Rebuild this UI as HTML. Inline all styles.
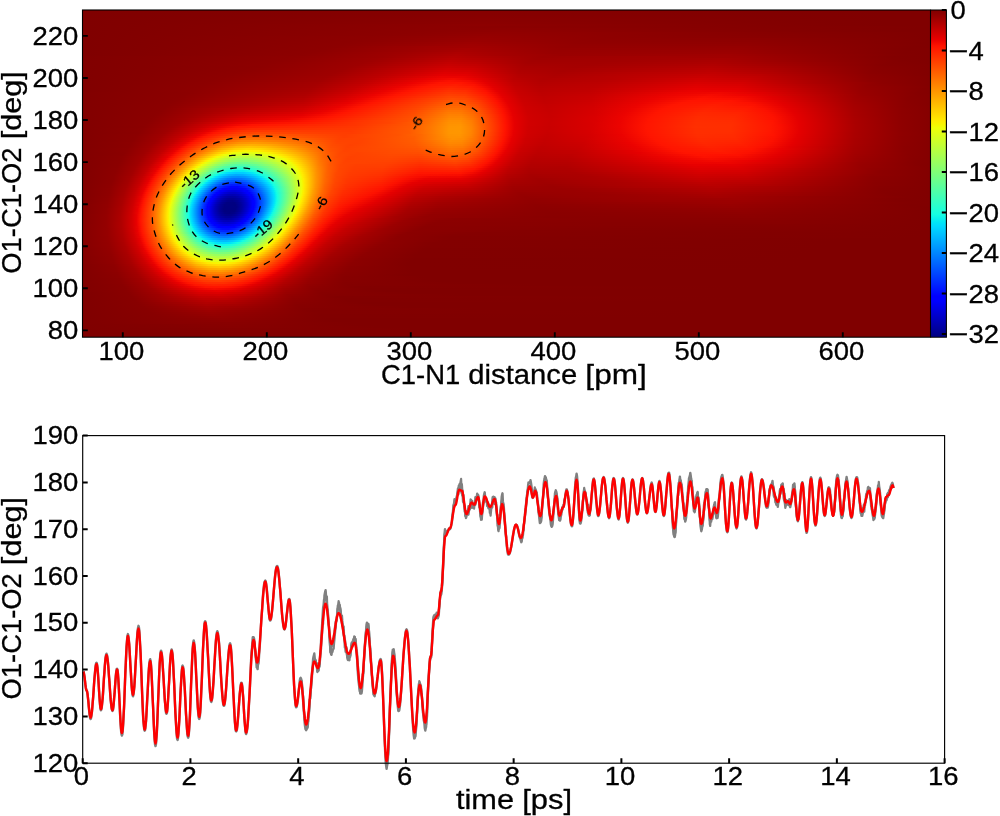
<!DOCTYPE html>
<html><head><meta charset="utf-8"><title>FES and angle time series</title>
<style>html,body{margin:0;padding:0;background:#fff}svg{display:block}text{font-family:"Liberation Sans",sans-serif}</style></head>
<body>
<svg width="1000" height="816" viewBox="0 0 1000 816">
<rect width="1000" height="816" fill="#fff"/>
<defs><linearGradient id="r0" gradientUnits="userSpaceOnUse" x1="83" x2="930" y1="0" y2="0"><stop offset="0.0005903" stop-color="#800000"/><stop offset="0.4728" stop-color="#860000"/><stop offset="0.9451" stop-color="#800000"/><stop offset="0.9994" stop-color="#800000"/></linearGradient><linearGradient id="r1" gradientUnits="userSpaceOnUse" x1="83" x2="930" y1="0" y2="0"><stop offset="0.0005903" stop-color="#800000"/><stop offset="0.4728" stop-color="#870000"/><stop offset="0.9451" stop-color="#800000"/><stop offset="0.9994" stop-color="#800000"/></linearGradient><linearGradient id="r2" gradientUnits="userSpaceOnUse" x1="83" x2="930" y1="0" y2="0"><stop offset="0.0005903" stop-color="#800000"/><stop offset="0.4728" stop-color="#870000"/><stop offset="0.9451" stop-color="#800000"/><stop offset="0.9994" stop-color="#800000"/></linearGradient><linearGradient id="r3" gradientUnits="userSpaceOnUse" x1="83" x2="930" y1="0" y2="0"><stop offset="0.0005903" stop-color="#800000"/><stop offset="0.4728" stop-color="#880000"/><stop offset="0.9451" stop-color="#800000"/><stop offset="0.9994" stop-color="#800000"/></linearGradient><linearGradient id="r4" gradientUnits="userSpaceOnUse" x1="83" x2="930" y1="0" y2="0"><stop offset="0.0005903" stop-color="#800000"/><stop offset="0.4728" stop-color="#890000"/><stop offset="0.9451" stop-color="#800000"/><stop offset="0.9994" stop-color="#800000"/></linearGradient><linearGradient id="r5" gradientUnits="userSpaceOnUse" x1="83" x2="930" y1="0" y2="0"><stop offset="0.0005903" stop-color="#800000"/><stop offset="0.4728" stop-color="#8a0000"/><stop offset="0.9451" stop-color="#800000"/><stop offset="0.9994" stop-color="#800000"/></linearGradient><linearGradient id="r6" gradientUnits="userSpaceOnUse" x1="83" x2="930" y1="0" y2="0"><stop offset="0.0005903" stop-color="#800000"/><stop offset="0.4728" stop-color="#8b0000"/><stop offset="0.9451" stop-color="#800000"/><stop offset="0.9994" stop-color="#800000"/></linearGradient><linearGradient id="r7" gradientUnits="userSpaceOnUse" x1="83" x2="930" y1="0" y2="0"><stop offset="0.0005903" stop-color="#800000"/><stop offset="0.4728" stop-color="#8d0000"/><stop offset="0.9451" stop-color="#800000"/><stop offset="0.9994" stop-color="#800000"/></linearGradient><linearGradient id="r8" gradientUnits="userSpaceOnUse" x1="83" x2="930" y1="0" y2="0"><stop offset="0.0005903" stop-color="#800000"/><stop offset="0.4162" stop-color="#8c0000"/><stop offset="0.5579" stop-color="#8a0000"/><stop offset="0.9994" stop-color="#800000"/></linearGradient><linearGradient id="r9" gradientUnits="userSpaceOnUse" x1="83" x2="930" y1="0" y2="0"><stop offset="0.0005903" stop-color="#800000"/><stop offset="0.4008" stop-color="#8c0000"/><stop offset="0.5118" stop-color="#8d0000"/><stop offset="0.9841" stop-color="#800000"/><stop offset="0.9994" stop-color="#800000"/></linearGradient><linearGradient id="r10" gradientUnits="userSpaceOnUse" x1="83" x2="930" y1="0" y2="0"><stop offset="0.0005903" stop-color="#800000"/><stop offset="0.3867" stop-color="#8c0000"/><stop offset="0.4953" stop-color="#900000"/><stop offset="0.9675" stop-color="#800000"/><stop offset="0.9994" stop-color="#800000"/></linearGradient><linearGradient id="r11" gradientUnits="userSpaceOnUse" x1="83" x2="930" y1="0" y2="0"><stop offset="0.0005903" stop-color="#800000"/><stop offset="0.3749" stop-color="#8c0000"/><stop offset="0.4847" stop-color="#920000"/><stop offset="0.6747" stop-color="#8c0000"/><stop offset="0.9994" stop-color="#800000"/></linearGradient><linearGradient id="r12" gradientUnits="userSpaceOnUse" x1="83" x2="930" y1="0" y2="0"><stop offset="0.0005903" stop-color="#800000"/><stop offset="0.363" stop-color="#8c0000"/><stop offset="0.4776" stop-color="#940000"/><stop offset="0.6464" stop-color="#8d0000"/><stop offset="0.8447" stop-color="#870000"/><stop offset="0.9994" stop-color="#800000"/></linearGradient><linearGradient id="r13" gradientUnits="userSpaceOnUse" x1="83" x2="930" y1="0" y2="0"><stop offset="0.0005903" stop-color="#800000"/><stop offset="0.3512" stop-color="#8d0000"/><stop offset="0.4717" stop-color="#960000"/><stop offset="0.6275" stop-color="#8e0000"/><stop offset="0.82" stop-color="#890000"/><stop offset="0.9994" stop-color="#800000"/></linearGradient><linearGradient id="r14" gradientUnits="userSpaceOnUse" x1="83" x2="930" y1="0" y2="0"><stop offset="0.0005903" stop-color="#800000"/><stop offset="0.3394" stop-color="#8d0000"/><stop offset="0.4669" stop-color="#980000"/><stop offset="0.6122" stop-color="#8f0000"/><stop offset="0.8058" stop-color="#8c0000"/><stop offset="0.9994" stop-color="#800000"/></linearGradient><linearGradient id="r15" gradientUnits="userSpaceOnUse" x1="83" x2="930" y1="0" y2="0"><stop offset="0.0005903" stop-color="#800000"/><stop offset="0.3288" stop-color="#8d0000"/><stop offset="0.4634" stop-color="#9a0000"/><stop offset="0.5992" stop-color="#900000"/><stop offset="0.7952" stop-color="#8e0000"/><stop offset="0.9994" stop-color="#800000"/></linearGradient><linearGradient id="r16" gradientUnits="userSpaceOnUse" x1="83" x2="930" y1="0" y2="0"><stop offset="0.0005903" stop-color="#800000"/><stop offset="0.317" stop-color="#8d0000"/><stop offset="0.4599" stop-color="#9d0000"/><stop offset="0.5885" stop-color="#910000"/><stop offset="0.7881" stop-color="#900000"/><stop offset="0.9935" stop-color="#800000"/><stop offset="0.9994" stop-color="#800000"/></linearGradient><linearGradient id="r17" gradientUnits="userSpaceOnUse" x1="83" x2="930" y1="0" y2="0"><stop offset="0.0005903" stop-color="#800000"/><stop offset="0.3064" stop-color="#8d0000"/><stop offset="0.4575" stop-color="#a00000"/><stop offset="0.5791" stop-color="#930000"/><stop offset="0.7822" stop-color="#920000"/><stop offset="0.9864" stop-color="#810000"/><stop offset="0.9994" stop-color="#800000"/></linearGradient><linearGradient id="r18" gradientUnits="userSpaceOnUse" x1="83" x2="930" y1="0" y2="0"><stop offset="0.0005903" stop-color="#800000"/><stop offset="0.2969" stop-color="#8d0000"/><stop offset="0.4126" stop-color="#9f0000"/><stop offset="0.4669" stop-color="#a20000"/><stop offset="0.5685" stop-color="#940000"/><stop offset="0.7774" stop-color="#950000"/><stop offset="0.9793" stop-color="#810000"/><stop offset="0.9994" stop-color="#800000"/></linearGradient><linearGradient id="r19" gradientUnits="userSpaceOnUse" x1="83" x2="930" y1="0" y2="0"><stop offset="0.0005903" stop-color="#800000"/><stop offset="0.2863" stop-color="#8d0000"/><stop offset="0.3949" stop-color="#9e0000"/><stop offset="0.454" stop-color="#a60000"/><stop offset="0.5626" stop-color="#960000"/><stop offset="0.7739" stop-color="#970000"/><stop offset="0.9746" stop-color="#810000"/><stop offset="0.9994" stop-color="#810000"/></linearGradient><linearGradient id="r20" gradientUnits="userSpaceOnUse" x1="83" x2="930" y1="0" y2="0"><stop offset="0.0005903" stop-color="#800000"/><stop offset="0.2769" stop-color="#8d0000"/><stop offset="0.3831" stop-color="#9d0000"/><stop offset="0.4481" stop-color="#a90000"/><stop offset="0.5579" stop-color="#980000"/><stop offset="0.7704" stop-color="#9a0000"/><stop offset="0.9711" stop-color="#820000"/><stop offset="0.9994" stop-color="#810000"/></linearGradient><linearGradient id="r21" gradientUnits="userSpaceOnUse" x1="83" x2="930" y1="0" y2="0"><stop offset="0.0005903" stop-color="#800000"/><stop offset="0.2686" stop-color="#8d0000"/><stop offset="0.3737" stop-color="#9e0000"/><stop offset="0.4433" stop-color="#ad0000"/><stop offset="0.5543" stop-color="#990000"/><stop offset="0.7668" stop-color="#9c0000"/><stop offset="0.9675" stop-color="#820000"/><stop offset="0.9994" stop-color="#810000"/></linearGradient><linearGradient id="r22" gradientUnits="userSpaceOnUse" x1="83" x2="930" y1="0" y2="0"><stop offset="0.0005903" stop-color="#800000"/><stop offset="0.2591" stop-color="#8d0000"/><stop offset="0.3642" stop-color="#9e0000"/><stop offset="0.441" stop-color="#b10000"/><stop offset="0.4976" stop-color="#a40000"/><stop offset="0.5661" stop-color="#9a0000"/><stop offset="0.7609" stop-color="#a00000"/><stop offset="0.9652" stop-color="#830000"/><stop offset="0.9994" stop-color="#810000"/></linearGradient><linearGradient id="r23" gradientUnits="userSpaceOnUse" x1="83" x2="930" y1="0" y2="0"><stop offset="0.0005903" stop-color="#810000"/><stop offset="0.2509" stop-color="#8e0000"/><stop offset="0.3548" stop-color="#9d0000"/><stop offset="0.4374" stop-color="#b50000"/><stop offset="0.4823" stop-color="#ac0000"/><stop offset="0.5425" stop-color="#9d0000"/><stop offset="0.6771" stop-color="#a20000"/><stop offset="0.7751" stop-color="#a10000"/><stop offset="0.9569" stop-color="#830000"/><stop offset="0.9994" stop-color="#810000"/></linearGradient><linearGradient id="r24" gradientUnits="userSpaceOnUse" x1="83" x2="930" y1="0" y2="0"><stop offset="0.0005903" stop-color="#810000"/><stop offset="0.2426" stop-color="#8e0000"/><stop offset="0.3477" stop-color="#9e0000"/><stop offset="0.4362" stop-color="#b90000"/><stop offset="0.4776" stop-color="#b10000"/><stop offset="0.5354" stop-color="#9f0000"/><stop offset="0.6452" stop-color="#a20000"/><stop offset="0.7562" stop-color="#a60000"/><stop offset="0.9604" stop-color="#830000"/><stop offset="0.9994" stop-color="#810000"/></linearGradient><linearGradient id="r25" gradientUnits="userSpaceOnUse" x1="83" x2="930" y1="0" y2="0"><stop offset="0.0005903" stop-color="#810000"/><stop offset="0.2344" stop-color="#8e0000"/><stop offset="0.3394" stop-color="#9e0000"/><stop offset="0.4339" stop-color="#be0000"/><stop offset="0.4705" stop-color="#b70000"/><stop offset="0.5295" stop-color="#a20000"/><stop offset="0.624" stop-color="#a20000"/><stop offset="0.7491" stop-color="#aa0000"/><stop offset="0.8518" stop-color="#970000"/><stop offset="0.9652" stop-color="#830000"/><stop offset="0.9994" stop-color="#810000"/></linearGradient><linearGradient id="r26" gradientUnits="userSpaceOnUse" x1="83" x2="930" y1="0" y2="0"><stop offset="0.0005903" stop-color="#810000"/><stop offset="0.2249" stop-color="#8e0000"/><stop offset="0.3312" stop-color="#9e0000"/><stop offset="0.4327" stop-color="#c30000"/><stop offset="0.4669" stop-color="#bc0000"/><stop offset="0.5248" stop-color="#a40000"/><stop offset="0.6063" stop-color="#a30000"/><stop offset="0.7456" stop-color="#ad0000"/><stop offset="0.8365" stop-color="#9d0000"/><stop offset="0.9522" stop-color="#850000"/><stop offset="0.9994" stop-color="#810000"/></linearGradient><linearGradient id="r27" gradientUnits="userSpaceOnUse" x1="83" x2="930" y1="0" y2="0"><stop offset="0.0005903" stop-color="#810000"/><stop offset="0.2166" stop-color="#8e0000"/><stop offset="0.3241" stop-color="#9e0000"/><stop offset="0.4315" stop-color="#c80000"/><stop offset="0.4646" stop-color="#c20000"/><stop offset="0.5224" stop-color="#a70000"/><stop offset="0.5956" stop-color="#a40000"/><stop offset="0.7432" stop-color="#b10000"/><stop offset="0.8259" stop-color="#a20000"/><stop offset="0.9439" stop-color="#860000"/><stop offset="0.9994" stop-color="#820000"/></linearGradient><linearGradient id="r28" gradientUnits="userSpaceOnUse" x1="83" x2="930" y1="0" y2="0"><stop offset="0.0005903" stop-color="#810000"/><stop offset="0.2072" stop-color="#8d0000"/><stop offset="0.317" stop-color="#9e0000"/><stop offset="0.4303" stop-color="#cd0000"/><stop offset="0.461" stop-color="#c80000"/><stop offset="0.5189" stop-color="#aa0000"/><stop offset="0.5826" stop-color="#a50000"/><stop offset="0.742" stop-color="#b50000"/><stop offset="0.82" stop-color="#a70000"/><stop offset="0.9392" stop-color="#880000"/><stop offset="0.9994" stop-color="#820000"/></linearGradient><linearGradient id="r29" gradientUnits="userSpaceOnUse" x1="83" x2="930" y1="0" y2="0"><stop offset="0.0005903" stop-color="#810000"/><stop offset="0.1989" stop-color="#8d0000"/><stop offset="0.3099" stop-color="#9e0000"/><stop offset="0.4303" stop-color="#d30000"/><stop offset="0.4599" stop-color="#ce0000"/><stop offset="0.5177" stop-color="#ac0000"/><stop offset="0.5756" stop-color="#a70000"/><stop offset="0.7409" stop-color="#b90000"/><stop offset="0.814" stop-color="#ac0000"/><stop offset="0.9357" stop-color="#890000"/><stop offset="0.9994" stop-color="#820000"/></linearGradient><linearGradient id="r30" gradientUnits="userSpaceOnUse" x1="83" x2="930" y1="0" y2="0"><stop offset="0.0005903" stop-color="#810000"/><stop offset="0.1907" stop-color="#8d0000"/><stop offset="0.304" stop-color="#9f0000"/><stop offset="0.3737" stop-color="#bf0000"/><stop offset="0.428" stop-color="#d90000"/><stop offset="0.4563" stop-color="#d50000"/><stop offset="0.5153" stop-color="#af0000"/><stop offset="0.5661" stop-color="#a80000"/><stop offset="0.7397" stop-color="#bd0000"/><stop offset="0.8093" stop-color="#b00000"/><stop offset="0.9333" stop-color="#8a0000"/><stop offset="0.9994" stop-color="#820000"/></linearGradient><linearGradient id="r31" gradientUnits="userSpaceOnUse" x1="83" x2="930" y1="0" y2="0"><stop offset="0.0005903" stop-color="#810000"/><stop offset="0.1824" stop-color="#8d0000"/><stop offset="0.2981" stop-color="#9f0000"/><stop offset="0.3642" stop-color="#be0000"/><stop offset="0.4268" stop-color="#df0000"/><stop offset="0.454" stop-color="#dc0000"/><stop offset="0.5142" stop-color="#b10000"/><stop offset="0.5614" stop-color="#aa0000"/><stop offset="0.6688" stop-color="#b90000"/><stop offset="0.7456" stop-color="#c10000"/><stop offset="0.814" stop-color="#b20000"/><stop offset="0.9309" stop-color="#8b0000"/><stop offset="0.9994" stop-color="#820000"/></linearGradient><linearGradient id="r32" gradientUnits="userSpaceOnUse" x1="83" x2="930" y1="0" y2="0"><stop offset="0.0005903" stop-color="#810000"/><stop offset="0.1741" stop-color="#8d0000"/><stop offset="0.2922" stop-color="#9f0000"/><stop offset="0.3548" stop-color="#bd0000"/><stop offset="0.4256" stop-color="#e50000"/><stop offset="0.4516" stop-color="#e30000"/><stop offset="0.5142" stop-color="#b40000"/><stop offset="0.5579" stop-color="#ac0000"/><stop offset="0.6547" stop-color="#ba0000"/><stop offset="0.7373" stop-color="#c60000"/><stop offset="0.7999" stop-color="#bb0000"/><stop offset="0.9286" stop-color="#8d0000"/><stop offset="0.9994" stop-color="#820000"/></linearGradient><linearGradient id="r33" gradientUnits="userSpaceOnUse" x1="83" x2="930" y1="0" y2="0"><stop offset="0.0005903" stop-color="#810000"/><stop offset="0.1671" stop-color="#8d0000"/><stop offset="0.2875" stop-color="#a00000"/><stop offset="0.3477" stop-color="#bd0000"/><stop offset="0.4233" stop-color="#eb0300"/><stop offset="0.4481" stop-color="#eb0300"/><stop offset="0.4799" stop-color="#d10000"/><stop offset="0.5142" stop-color="#b60000"/><stop offset="0.5555" stop-color="#ae0000"/><stop offset="0.6464" stop-color="#bb0000"/><stop offset="0.7338" stop-color="#ca0000"/><stop offset="0.794" stop-color="#c10000"/><stop offset="0.9286" stop-color="#8e0000"/><stop offset="0.9994" stop-color="#830000"/></linearGradient><linearGradient id="r34" gradientUnits="userSpaceOnUse" x1="83" x2="930" y1="0" y2="0"><stop offset="0.0005903" stop-color="#810000"/><stop offset="0.16" stop-color="#8d0000"/><stop offset="0.2839" stop-color="#a10000"/><stop offset="0.3418" stop-color="#be0000"/><stop offset="0.4079" stop-color="#eb0200"/><stop offset="0.4374" stop-color="#f50b00"/><stop offset="0.461" stop-color="#e90100"/><stop offset="0.5083" stop-color="#bb0000"/><stop offset="0.5437" stop-color="#b00000"/><stop offset="0.6216" stop-color="#b80000"/><stop offset="0.7279" stop-color="#cf0000"/><stop offset="0.7857" stop-color="#c70000"/><stop offset="0.9286" stop-color="#8f0000"/><stop offset="0.9994" stop-color="#830000"/></linearGradient><linearGradient id="r35" gradientUnits="userSpaceOnUse" x1="83" x2="930" y1="0" y2="0"><stop offset="0.0005903" stop-color="#810000"/><stop offset="0.1541" stop-color="#8d0000"/><stop offset="0.2804" stop-color="#a20000"/><stop offset="0.3371" stop-color="#c00000"/><stop offset="0.3985" stop-color="#eb0300"/><stop offset="0.4327" stop-color="#fc1100"/><stop offset="0.4551" stop-color="#f50b00"/><stop offset="0.4728" stop-color="#e30000"/><stop offset="0.5083" stop-color="#be0000"/><stop offset="0.5413" stop-color="#b20000"/><stop offset="0.6133" stop-color="#b90000"/><stop offset="0.7267" stop-color="#d30000"/><stop offset="0.7822" stop-color="#cd0000"/><stop offset="0.9286" stop-color="#8f0000"/><stop offset="0.9994" stop-color="#830000"/></linearGradient><linearGradient id="r36" gradientUnits="userSpaceOnUse" x1="83" x2="930" y1="0" y2="0"><stop offset="0.0005903" stop-color="#810000"/><stop offset="0.1482" stop-color="#8d0000"/><stop offset="0.2769" stop-color="#a40000"/><stop offset="0.3312" stop-color="#c00000"/><stop offset="0.389" stop-color="#eb0200"/><stop offset="0.4221" stop-color="#ff1400"/><stop offset="0.4469" stop-color="#ff1500"/><stop offset="0.461" stop-color="#f70c00"/><stop offset="0.4764" stop-color="#e40000"/><stop offset="0.5083" stop-color="#c10000"/><stop offset="0.5401" stop-color="#b40000"/><stop offset="0.6086" stop-color="#bb0000"/><stop offset="0.7255" stop-color="#d80000"/><stop offset="0.7786" stop-color="#d30000"/><stop offset="0.8648" stop-color="#ab0000"/><stop offset="0.9416" stop-color="#8d0000"/><stop offset="0.9994" stop-color="#830000"/></linearGradient><linearGradient id="r37" gradientUnits="userSpaceOnUse" x1="83" x2="930" y1="0" y2="0"><stop offset="0.0005903" stop-color="#810000"/><stop offset="0.1423" stop-color="#8d0000"/><stop offset="0.2733" stop-color="#a50000"/><stop offset="0.3264" stop-color="#c20000"/><stop offset="0.3808" stop-color="#eb0300"/><stop offset="0.4115" stop-color="#ff1500"/><stop offset="0.4398" stop-color="#ff1d00"/><stop offset="0.4622" stop-color="#fc1100"/><stop offset="0.4799" stop-color="#e40000"/><stop offset="0.5094" stop-color="#c20000"/><stop offset="0.5401" stop-color="#b60000"/><stop offset="0.6063" stop-color="#bd0000"/><stop offset="0.7243" stop-color="#dd0000"/><stop offset="0.7763" stop-color="#d80000"/><stop offset="0.8495" stop-color="#b60000"/><stop offset="0.9298" stop-color="#910000"/><stop offset="0.9994" stop-color="#830000"/></linearGradient><linearGradient id="r38" gradientUnits="userSpaceOnUse" x1="83" x2="930" y1="0" y2="0"><stop offset="0.0005903" stop-color="#810000"/><stop offset="0.1375" stop-color="#8d0000"/><stop offset="0.271" stop-color="#a60000"/><stop offset="0.3229" stop-color="#c40000"/><stop offset="0.3725" stop-color="#eb0300"/><stop offset="0.402" stop-color="#ff1500"/><stop offset="0.4351" stop-color="#ff2400"/><stop offset="0.4575" stop-color="#ff1b00"/><stop offset="0.4681" stop-color="#fb1000"/><stop offset="0.4835" stop-color="#e40000"/><stop offset="0.5106" stop-color="#c40000"/><stop offset="0.5401" stop-color="#b80000"/><stop offset="0.6039" stop-color="#be0000"/><stop offset="0.7231" stop-color="#e10000"/><stop offset="0.7739" stop-color="#dd0000"/><stop offset="0.84" stop-color="#be0000"/><stop offset="0.9238" stop-color="#940000"/><stop offset="0.9994" stop-color="#840000"/></linearGradient><linearGradient id="r39" gradientUnits="userSpaceOnUse" x1="83" x2="930" y1="0" y2="0"><stop offset="0.0005903" stop-color="#810000"/><stop offset="0.1328" stop-color="#8d0000"/><stop offset="0.2686" stop-color="#a80000"/><stop offset="0.3194" stop-color="#c60000"/><stop offset="0.3642" stop-color="#eb0200"/><stop offset="0.3937" stop-color="#ff1500"/><stop offset="0.4327" stop-color="#ff2b00"/><stop offset="0.454" stop-color="#ff2400"/><stop offset="0.4717" stop-color="#fd1100"/><stop offset="0.4858" stop-color="#e50000"/><stop offset="0.5106" stop-color="#c60000"/><stop offset="0.539" stop-color="#ba0000"/><stop offset="0.598" stop-color="#bf0000"/><stop offset="0.7231" stop-color="#e60000"/><stop offset="0.7727" stop-color="#e20000"/><stop offset="0.8341" stop-color="#c50000"/><stop offset="0.9203" stop-color="#960000"/><stop offset="0.9947" stop-color="#840000"/><stop offset="0.9994" stop-color="#840000"/></linearGradient><linearGradient id="r40" gradientUnits="userSpaceOnUse" x1="83" x2="930" y1="0" y2="0"><stop offset="0.0005903" stop-color="#810000"/><stop offset="0.1281" stop-color="#8d0000"/><stop offset="0.2662" stop-color="#aa0000"/><stop offset="0.3158" stop-color="#c90000"/><stop offset="0.3571" stop-color="#eb0300"/><stop offset="0.3855" stop-color="#ff1500"/><stop offset="0.4315" stop-color="#ff3100"/><stop offset="0.4516" stop-color="#ff2d00"/><stop offset="0.4752" stop-color="#fd1100"/><stop offset="0.4882" stop-color="#e60000"/><stop offset="0.5118" stop-color="#c80000"/><stop offset="0.539" stop-color="#bb0000"/><stop offset="0.5968" stop-color="#c10000"/><stop offset="0.722" stop-color="#eb0200"/><stop offset="0.7704" stop-color="#e80000"/><stop offset="0.8282" stop-color="#cc0000"/><stop offset="0.9168" stop-color="#990000"/><stop offset="0.9876" stop-color="#860000"/><stop offset="0.9994" stop-color="#840000"/></linearGradient><linearGradient id="r41" gradientUnits="userSpaceOnUse" x1="83" x2="930" y1="0" y2="0"><stop offset="0.0005903" stop-color="#820000"/><stop offset="0.1234" stop-color="#8c0000"/><stop offset="0.2651" stop-color="#ad0000"/><stop offset="0.3146" stop-color="#cd0000"/><stop offset="0.3501" stop-color="#eb0300"/><stop offset="0.3772" stop-color="#ff1500"/><stop offset="0.4315" stop-color="#ff3800"/><stop offset="0.4516" stop-color="#ff3300"/><stop offset="0.4764" stop-color="#ff1400"/><stop offset="0.4917" stop-color="#e40000"/><stop offset="0.5142" stop-color="#c80000"/><stop offset="0.5413" stop-color="#bd0000"/><stop offset="0.5992" stop-color="#c40000"/><stop offset="0.7031" stop-color="#eb0300"/><stop offset="0.7527" stop-color="#f00700"/><stop offset="0.8011" stop-color="#e00000"/><stop offset="0.9168" stop-color="#9a0000"/><stop offset="0.9852" stop-color="#860000"/><stop offset="0.9994" stop-color="#840000"/></linearGradient><linearGradient id="r42" gradientUnits="userSpaceOnUse" x1="83" x2="930" y1="0" y2="0"><stop offset="0.0005903" stop-color="#820000"/><stop offset="0.1187" stop-color="#8c0000"/><stop offset="0.2627" stop-color="#af0000"/><stop offset="0.3111" stop-color="#d00000"/><stop offset="0.343" stop-color="#ec0300"/><stop offset="0.3701" stop-color="#ff1500"/><stop offset="0.4327" stop-color="#ff3f00"/><stop offset="0.4516" stop-color="#ff3a00"/><stop offset="0.4752" stop-color="#ff1b00"/><stop offset="0.4811" stop-color="#fd1100"/><stop offset="0.4941" stop-color="#e40000"/><stop offset="0.5153" stop-color="#c90000"/><stop offset="0.5425" stop-color="#be0000"/><stop offset="0.6004" stop-color="#c70000"/><stop offset="0.6901" stop-color="#eb0300"/><stop offset="0.742" stop-color="#f60b00"/><stop offset="0.7881" stop-color="#eb0200"/><stop offset="0.9191" stop-color="#9a0000"/><stop offset="0.9864" stop-color="#860000"/><stop offset="0.9994" stop-color="#850000"/></linearGradient><linearGradient id="r43" gradientUnits="userSpaceOnUse" x1="83" x2="930" y1="0" y2="0"><stop offset="0.0005903" stop-color="#820000"/><stop offset="0.1151" stop-color="#8c0000"/><stop offset="0.2615" stop-color="#b20000"/><stop offset="0.3099" stop-color="#d40000"/><stop offset="0.3359" stop-color="#eb0300"/><stop offset="0.3619" stop-color="#ff1500"/><stop offset="0.4327" stop-color="#ff4600"/><stop offset="0.4504" stop-color="#ff4200"/><stop offset="0.4717" stop-color="#ff2600"/><stop offset="0.4835" stop-color="#fd1200"/><stop offset="0.4953" stop-color="#e60000"/><stop offset="0.5165" stop-color="#ca0000"/><stop offset="0.5437" stop-color="#c00000"/><stop offset="0.6004" stop-color="#c90000"/><stop offset="0.6806" stop-color="#eb0300"/><stop offset="0.7338" stop-color="#fa0f00"/><stop offset="0.7786" stop-color="#f30900"/><stop offset="0.8105" stop-color="#e30000"/><stop offset="0.9132" stop-color="#9e0000"/><stop offset="0.9782" stop-color="#880000"/><stop offset="0.9994" stop-color="#850000"/></linearGradient><linearGradient id="r44" gradientUnits="userSpaceOnUse" x1="83" x2="930" y1="0" y2="0"><stop offset="0.0005903" stop-color="#820000"/><stop offset="0.1116" stop-color="#8c0000"/><stop offset="0.2603" stop-color="#b60000"/><stop offset="0.3099" stop-color="#da0000"/><stop offset="0.3288" stop-color="#eb0300"/><stop offset="0.3548" stop-color="#ff1500"/><stop offset="0.4115" stop-color="#ff3f00"/><stop offset="0.4362" stop-color="#ff4e00"/><stop offset="0.454" stop-color="#ff4600"/><stop offset="0.4776" stop-color="#ff2100"/><stop offset="0.4858" stop-color="#fd1200"/><stop offset="0.4976" stop-color="#e50000"/><stop offset="0.5177" stop-color="#cb0000"/><stop offset="0.5437" stop-color="#c10000"/><stop offset="0.5992" stop-color="#ca0000"/><stop offset="0.6724" stop-color="#eb0300"/><stop offset="0.729" stop-color="#fe1200"/><stop offset="0.7727" stop-color="#fa0e00"/><stop offset="0.8152" stop-color="#e30000"/><stop offset="0.912" stop-color="#a00000"/><stop offset="0.9746" stop-color="#890000"/><stop offset="0.9994" stop-color="#850000"/></linearGradient><linearGradient id="r45" gradientUnits="userSpaceOnUse" x1="83" x2="930" y1="0" y2="0"><stop offset="0.0005903" stop-color="#820000"/><stop offset="0.108" stop-color="#8c0000"/><stop offset="0.2603" stop-color="#ba0000"/><stop offset="0.3111" stop-color="#e10000"/><stop offset="0.3253" stop-color="#ee0500"/><stop offset="0.3477" stop-color="#ff1500"/><stop offset="0.4044" stop-color="#ff3e00"/><stop offset="0.4339" stop-color="#ff5500"/><stop offset="0.4504" stop-color="#ff5000"/><stop offset="0.4693" stop-color="#ff3600"/><stop offset="0.4882" stop-color="#fd1100"/><stop offset="0.4988" stop-color="#e70000"/><stop offset="0.5189" stop-color="#cc0000"/><stop offset="0.5449" stop-color="#c20000"/><stop offset="0.6004" stop-color="#cd0000"/><stop offset="0.6665" stop-color="#eb0300"/><stop offset="0.7172" stop-color="#ff1400"/><stop offset="0.7656" stop-color="#ff1400"/><stop offset="0.807" stop-color="#ec0400"/><stop offset="0.8306" stop-color="#db0000"/><stop offset="0.912" stop-color="#a10000"/><stop offset="0.9734" stop-color="#8a0000"/><stop offset="0.9994" stop-color="#850000"/></linearGradient><linearGradient id="r46" gradientUnits="userSpaceOnUse" x1="83" x2="930" y1="0" y2="0"><stop offset="0.0005903" stop-color="#820000"/><stop offset="0.1045" stop-color="#8c0000"/><stop offset="0.2603" stop-color="#bf0000"/><stop offset="0.3135" stop-color="#e90100"/><stop offset="0.3406" stop-color="#ff1500"/><stop offset="0.4008" stop-color="#ff4000"/><stop offset="0.4327" stop-color="#ff5c00"/><stop offset="0.4492" stop-color="#ff5800"/><stop offset="0.4669" stop-color="#ff4000"/><stop offset="0.4894" stop-color="#fe1200"/><stop offset="0.5012" stop-color="#e50000"/><stop offset="0.5201" stop-color="#cd0000"/><stop offset="0.546" stop-color="#c30000"/><stop offset="0.6004" stop-color="#cf0000"/><stop offset="0.6606" stop-color="#eb0300"/><stop offset="0.7066" stop-color="#ff1500"/><stop offset="0.755" stop-color="#ff1900"/><stop offset="0.7869" stop-color="#fc1000"/><stop offset="0.8247" stop-color="#e30000"/><stop offset="0.9109" stop-color="#a30000"/><stop offset="0.9711" stop-color="#8b0000"/><stop offset="0.9994" stop-color="#850000"/></linearGradient><linearGradient id="r47" gradientUnits="userSpaceOnUse" x1="83" x2="930" y1="0" y2="0"><stop offset="0.0005903" stop-color="#820000"/><stop offset="0.1009" stop-color="#8c0000"/><stop offset="0.2166" stop-color="#b40000"/><stop offset="0.2639" stop-color="#c60000"/><stop offset="0.3087" stop-color="#eb0300"/><stop offset="0.3335" stop-color="#ff1500"/><stop offset="0.3985" stop-color="#ff4300"/><stop offset="0.4327" stop-color="#ff6200"/><stop offset="0.4492" stop-color="#ff5f00"/><stop offset="0.4658" stop-color="#ff4800"/><stop offset="0.4917" stop-color="#fc1100"/><stop offset="0.5024" stop-color="#e60000"/><stop offset="0.5213" stop-color="#cd0000"/><stop offset="0.5472" stop-color="#c50000"/><stop offset="0.6015" stop-color="#d10000"/><stop offset="0.6547" stop-color="#eb0300"/><stop offset="0.6972" stop-color="#ff1500"/><stop offset="0.7468" stop-color="#ff1d00"/><stop offset="0.7928" stop-color="#fc1100"/><stop offset="0.827" stop-color="#e40000"/><stop offset="0.9097" stop-color="#a50000"/><stop offset="0.9687" stop-color="#8c0000"/><stop offset="0.9994" stop-color="#850000"/></linearGradient><linearGradient id="r48" gradientUnits="userSpaceOnUse" x1="83" x2="930" y1="0" y2="0"><stop offset="0.0005903" stop-color="#820000"/><stop offset="0.0974" stop-color="#8c0000"/><stop offset="0.2119" stop-color="#b80000"/><stop offset="0.2603" stop-color="#ca0000"/><stop offset="0.3017" stop-color="#eb0200"/><stop offset="0.3264" stop-color="#ff1500"/><stop offset="0.3961" stop-color="#ff4500"/><stop offset="0.4315" stop-color="#ff6800"/><stop offset="0.4469" stop-color="#ff6800"/><stop offset="0.4622" stop-color="#ff5400"/><stop offset="0.4929" stop-color="#fd1100"/><stop offset="0.5035" stop-color="#e60000"/><stop offset="0.5224" stop-color="#ce0000"/><stop offset="0.5484" stop-color="#c60000"/><stop offset="0.6027" stop-color="#d30000"/><stop offset="0.6511" stop-color="#eb0300"/><stop offset="0.6913" stop-color="#ff1500"/><stop offset="0.742" stop-color="#ff2000"/><stop offset="0.7881" stop-color="#ff1600"/><stop offset="0.8058" stop-color="#f70d00"/><stop offset="0.8306" stop-color="#e40000"/><stop offset="0.9097" stop-color="#a60000"/><stop offset="0.9687" stop-color="#8c0000"/><stop offset="0.9994" stop-color="#860000"/></linearGradient><linearGradient id="r49" gradientUnits="userSpaceOnUse" x1="83" x2="930" y1="0" y2="0"><stop offset="0.0005903" stop-color="#820000"/><stop offset="0.09504" stop-color="#8c0000"/><stop offset="0.1623" stop-color="#aa0000"/><stop offset="0.2591" stop-color="#cf0000"/><stop offset="0.2946" stop-color="#eb0200"/><stop offset="0.3205" stop-color="#ff1500"/><stop offset="0.3949" stop-color="#ff4800"/><stop offset="0.4315" stop-color="#ff6f00"/><stop offset="0.4469" stop-color="#ff6e00"/><stop offset="0.4622" stop-color="#ff5a00"/><stop offset="0.4941" stop-color="#fd1200"/><stop offset="0.5047" stop-color="#e60000"/><stop offset="0.5224" stop-color="#cf0000"/><stop offset="0.5484" stop-color="#c70000"/><stop offset="0.6015" stop-color="#d40000"/><stop offset="0.6464" stop-color="#eb0300"/><stop offset="0.6854" stop-color="#ff1500"/><stop offset="0.7373" stop-color="#ff2300"/><stop offset="0.7822" stop-color="#ff1b00"/><stop offset="0.8034" stop-color="#fc1100"/><stop offset="0.8341" stop-color="#e40000"/><stop offset="0.9097" stop-color="#a70000"/><stop offset="0.9675" stop-color="#8d0000"/><stop offset="0.9994" stop-color="#860000"/></linearGradient><linearGradient id="r50" gradientUnits="userSpaceOnUse" x1="83" x2="930" y1="0" y2="0"><stop offset="0.0005903" stop-color="#820000"/><stop offset="0.0915" stop-color="#8c0000"/><stop offset="0.1482" stop-color="#a60000"/><stop offset="0.2037" stop-color="#c10000"/><stop offset="0.2568" stop-color="#d40000"/><stop offset="0.2875" stop-color="#eb0300"/><stop offset="0.3135" stop-color="#ff1500"/><stop offset="0.3926" stop-color="#ff4a00"/><stop offset="0.4315" stop-color="#ff7500"/><stop offset="0.4469" stop-color="#ff7500"/><stop offset="0.4622" stop-color="#ff6000"/><stop offset="0.4953" stop-color="#fd1200"/><stop offset="0.5059" stop-color="#e60000"/><stop offset="0.5236" stop-color="#cf0000"/><stop offset="0.5496" stop-color="#c70000"/><stop offset="0.6027" stop-color="#d60000"/><stop offset="0.644" stop-color="#eb0300"/><stop offset="0.6806" stop-color="#ff1500"/><stop offset="0.7338" stop-color="#ff2500"/><stop offset="0.7774" stop-color="#ff1f00"/><stop offset="0.807" stop-color="#fc1100"/><stop offset="0.8365" stop-color="#e40000"/><stop offset="0.9109" stop-color="#a70000"/><stop offset="0.9675" stop-color="#8d0000"/><stop offset="0.9994" stop-color="#860000"/></linearGradient><linearGradient id="r51" gradientUnits="userSpaceOnUse" x1="83" x2="930" y1="0" y2="0"><stop offset="0.0005903" stop-color="#820000"/><stop offset="0.08914" stop-color="#8c0000"/><stop offset="0.1399" stop-color="#a40000"/><stop offset="0.1966" stop-color="#c50000"/><stop offset="0.2568" stop-color="#dc0000"/><stop offset="0.2792" stop-color="#eb0300"/><stop offset="0.3064" stop-color="#ff1500"/><stop offset="0.3914" stop-color="#ff4c00"/><stop offset="0.4315" stop-color="#ff7b00"/><stop offset="0.4457" stop-color="#ff7b00"/><stop offset="0.4599" stop-color="#ff6900"/><stop offset="0.4965" stop-color="#fd1100"/><stop offset="0.5071" stop-color="#e50000"/><stop offset="0.5248" stop-color="#cf0000"/><stop offset="0.5508" stop-color="#c80000"/><stop offset="0.6039" stop-color="#d70000"/><stop offset="0.6405" stop-color="#eb0300"/><stop offset="0.6771" stop-color="#ff1500"/><stop offset="0.7314" stop-color="#ff2800"/><stop offset="0.7751" stop-color="#ff2300"/><stop offset="0.8105" stop-color="#fc1100"/><stop offset="0.8388" stop-color="#e40000"/><stop offset="0.9109" stop-color="#a80000"/><stop offset="0.9675" stop-color="#8d0000"/><stop offset="0.9994" stop-color="#860000"/></linearGradient><linearGradient id="r52" gradientUnits="userSpaceOnUse" x1="83" x2="930" y1="0" y2="0"><stop offset="0.0005903" stop-color="#820000"/><stop offset="0.08678" stop-color="#8c0000"/><stop offset="0.134" stop-color="#a40000"/><stop offset="0.193" stop-color="#cb0000"/><stop offset="0.258" stop-color="#e40000"/><stop offset="0.2816" stop-color="#f40a00"/><stop offset="0.2993" stop-color="#ff1500"/><stop offset="0.3902" stop-color="#ff4e00"/><stop offset="0.4327" stop-color="#ff8100"/><stop offset="0.4469" stop-color="#ff8000"/><stop offset="0.461" stop-color="#ff6c00"/><stop offset="0.4965" stop-color="#ff1300"/><stop offset="0.5071" stop-color="#e70000"/><stop offset="0.5248" stop-color="#d00000"/><stop offset="0.5508" stop-color="#c90000"/><stop offset="0.6039" stop-color="#d80000"/><stop offset="0.6393" stop-color="#ec0300"/><stop offset="0.6736" stop-color="#ff1500"/><stop offset="0.729" stop-color="#ff2900"/><stop offset="0.7715" stop-color="#ff2600"/><stop offset="0.8129" stop-color="#fd1100"/><stop offset="0.84" stop-color="#e50000"/><stop offset="0.9109" stop-color="#a80000"/><stop offset="0.9664" stop-color="#8e0000"/><stop offset="0.9994" stop-color="#860000"/></linearGradient><linearGradient id="r53" gradientUnits="userSpaceOnUse" x1="83" x2="930" y1="0" y2="0"><stop offset="0.0005903" stop-color="#820000"/><stop offset="0.08323" stop-color="#8c0000"/><stop offset="0.1269" stop-color="#a20000"/><stop offset="0.1895" stop-color="#d10000"/><stop offset="0.2568" stop-color="#eb0300"/><stop offset="0.291" stop-color="#ff1500"/><stop offset="0.3878" stop-color="#ff4f00"/><stop offset="0.4327" stop-color="#ff8500"/><stop offset="0.4469" stop-color="#ff8500"/><stop offset="0.461" stop-color="#ff7000"/><stop offset="0.4976" stop-color="#fe1200"/><stop offset="0.5083" stop-color="#e60000"/><stop offset="0.526" stop-color="#d00000"/><stop offset="0.5519" stop-color="#c90000"/><stop offset="0.6051" stop-color="#da0000"/><stop offset="0.637" stop-color="#ec0300"/><stop offset="0.6712" stop-color="#ff1500"/><stop offset="0.7267" stop-color="#ff2b00"/><stop offset="0.7692" stop-color="#ff2800"/><stop offset="0.8152" stop-color="#fd1100"/><stop offset="0.8424" stop-color="#e40000"/><stop offset="0.9109" stop-color="#a90000"/><stop offset="0.9664" stop-color="#8e0000"/><stop offset="0.9994" stop-color="#860000"/></linearGradient><linearGradient id="r54" gradientUnits="userSpaceOnUse" x1="83" x2="930" y1="0" y2="0"><stop offset="0.0005903" stop-color="#820000"/><stop offset="0.08087" stop-color="#8c0000"/><stop offset="0.1222" stop-color="#a20000"/><stop offset="0.1871" stop-color="#d80000"/><stop offset="0.2403" stop-color="#ec0300"/><stop offset="0.2804" stop-color="#ff1500"/><stop offset="0.3867" stop-color="#ff5100"/><stop offset="0.4327" stop-color="#ff8a00"/><stop offset="0.4469" stop-color="#ff8a00"/><stop offset="0.461" stop-color="#ff7400"/><stop offset="0.4976" stop-color="#ff1300"/><stop offset="0.5083" stop-color="#e70000"/><stop offset="0.526" stop-color="#d00000"/><stop offset="0.5519" stop-color="#ca0000"/><stop offset="0.6039" stop-color="#da0000"/><stop offset="0.6358" stop-color="#ec0300"/><stop offset="0.6688" stop-color="#ff1500"/><stop offset="0.7255" stop-color="#ff2c00"/><stop offset="0.768" stop-color="#ff2a00"/><stop offset="0.8164" stop-color="#fd1100"/><stop offset="0.8436" stop-color="#e40000"/><stop offset="0.9109" stop-color="#aa0000"/><stop offset="0.9664" stop-color="#8e0000"/><stop offset="0.9994" stop-color="#860000"/></linearGradient><linearGradient id="r55" gradientUnits="userSpaceOnUse" x1="83" x2="930" y1="0" y2="0"><stop offset="0.0005903" stop-color="#820000"/><stop offset="0.07851" stop-color="#8c0000"/><stop offset="0.1175" stop-color="#a10000"/><stop offset="0.186" stop-color="#e10000"/><stop offset="0.245" stop-color="#f70c00"/><stop offset="0.2686" stop-color="#ff1600"/><stop offset="0.3831" stop-color="#ff5000"/><stop offset="0.4091" stop-color="#ff6f00"/><stop offset="0.4327" stop-color="#ff8e00"/><stop offset="0.4457" stop-color="#ff8e00"/><stop offset="0.4587" stop-color="#ff7d00"/><stop offset="0.4799" stop-color="#ff4400"/><stop offset="0.4988" stop-color="#fd1200"/><stop offset="0.5094" stop-color="#e50000"/><stop offset="0.5272" stop-color="#d00000"/><stop offset="0.5531" stop-color="#ca0000"/><stop offset="0.6063" stop-color="#db0000"/><stop offset="0.6346" stop-color="#ec0300"/><stop offset="0.6677" stop-color="#ff1500"/><stop offset="0.7243" stop-color="#ff2d00"/><stop offset="0.7668" stop-color="#ff2c00"/><stop offset="0.814" stop-color="#ff1400"/><stop offset="0.8447" stop-color="#e40000"/><stop offset="0.9109" stop-color="#aa0000"/><stop offset="0.9652" stop-color="#8f0000"/><stop offset="0.9994" stop-color="#860000"/></linearGradient><linearGradient id="r56" gradientUnits="userSpaceOnUse" x1="83" x2="930" y1="0" y2="0"><stop offset="0.0005903" stop-color="#820000"/><stop offset="0.07615" stop-color="#8c0000"/><stop offset="0.1139" stop-color="#a10000"/><stop offset="0.1836" stop-color="#ea0200"/><stop offset="0.2214" stop-color="#fa0f00"/><stop offset="0.2591" stop-color="#ff1900"/><stop offset="0.3619" stop-color="#ff4500"/><stop offset="0.3926" stop-color="#ff5b00"/><stop offset="0.4315" stop-color="#ff9000"/><stop offset="0.4457" stop-color="#ff9100"/><stop offset="0.4587" stop-color="#ff7f00"/><stop offset="0.4787" stop-color="#ff4900"/><stop offset="0.4988" stop-color="#fe1200"/><stop offset="0.5094" stop-color="#e60000"/><stop offset="0.526" stop-color="#d10000"/><stop offset="0.5508" stop-color="#ca0000"/><stop offset="0.6015" stop-color="#d90000"/><stop offset="0.6334" stop-color="#eb0300"/><stop offset="0.6665" stop-color="#ff1500"/><stop offset="0.7243" stop-color="#ff2e00"/><stop offset="0.7668" stop-color="#ff2d00"/><stop offset="0.814" stop-color="#ff1500"/><stop offset="0.8447" stop-color="#e50000"/><stop offset="0.9109" stop-color="#aa0000"/><stop offset="0.9652" stop-color="#8f0000"/><stop offset="0.9994" stop-color="#860000"/></linearGradient><linearGradient id="r57" gradientUnits="userSpaceOnUse" x1="83" x2="930" y1="0" y2="0"><stop offset="0.0005903" stop-color="#820000"/><stop offset="0.07379" stop-color="#8c0000"/><stop offset="0.1104" stop-color="#a10000"/><stop offset="0.1541" stop-color="#d50000"/><stop offset="0.173" stop-color="#ec0300"/><stop offset="0.2001" stop-color="#ff1300"/><stop offset="0.3229" stop-color="#ff3500"/><stop offset="0.3855" stop-color="#ff5600"/><stop offset="0.4115" stop-color="#ff7700"/><stop offset="0.4327" stop-color="#ff9300"/><stop offset="0.4457" stop-color="#ff9400"/><stop offset="0.4587" stop-color="#ff8100"/><stop offset="0.4787" stop-color="#ff4a00"/><stop offset="0.4988" stop-color="#ff1300"/><stop offset="0.5094" stop-color="#e60000"/><stop offset="0.526" stop-color="#d10000"/><stop offset="0.5508" stop-color="#ca0000"/><stop offset="0.6015" stop-color="#d90000"/><stop offset="0.6334" stop-color="#ec0300"/><stop offset="0.6653" stop-color="#ff1500"/><stop offset="0.7231" stop-color="#ff2e00"/><stop offset="0.7656" stop-color="#ff2e00"/><stop offset="0.8117" stop-color="#ff1700"/><stop offset="0.8223" stop-color="#fb0f00"/><stop offset="0.8459" stop-color="#e40000"/><stop offset="0.912" stop-color="#aa0000"/><stop offset="0.9664" stop-color="#8f0000"/><stop offset="0.9994" stop-color="#860000"/></linearGradient><linearGradient id="r58" gradientUnits="userSpaceOnUse" x1="83" x2="930" y1="0" y2="0"><stop offset="0.0005903" stop-color="#820000"/><stop offset="0.07143" stop-color="#8b0000"/><stop offset="0.1057" stop-color="#a00000"/><stop offset="0.1399" stop-color="#c90000"/><stop offset="0.1623" stop-color="#ea0200"/><stop offset="0.1824" stop-color="#ff1500"/><stop offset="0.2155" stop-color="#ff2200"/><stop offset="0.3229" stop-color="#ff3800"/><stop offset="0.3855" stop-color="#ff5800"/><stop offset="0.4115" stop-color="#ff7900"/><stop offset="0.4327" stop-color="#ff9500"/><stop offset="0.4457" stop-color="#ff9600"/><stop offset="0.4587" stop-color="#ff8300"/><stop offset="0.4787" stop-color="#ff4b00"/><stop offset="0.4988" stop-color="#ff1300"/><stop offset="0.5094" stop-color="#e60000"/><stop offset="0.526" stop-color="#d00000"/><stop offset="0.5508" stop-color="#c90000"/><stop offset="0.6015" stop-color="#d90000"/><stop offset="0.6334" stop-color="#ec0300"/><stop offset="0.6653" stop-color="#ff1500"/><stop offset="0.7231" stop-color="#ff2f00"/><stop offset="0.7645" stop-color="#ff2e00"/><stop offset="0.8105" stop-color="#ff1800"/><stop offset="0.8223" stop-color="#fb1000"/><stop offset="0.8459" stop-color="#e40000"/><stop offset="0.912" stop-color="#aa0000"/><stop offset="0.9664" stop-color="#8f0000"/><stop offset="0.9994" stop-color="#860000"/></linearGradient><linearGradient id="r59" gradientUnits="userSpaceOnUse" x1="83" x2="930" y1="0" y2="0"><stop offset="0.0005903" stop-color="#820000"/><stop offset="0.07025" stop-color="#8c0000"/><stop offset="0.1033" stop-color="#a10000"/><stop offset="0.1352" stop-color="#ca0000"/><stop offset="0.1553" stop-color="#eb0200"/><stop offset="0.1706" stop-color="#ff1500"/><stop offset="0.1989" stop-color="#ff2a00"/><stop offset="0.3217" stop-color="#ff3a00"/><stop offset="0.3855" stop-color="#ff5900"/><stop offset="0.4103" stop-color="#ff7800"/><stop offset="0.4327" stop-color="#ff9600"/><stop offset="0.4457" stop-color="#ff9600"/><stop offset="0.4587" stop-color="#ff8400"/><stop offset="0.4787" stop-color="#ff4b00"/><stop offset="0.4988" stop-color="#ff1300"/><stop offset="0.5094" stop-color="#e60000"/><stop offset="0.526" stop-color="#d00000"/><stop offset="0.5508" stop-color="#c90000"/><stop offset="0.6015" stop-color="#d90000"/><stop offset="0.6334" stop-color="#eb0300"/><stop offset="0.6653" stop-color="#ff1500"/><stop offset="0.7231" stop-color="#ff2e00"/><stop offset="0.7645" stop-color="#ff2e00"/><stop offset="0.8105" stop-color="#ff1800"/><stop offset="0.8223" stop-color="#fb1000"/><stop offset="0.8459" stop-color="#e40000"/><stop offset="0.912" stop-color="#aa0000"/><stop offset="0.9664" stop-color="#8f0000"/><stop offset="0.9994" stop-color="#860000"/></linearGradient><linearGradient id="r60" gradientUnits="userSpaceOnUse" x1="83" x2="930" y1="0" y2="0"><stop offset="0.0005903" stop-color="#820000"/><stop offset="0.06789" stop-color="#8c0000"/><stop offset="0.09976" stop-color="#a00000"/><stop offset="0.1281" stop-color="#c60000"/><stop offset="0.1482" stop-color="#e90100"/><stop offset="0.1612" stop-color="#ff1400"/><stop offset="0.1883" stop-color="#ff3100"/><stop offset="0.219" stop-color="#ff3a00"/><stop offset="0.3158" stop-color="#ff3a00"/><stop offset="0.3843" stop-color="#ff5900"/><stop offset="0.4091" stop-color="#ff7600"/><stop offset="0.4315" stop-color="#ff9500"/><stop offset="0.4445" stop-color="#ff9700"/><stop offset="0.4575" stop-color="#ff8600"/><stop offset="0.4752" stop-color="#ff5600"/><stop offset="0.4976" stop-color="#ff1500"/><stop offset="0.5083" stop-color="#e70000"/><stop offset="0.5248" stop-color="#d00000"/><stop offset="0.5484" stop-color="#c90000"/><stop offset="0.5968" stop-color="#d60000"/><stop offset="0.6334" stop-color="#eb0300"/><stop offset="0.6665" stop-color="#ff1500"/><stop offset="0.7243" stop-color="#ff2e00"/><stop offset="0.7656" stop-color="#ff2e00"/><stop offset="0.8117" stop-color="#ff1700"/><stop offset="0.8235" stop-color="#f90e00"/><stop offset="0.8459" stop-color="#e40000"/><stop offset="0.912" stop-color="#aa0000"/><stop offset="0.9664" stop-color="#8e0000"/><stop offset="0.9994" stop-color="#860000"/></linearGradient><linearGradient id="r61" gradientUnits="userSpaceOnUse" x1="83" x2="930" y1="0" y2="0"><stop offset="0.0005903" stop-color="#820000"/><stop offset="0.06553" stop-color="#8b0000"/><stop offset="0.09622" stop-color="#9f0000"/><stop offset="0.1234" stop-color="#c50000"/><stop offset="0.1434" stop-color="#eb0300"/><stop offset="0.1541" stop-color="#ff1400"/><stop offset="0.1824" stop-color="#ff3a00"/><stop offset="0.2072" stop-color="#ff4700"/><stop offset="0.2816" stop-color="#ff3e00"/><stop offset="0.3182" stop-color="#ff3c00"/><stop offset="0.3855" stop-color="#ff5a00"/><stop offset="0.4103" stop-color="#ff7800"/><stop offset="0.4327" stop-color="#ff9600"/><stop offset="0.4457" stop-color="#ff9600"/><stop offset="0.4587" stop-color="#ff8300"/><stop offset="0.4787" stop-color="#ff4a00"/><stop offset="0.4988" stop-color="#fd1100"/><stop offset="0.5083" stop-color="#e60000"/><stop offset="0.5248" stop-color="#d00000"/><stop offset="0.5484" stop-color="#c80000"/><stop offset="0.598" stop-color="#d60000"/><stop offset="0.6346" stop-color="#eb0300"/><stop offset="0.6677" stop-color="#ff1500"/><stop offset="0.7243" stop-color="#ff2e00"/><stop offset="0.7656" stop-color="#ff2d00"/><stop offset="0.8117" stop-color="#ff1600"/><stop offset="0.8235" stop-color="#f90e00"/><stop offset="0.8447" stop-color="#e50000"/><stop offset="0.9109" stop-color="#aa0000"/><stop offset="0.9652" stop-color="#8f0000"/><stop offset="0.9994" stop-color="#860000"/></linearGradient><linearGradient id="r62" gradientUnits="userSpaceOnUse" x1="83" x2="930" y1="0" y2="0"><stop offset="0.0005903" stop-color="#820000"/><stop offset="0.06434" stop-color="#8c0000"/><stop offset="0.09386" stop-color="#a00000"/><stop offset="0.1187" stop-color="#c30000"/><stop offset="0.1375" stop-color="#ea0100"/><stop offset="0.1482" stop-color="#ff1500"/><stop offset="0.1777" stop-color="#ff4400"/><stop offset="0.2001" stop-color="#ff5400"/><stop offset="0.2379" stop-color="#ff5200"/><stop offset="0.3087" stop-color="#ff3d00"/><stop offset="0.3725" stop-color="#ff5300"/><stop offset="0.3973" stop-color="#ff6500"/><stop offset="0.4315" stop-color="#ff9300"/><stop offset="0.4445" stop-color="#ff9500"/><stop offset="0.4575" stop-color="#ff8400"/><stop offset="0.4764" stop-color="#ff5000"/><stop offset="0.4976" stop-color="#ff1300"/><stop offset="0.5083" stop-color="#e50000"/><stop offset="0.5248" stop-color="#cf0000"/><stop offset="0.5484" stop-color="#c70000"/><stop offset="0.598" stop-color="#d50000"/><stop offset="0.6358" stop-color="#eb0200"/><stop offset="0.6688" stop-color="#ff1500"/><stop offset="0.7255" stop-color="#ff2d00"/><stop offset="0.768" stop-color="#ff2b00"/><stop offset="0.8152" stop-color="#ff1300"/><stop offset="0.8436" stop-color="#e50000"/><stop offset="0.9109" stop-color="#aa0000"/><stop offset="0.9652" stop-color="#8f0000"/><stop offset="0.9994" stop-color="#860000"/></linearGradient><linearGradient id="r63" gradientUnits="userSpaceOnUse" x1="83" x2="930" y1="0" y2="0"><stop offset="0.0005903" stop-color="#820000"/><stop offset="0.06198" stop-color="#8c0000"/><stop offset="0.0915" stop-color="#a00000"/><stop offset="0.1151" stop-color="#c30000"/><stop offset="0.1328" stop-color="#e90100"/><stop offset="0.1423" stop-color="#ff1400"/><stop offset="0.173" stop-color="#ff4d00"/><stop offset="0.1942" stop-color="#ff6200"/><stop offset="0.2202" stop-color="#ff6400"/><stop offset="0.2769" stop-color="#ff4b00"/><stop offset="0.3087" stop-color="#ff3e00"/><stop offset="0.3583" stop-color="#ff4e00"/><stop offset="0.3914" stop-color="#ff5e00"/><stop offset="0.4327" stop-color="#ff9200"/><stop offset="0.4457" stop-color="#ff9200"/><stop offset="0.4587" stop-color="#ff7f00"/><stop offset="0.4799" stop-color="#ff4300"/><stop offset="0.4976" stop-color="#fd1200"/><stop offset="0.5071" stop-color="#e60000"/><stop offset="0.5236" stop-color="#cf0000"/><stop offset="0.5472" stop-color="#c60000"/><stop offset="0.5956" stop-color="#d30000"/><stop offset="0.6381" stop-color="#eb0300"/><stop offset="0.6712" stop-color="#ff1500"/><stop offset="0.7267" stop-color="#ff2c00"/><stop offset="0.7692" stop-color="#ff2a00"/><stop offset="0.8164" stop-color="#fd1100"/><stop offset="0.8436" stop-color="#e40000"/><stop offset="0.9109" stop-color="#aa0000"/><stop offset="0.9664" stop-color="#8e0000"/><stop offset="0.9994" stop-color="#860000"/></linearGradient><linearGradient id="r64" gradientUnits="userSpaceOnUse" x1="83" x2="930" y1="0" y2="0"><stop offset="0.0005903" stop-color="#820000"/><stop offset="0.0608" stop-color="#8c0000"/><stop offset="0.08914" stop-color="#a00000"/><stop offset="0.1116" stop-color="#c30000"/><stop offset="0.1293" stop-color="#eb0300"/><stop offset="0.1375" stop-color="#ff1500"/><stop offset="0.1706" stop-color="#ff5a00"/><stop offset="0.1907" stop-color="#ff7200"/><stop offset="0.2131" stop-color="#ff7500"/><stop offset="0.2639" stop-color="#ff5b00"/><stop offset="0.3028" stop-color="#ff4100"/><stop offset="0.3312" stop-color="#ff4400"/><stop offset="0.3902" stop-color="#ff5c00"/><stop offset="0.4185" stop-color="#ff8000"/><stop offset="0.4362" stop-color="#ff9100"/><stop offset="0.4492" stop-color="#ff8c00"/><stop offset="0.4634" stop-color="#ff7100"/><stop offset="0.4965" stop-color="#ff1300"/><stop offset="0.5059" stop-color="#e70000"/><stop offset="0.5224" stop-color="#ce0000"/><stop offset="0.5449" stop-color="#c50000"/><stop offset="0.5921" stop-color="#d10000"/><stop offset="0.6405" stop-color="#eb0300"/><stop offset="0.6736" stop-color="#ff1500"/><stop offset="0.7279" stop-color="#ff2a00"/><stop offset="0.7704" stop-color="#ff2800"/><stop offset="0.8152" stop-color="#fc1100"/><stop offset="0.8412" stop-color="#e50000"/><stop offset="0.9109" stop-color="#a90000"/><stop offset="0.9664" stop-color="#8e0000"/><stop offset="0.9994" stop-color="#860000"/></linearGradient><linearGradient id="r65" gradientUnits="userSpaceOnUse" x1="83" x2="930" y1="0" y2="0"><stop offset="0.0005903" stop-color="#820000"/><stop offset="0.05844" stop-color="#8b0000"/><stop offset="0.0856" stop-color="#9f0000"/><stop offset="0.108" stop-color="#c20000"/><stop offset="0.1246" stop-color="#e90100"/><stop offset="0.1328" stop-color="#ff1400"/><stop offset="0.1682" stop-color="#ff6700"/><stop offset="0.1871" stop-color="#ff8200"/><stop offset="0.206" stop-color="#ff8800"/><stop offset="0.2414" stop-color="#ff7600"/><stop offset="0.3005" stop-color="#ff4300"/><stop offset="0.3264" stop-color="#ff4300"/><stop offset="0.3914" stop-color="#ff5c00"/><stop offset="0.4339" stop-color="#ff8c00"/><stop offset="0.4469" stop-color="#ff8a00"/><stop offset="0.4599" stop-color="#ff7600"/><stop offset="0.4965" stop-color="#fc1100"/><stop offset="0.5059" stop-color="#e50000"/><stop offset="0.5224" stop-color="#cd0000"/><stop offset="0.546" stop-color="#c40000"/><stop offset="0.5945" stop-color="#d00000"/><stop offset="0.6429" stop-color="#eb0300"/><stop offset="0.6771" stop-color="#ff1500"/><stop offset="0.7302" stop-color="#ff2900"/><stop offset="0.7727" stop-color="#ff2500"/><stop offset="0.8129" stop-color="#fc1100"/><stop offset="0.84" stop-color="#e40000"/><stop offset="0.9109" stop-color="#a80000"/><stop offset="0.9664" stop-color="#8e0000"/><stop offset="0.9994" stop-color="#860000"/></linearGradient><linearGradient id="r66" gradientUnits="userSpaceOnUse" x1="83" x2="930" y1="0" y2="0"><stop offset="0.0005903" stop-color="#820000"/><stop offset="0.05726" stop-color="#8c0000"/><stop offset="0.08442" stop-color="#a00000"/><stop offset="0.1057" stop-color="#c30000"/><stop offset="0.121" stop-color="#ea0100"/><stop offset="0.1281" stop-color="#ff1300"/><stop offset="0.1671" stop-color="#ff7700"/><stop offset="0.1848" stop-color="#ff9300"/><stop offset="0.2025" stop-color="#ff9c00"/><stop offset="0.2285" stop-color="#ff8e00"/><stop offset="0.271" stop-color="#ff6200"/><stop offset="0.2993" stop-color="#ff4500"/><stop offset="0.3229" stop-color="#ff4200"/><stop offset="0.3926" stop-color="#ff5b00"/><stop offset="0.4339" stop-color="#ff8800"/><stop offset="0.4469" stop-color="#ff8600"/><stop offset="0.461" stop-color="#ff6f00"/><stop offset="0.4953" stop-color="#fd1100"/><stop offset="0.5047" stop-color="#e50000"/><stop offset="0.5213" stop-color="#cd0000"/><stop offset="0.5437" stop-color="#c30000"/><stop offset="0.5909" stop-color="#cd0000"/><stop offset="0.6452" stop-color="#eb0200"/><stop offset="0.6806" stop-color="#ff1500"/><stop offset="0.7326" stop-color="#ff2700"/><stop offset="0.7751" stop-color="#ff2200"/><stop offset="0.8093" stop-color="#fd1100"/><stop offset="0.8377" stop-color="#e50000"/><stop offset="0.9109" stop-color="#a80000"/><stop offset="0.9675" stop-color="#8d0000"/><stop offset="0.9994" stop-color="#860000"/></linearGradient><linearGradient id="r67" gradientUnits="userSpaceOnUse" x1="83" x2="930" y1="0" y2="0"><stop offset="0.0005903" stop-color="#820000"/><stop offset="0.0549" stop-color="#8b0000"/><stop offset="0.08087" stop-color="#9f0000"/><stop offset="0.1009" stop-color="#bf0000"/><stop offset="0.1175" stop-color="#e90100"/><stop offset="0.1246" stop-color="#ff1300"/><stop offset="0.1659" stop-color="#ff8800"/><stop offset="0.1824" stop-color="#ffa600"/><stop offset="0.1989" stop-color="#ffb000"/><stop offset="0.2202" stop-color="#ffa600"/><stop offset="0.2615" stop-color="#ff7600"/><stop offset="0.2946" stop-color="#ff4a00"/><stop offset="0.3158" stop-color="#ff4100"/><stop offset="0.3926" stop-color="#ff5900"/><stop offset="0.4339" stop-color="#ff8300"/><stop offset="0.4481" stop-color="#ff8000"/><stop offset="0.4622" stop-color="#ff6800"/><stop offset="0.4941" stop-color="#fd1200"/><stop offset="0.5035" stop-color="#e50000"/><stop offset="0.5201" stop-color="#cc0000"/><stop offset="0.5425" stop-color="#c20000"/><stop offset="0.5897" stop-color="#cb0000"/><stop offset="0.6488" stop-color="#eb0200"/><stop offset="0.6842" stop-color="#ff1500"/><stop offset="0.7361" stop-color="#ff2500"/><stop offset="0.7798" stop-color="#ff1e00"/><stop offset="0.807" stop-color="#fc1100"/><stop offset="0.8365" stop-color="#e40000"/><stop offset="0.9109" stop-color="#a70000"/><stop offset="0.9675" stop-color="#8d0000"/><stop offset="0.9994" stop-color="#860000"/></linearGradient><linearGradient id="r68" gradientUnits="userSpaceOnUse" x1="83" x2="930" y1="0" y2="0"><stop offset="0.0005903" stop-color="#820000"/><stop offset="0.05372" stop-color="#8b0000"/><stop offset="0.07969" stop-color="#a00000"/><stop offset="0.09976" stop-color="#c30000"/><stop offset="0.1139" stop-color="#e80100"/><stop offset="0.121" stop-color="#ff1300"/><stop offset="0.1647" stop-color="#ff9900"/><stop offset="0.1812" stop-color="#ffba00"/><stop offset="0.1966" stop-color="#ffc600"/><stop offset="0.2155" stop-color="#ffbd00"/><stop offset="0.2532" stop-color="#ff8c00"/><stop offset="0.2922" stop-color="#ff4e00"/><stop offset="0.3123" stop-color="#ff4200"/><stop offset="0.3937" stop-color="#ff5700"/><stop offset="0.4339" stop-color="#ff7d00"/><stop offset="0.4481" stop-color="#ff7a00"/><stop offset="0.4622" stop-color="#ff6200"/><stop offset="0.4929" stop-color="#fd1100"/><stop offset="0.5024" stop-color="#e50000"/><stop offset="0.5189" stop-color="#cb0000"/><stop offset="0.5413" stop-color="#c00000"/><stop offset="0.5874" stop-color="#c90000"/><stop offset="0.6523" stop-color="#eb0200"/><stop offset="0.6901" stop-color="#ff1500"/><stop offset="0.7397" stop-color="#ff2200"/><stop offset="0.7834" stop-color="#ff1a00"/><stop offset="0.8034" stop-color="#fc1000"/><stop offset="0.8341" stop-color="#e30000"/><stop offset="0.9109" stop-color="#a60000"/><stop offset="0.9687" stop-color="#8c0000"/><stop offset="0.9994" stop-color="#860000"/></linearGradient><linearGradient id="r69" gradientUnits="userSpaceOnUse" x1="83" x2="930" y1="0" y2="0"><stop offset="0.0005903" stop-color="#820000"/><stop offset="0.05254" stop-color="#8c0000"/><stop offset="0.07733" stop-color="#a00000"/><stop offset="0.09622" stop-color="#c00000"/><stop offset="0.1116" stop-color="#eb0200"/><stop offset="0.1175" stop-color="#ff1300"/><stop offset="0.1635" stop-color="#ffac00"/><stop offset="0.1789" stop-color="#ffce00"/><stop offset="0.193" stop-color="#ffdc00"/><stop offset="0.2096" stop-color="#ffd600"/><stop offset="0.2391" stop-color="#ffaf00"/><stop offset="0.291" stop-color="#ff5200"/><stop offset="0.3099" stop-color="#ff4300"/><stop offset="0.3949" stop-color="#ff5400"/><stop offset="0.4351" stop-color="#ff7800"/><stop offset="0.4492" stop-color="#ff7200"/><stop offset="0.4646" stop-color="#ff5700"/><stop offset="0.4917" stop-color="#fd1100"/><stop offset="0.5012" stop-color="#e50000"/><stop offset="0.5177" stop-color="#ca0000"/><stop offset="0.5401" stop-color="#bf0000"/><stop offset="0.5862" stop-color="#c70000"/><stop offset="0.657" stop-color="#eb0300"/><stop offset="0.696" stop-color="#ff1500"/><stop offset="0.7444" stop-color="#ff1f00"/><stop offset="0.7893" stop-color="#ff1500"/><stop offset="0.8223" stop-color="#eb0200"/><stop offset="0.9097" stop-color="#a60000"/><stop offset="0.9687" stop-color="#8c0000"/><stop offset="0.9994" stop-color="#860000"/></linearGradient><linearGradient id="r70" gradientUnits="userSpaceOnUse" x1="83" x2="930" y1="0" y2="0"><stop offset="0.0005903" stop-color="#820000"/><stop offset="0.05136" stop-color="#8c0000"/><stop offset="0.07615" stop-color="#a10000"/><stop offset="0.09504" stop-color="#c40000"/><stop offset="0.108" stop-color="#e90100"/><stop offset="0.1151" stop-color="#ff1500"/><stop offset="0.1399" stop-color="#ff6e00"/><stop offset="0.1635" stop-color="#ffc300"/><stop offset="0.1777" stop-color="#ffe500"/><stop offset="0.1919" stop-color="#f8f400"/><stop offset="0.2072" stop-color="#fdee00"/><stop offset="0.232" stop-color="#ffca00"/><stop offset="0.2674" stop-color="#ff8200"/><stop offset="0.291" stop-color="#ff5300"/><stop offset="0.3087" stop-color="#ff4300"/><stop offset="0.3359" stop-color="#ff4700"/><stop offset="0.3961" stop-color="#ff5100"/><stop offset="0.4351" stop-color="#ff7100"/><stop offset="0.4492" stop-color="#ff6b00"/><stop offset="0.4646" stop-color="#ff5100"/><stop offset="0.4894" stop-color="#ff1300"/><stop offset="0.4988" stop-color="#e70000"/><stop offset="0.5153" stop-color="#cb0000"/><stop offset="0.5366" stop-color="#be0000"/><stop offset="0.5791" stop-color="#c20000"/><stop offset="0.6476" stop-color="#e20000"/><stop offset="0.67" stop-color="#f00600"/><stop offset="0.7043" stop-color="#ff1500"/><stop offset="0.7515" stop-color="#ff1c00"/><stop offset="0.7916" stop-color="#fc1100"/><stop offset="0.827" stop-color="#e40000"/><stop offset="0.9109" stop-color="#a40000"/><stop offset="0.9699" stop-color="#8b0000"/><stop offset="0.9994" stop-color="#850000"/></linearGradient><linearGradient id="r71" gradientUnits="userSpaceOnUse" x1="83" x2="930" y1="0" y2="0"><stop offset="0.0005903" stop-color="#820000"/><stop offset="0.049" stop-color="#8b0000"/><stop offset="0.07261" stop-color="#9f0000"/><stop offset="0.09032" stop-color="#be0000"/><stop offset="0.1057" stop-color="#ea0200"/><stop offset="0.1116" stop-color="#ff1300"/><stop offset="0.1328" stop-color="#ff6200"/><stop offset="0.16" stop-color="#ffcf00"/><stop offset="0.1706" stop-color="#fcef00"/><stop offset="0.1765" stop-color="#f1fd06"/><stop offset="0.1907" stop-color="#e3ff14"/><stop offset="0.206" stop-color="#e8ff0e"/><stop offset="0.2143" stop-color="#f2fb05"/><stop offset="0.2214" stop-color="#fcef00"/><stop offset="0.2556" stop-color="#ffa600"/><stop offset="0.2875" stop-color="#ff5b00"/><stop offset="0.304" stop-color="#ff4600"/><stop offset="0.3241" stop-color="#ff4300"/><stop offset="0.3642" stop-color="#ff4b00"/><stop offset="0.3961" stop-color="#ff4d00"/><stop offset="0.4351" stop-color="#ff6a00"/><stop offset="0.4492" stop-color="#ff6400"/><stop offset="0.4658" stop-color="#ff4800"/><stop offset="0.4882" stop-color="#fd1200"/><stop offset="0.4976" stop-color="#e60000"/><stop offset="0.5153" stop-color="#c80000"/><stop offset="0.5378" stop-color="#bc0000"/><stop offset="0.5838" stop-color="#c20000"/><stop offset="0.657" stop-color="#e50000"/><stop offset="0.7113" stop-color="#ff1400"/><stop offset="0.7586" stop-color="#ff1800"/><stop offset="0.7869" stop-color="#fb1000"/><stop offset="0.8235" stop-color="#e40000"/><stop offset="0.9109" stop-color="#a30000"/><stop offset="0.9711" stop-color="#8b0000"/><stop offset="0.9994" stop-color="#850000"/></linearGradient><linearGradient id="r72" gradientUnits="userSpaceOnUse" x1="83" x2="930" y1="0" y2="0"><stop offset="0.0005903" stop-color="#820000"/><stop offset="0.04782" stop-color="#8b0000"/><stop offset="0.07143" stop-color="#a00000"/><stop offset="0.08914" stop-color="#c10000"/><stop offset="0.1033" stop-color="#eb0300"/><stop offset="0.1092" stop-color="#ff1500"/><stop offset="0.1281" stop-color="#ff5e00"/><stop offset="0.1588" stop-color="#ffe300"/><stop offset="0.1623" stop-color="#fbf000"/><stop offset="0.1671" stop-color="#eeff09"/><stop offset="0.1812" stop-color="#d2ff24"/><stop offset="0.1942" stop-color="#ccff2b"/><stop offset="0.2107" stop-color="#daff1d"/><stop offset="0.2237" stop-color="#f0fe07"/><stop offset="0.2296" stop-color="#fbf100"/><stop offset="0.2355" stop-color="#ffe300"/><stop offset="0.2863" stop-color="#ff5f00"/><stop offset="0.3017" stop-color="#ff4800"/><stop offset="0.3205" stop-color="#ff4200"/><stop offset="0.363" stop-color="#ff4900"/><stop offset="0.3961" stop-color="#ff4800"/><stop offset="0.4362" stop-color="#ff6200"/><stop offset="0.4516" stop-color="#ff5a00"/><stop offset="0.4693" stop-color="#ff3a00"/><stop offset="0.4858" stop-color="#ff1300"/><stop offset="0.4953" stop-color="#e70000"/><stop offset="0.513" stop-color="#c80000"/><stop offset="0.5342" stop-color="#bb0000"/><stop offset="0.5767" stop-color="#be0000"/><stop offset="0.6464" stop-color="#dc0000"/><stop offset="0.6759" stop-color="#ec0400"/><stop offset="0.7255" stop-color="#ff1300"/><stop offset="0.7727" stop-color="#fd1100"/><stop offset="0.82" stop-color="#e30000"/><stop offset="0.912" stop-color="#a10000"/><stop offset="0.9734" stop-color="#8a0000"/><stop offset="0.9994" stop-color="#850000"/></linearGradient><linearGradient id="r73" gradientUnits="userSpaceOnUse" x1="83" x2="930" y1="0" y2="0"><stop offset="0.0005903" stop-color="#820000"/><stop offset="0.04664" stop-color="#8c0000"/><stop offset="0.07025" stop-color="#a10000"/><stop offset="0.08678" stop-color="#c00000"/><stop offset="0.09976" stop-color="#e70000"/><stop offset="0.1057" stop-color="#fe1200"/><stop offset="0.1234" stop-color="#ff5800"/><stop offset="0.1553" stop-color="#fdee00"/><stop offset="0.1588" stop-color="#f1fd06"/><stop offset="0.173" stop-color="#c8ff2f"/><stop offset="0.186" stop-color="#b6ff41"/><stop offset="0.1989" stop-color="#b7ff3f"/><stop offset="0.2166" stop-color="#d1ff26"/><stop offset="0.2308" stop-color="#eeff08"/><stop offset="0.2355" stop-color="#f9f300"/><stop offset="0.2403" stop-color="#ffe600"/><stop offset="0.2839" stop-color="#ff6600"/><stop offset="0.2993" stop-color="#ff4a00"/><stop offset="0.3158" stop-color="#ff4100"/><stop offset="0.3619" stop-color="#ff4700"/><stop offset="0.3961" stop-color="#ff4300"/><stop offset="0.4374" stop-color="#ff5a00"/><stop offset="0.4528" stop-color="#ff5100"/><stop offset="0.4717" stop-color="#ff2e00"/><stop offset="0.4847" stop-color="#fc1100"/><stop offset="0.4941" stop-color="#e50000"/><stop offset="0.5118" stop-color="#c70000"/><stop offset="0.5331" stop-color="#b90000"/><stop offset="0.5756" stop-color="#bc0000"/><stop offset="0.6464" stop-color="#d90000"/><stop offset="0.6818" stop-color="#eb0300"/><stop offset="0.7338" stop-color="#fd1100"/><stop offset="0.7763" stop-color="#f70d00"/><stop offset="0.8152" stop-color="#e30000"/><stop offset="0.9132" stop-color="#9f0000"/><stop offset="0.977" stop-color="#890000"/><stop offset="0.9994" stop-color="#850000"/></linearGradient><linearGradient id="r74" gradientUnits="userSpaceOnUse" x1="83" x2="930" y1="0" y2="0"><stop offset="0.0005903" stop-color="#820000"/><stop offset="0.04545" stop-color="#8c0000"/><stop offset="0.06789" stop-color="#a00000"/><stop offset="0.08442" stop-color="#bf0000"/><stop offset="0.0974" stop-color="#e70000"/><stop offset="0.1033" stop-color="#ff1300"/><stop offset="0.1198" stop-color="#ff5600"/><stop offset="0.1494" stop-color="#ffec00"/><stop offset="0.1517" stop-color="#f5f701"/><stop offset="0.1541" stop-color="#ecff0b"/><stop offset="0.1682" stop-color="#bbff3c"/><stop offset="0.18" stop-color="#a3ff54"/><stop offset="0.1919" stop-color="#9dff5a"/><stop offset="0.206" stop-color="#aaff4d"/><stop offset="0.2296" stop-color="#dcff1a"/><stop offset="0.2367" stop-color="#eeff08"/><stop offset="0.2414" stop-color="#fbf100"/><stop offset="0.2473" stop-color="#ffde00"/><stop offset="0.2816" stop-color="#ff6e00"/><stop offset="0.2969" stop-color="#ff4e00"/><stop offset="0.3123" stop-color="#ff4100"/><stop offset="0.3607" stop-color="#ff4500"/><stop offset="0.3961" stop-color="#ff3e00"/><stop offset="0.4374" stop-color="#ff5200"/><stop offset="0.4528" stop-color="#ff4900"/><stop offset="0.4728" stop-color="#ff2500"/><stop offset="0.4823" stop-color="#fd1100"/><stop offset="0.4917" stop-color="#e60000"/><stop offset="0.5106" stop-color="#c60000"/><stop offset="0.5331" stop-color="#b70000"/><stop offset="0.5779" stop-color="#ba0000"/><stop offset="0.6523" stop-color="#d90000"/><stop offset="0.6913" stop-color="#ec0300"/><stop offset="0.7409" stop-color="#f80d00"/><stop offset="0.7845" stop-color="#f00600"/><stop offset="0.8117" stop-color="#e10000"/><stop offset="0.9144" stop-color="#9d0000"/><stop offset="0.9793" stop-color="#880000"/><stop offset="0.9994" stop-color="#850000"/></linearGradient><linearGradient id="r75" gradientUnits="userSpaceOnUse" x1="83" x2="930" y1="0" y2="0"><stop offset="0.0005903" stop-color="#820000"/><stop offset="0.04427" stop-color="#8c0000"/><stop offset="0.06671" stop-color="#a10000"/><stop offset="0.08323" stop-color="#c20000"/><stop offset="0.09504" stop-color="#e70000"/><stop offset="0.1009" stop-color="#ff1300"/><stop offset="0.1163" stop-color="#ff5300"/><stop offset="0.1387" stop-color="#ffca00"/><stop offset="0.1446" stop-color="#ffeb00"/><stop offset="0.147" stop-color="#f5f802"/><stop offset="0.1482" stop-color="#effe08"/><stop offset="0.1635" stop-color="#b0ff46"/><stop offset="0.1753" stop-color="#91ff66"/><stop offset="0.1871" stop-color="#84ff73"/><stop offset="0.2001" stop-color="#8bff6c"/><stop offset="0.2178" stop-color="#aeff49"/><stop offset="0.2414" stop-color="#efff08"/><stop offset="0.245" stop-color="#f9f300"/><stop offset="0.2485" stop-color="#ffe600"/><stop offset="0.2804" stop-color="#ff7400"/><stop offset="0.2946" stop-color="#ff5200"/><stop offset="0.3099" stop-color="#ff4200"/><stop offset="0.3607" stop-color="#ff4300"/><stop offset="0.3973" stop-color="#ff3900"/><stop offset="0.4386" stop-color="#ff4900"/><stop offset="0.4551" stop-color="#ff3e00"/><stop offset="0.4787" stop-color="#ff1300"/><stop offset="0.4894" stop-color="#e60000"/><stop offset="0.5083" stop-color="#c50000"/><stop offset="0.5295" stop-color="#b60000"/><stop offset="0.5708" stop-color="#b70000"/><stop offset="0.6429" stop-color="#d10000"/><stop offset="0.7019" stop-color="#ec0300"/><stop offset="0.7491" stop-color="#f30900"/><stop offset="0.7952" stop-color="#e60000"/><stop offset="0.9179" stop-color="#9b0000"/><stop offset="0.9852" stop-color="#860000"/><stop offset="0.9994" stop-color="#840000"/></linearGradient><linearGradient id="r76" gradientUnits="userSpaceOnUse" x1="83" x2="930" y1="0" y2="0"><stop offset="0.0005903" stop-color="#820000"/><stop offset="0.04309" stop-color="#8c0000"/><stop offset="0.06434" stop-color="#a00000"/><stop offset="0.08087" stop-color="#c00000"/><stop offset="0.09386" stop-color="#eb0200"/><stop offset="0.09858" stop-color="#fe1200"/><stop offset="0.1139" stop-color="#ff5400"/><stop offset="0.1328" stop-color="#ffbd00"/><stop offset="0.1411" stop-color="#fdef00"/><stop offset="0.1423" stop-color="#f7f600"/><stop offset="0.1446" stop-color="#ebff0c"/><stop offset="0.16" stop-color="#a4ff53"/><stop offset="0.1718" stop-color="#7eff78"/><stop offset="0.1824" stop-color="#6dff8a"/><stop offset="0.1942" stop-color="#6dff89"/><stop offset="0.2084" stop-color="#84ff73"/><stop offset="0.2332" stop-color="#c9ff2e"/><stop offset="0.245" stop-color="#eeff08"/><stop offset="0.2485" stop-color="#faf100"/><stop offset="0.2521" stop-color="#ffe300"/><stop offset="0.2792" stop-color="#ff7a00"/><stop offset="0.2934" stop-color="#ff5400"/><stop offset="0.3076" stop-color="#ff4300"/><stop offset="0.3323" stop-color="#ff4200"/><stop offset="0.3619" stop-color="#ff4000"/><stop offset="0.3973" stop-color="#ff3300"/><stop offset="0.4398" stop-color="#ff4100"/><stop offset="0.4575" stop-color="#ff3300"/><stop offset="0.4764" stop-color="#fe1200"/><stop offset="0.487" stop-color="#e60000"/><stop offset="0.5071" stop-color="#c30000"/><stop offset="0.5295" stop-color="#b40000"/><stop offset="0.5732" stop-color="#b50000"/><stop offset="0.6488" stop-color="#d00000"/><stop offset="0.7184" stop-color="#ec0300"/><stop offset="0.7645" stop-color="#ed0400"/><stop offset="0.8164" stop-color="#d70000"/><stop offset="0.9156" stop-color="#9a0000"/><stop offset="0.9841" stop-color="#860000"/><stop offset="0.9994" stop-color="#840000"/></linearGradient><linearGradient id="r77" gradientUnits="userSpaceOnUse" x1="83" x2="930" y1="0" y2="0"><stop offset="0.0005903" stop-color="#820000"/><stop offset="0.04191" stop-color="#8c0000"/><stop offset="0.06316" stop-color="#a00000"/><stop offset="0.07851" stop-color="#bf0000"/><stop offset="0.0915" stop-color="#ea0200"/><stop offset="0.09622" stop-color="#fe1200"/><stop offset="0.1104" stop-color="#ff4f00"/><stop offset="0.1269" stop-color="#ffad00"/><stop offset="0.1364" stop-color="#ffe800"/><stop offset="0.1387" stop-color="#f5f702"/><stop offset="0.1399" stop-color="#efff08"/><stop offset="0.1576" stop-color="#95ff62"/><stop offset="0.1694" stop-color="#6aff8d"/><stop offset="0.18" stop-color="#55ffa2"/><stop offset="0.1907" stop-color="#52ffa5"/><stop offset="0.2037" stop-color="#64ff93"/><stop offset="0.2226" stop-color="#98ff5f"/><stop offset="0.2485" stop-color="#f1fc06"/><stop offset="0.2521" stop-color="#feed00"/><stop offset="0.278" stop-color="#ff8000"/><stop offset="0.291" stop-color="#ff5900"/><stop offset="0.304" stop-color="#ff4500"/><stop offset="0.3229" stop-color="#ff3f00"/><stop offset="0.356" stop-color="#ff3f00"/><stop offset="0.3973" stop-color="#ff2d00"/><stop offset="0.4398" stop-color="#ff3800"/><stop offset="0.4575" stop-color="#ff2b00"/><stop offset="0.4728" stop-color="#fe1200"/><stop offset="0.4847" stop-color="#e50000"/><stop offset="0.5059" stop-color="#c20000"/><stop offset="0.5283" stop-color="#b20000"/><stop offset="0.572" stop-color="#b30000"/><stop offset="0.6499" stop-color="#cd0000"/><stop offset="0.7231" stop-color="#e80000"/><stop offset="0.7704" stop-color="#e60000"/><stop offset="0.827" stop-color="#cc0000"/><stop offset="0.9179" stop-color="#980000"/><stop offset="0.9888" stop-color="#850000"/><stop offset="0.9994" stop-color="#840000"/></linearGradient><linearGradient id="r78" gradientUnits="userSpaceOnUse" x1="83" x2="930" y1="0" y2="0"><stop offset="0.0005903" stop-color="#820000"/><stop offset="0.04073" stop-color="#8c0000"/><stop offset="0.06198" stop-color="#a10000"/><stop offset="0.07733" stop-color="#c10000"/><stop offset="0.08914" stop-color="#e80000"/><stop offset="0.09504" stop-color="#ff1500"/><stop offset="0.1092" stop-color="#ff5600"/><stop offset="0.1246" stop-color="#ffb100"/><stop offset="0.134" stop-color="#fcef00"/><stop offset="0.1352" stop-color="#f5f701"/><stop offset="0.1364" stop-color="#eeff08"/><stop offset="0.1553" stop-color="#86ff70"/><stop offset="0.1671" stop-color="#56ffa0"/><stop offset="0.1777" stop-color="#3dffb9"/><stop offset="0.1883" stop-color="#38ffbf"/><stop offset="0.2001" stop-color="#46ffb0"/><stop offset="0.2166" stop-color="#73ff83"/><stop offset="0.2473" stop-color="#e3ff14"/><stop offset="0.2509" stop-color="#f1fc06"/><stop offset="0.2532" stop-color="#fbf100"/><stop offset="0.2556" stop-color="#ffe600"/><stop offset="0.2769" stop-color="#ff8700"/><stop offset="0.2898" stop-color="#ff5d00"/><stop offset="0.3028" stop-color="#ff4600"/><stop offset="0.3205" stop-color="#ff3e00"/><stop offset="0.3548" stop-color="#ff3d00"/><stop offset="0.3973" stop-color="#ff2800"/><stop offset="0.441" stop-color="#ff2f00"/><stop offset="0.4599" stop-color="#ff2000"/><stop offset="0.4693" stop-color="#fe1200"/><stop offset="0.4811" stop-color="#e60000"/><stop offset="0.5035" stop-color="#c10000"/><stop offset="0.526" stop-color="#b10000"/><stop offset="0.5685" stop-color="#b00000"/><stop offset="0.6464" stop-color="#c80000"/><stop offset="0.7231" stop-color="#e30000"/><stop offset="0.7715" stop-color="#e10000"/><stop offset="0.8306" stop-color="#c70000"/><stop offset="0.9191" stop-color="#970000"/><stop offset="0.9923" stop-color="#850000"/><stop offset="0.9994" stop-color="#840000"/></linearGradient><linearGradient id="r79" gradientUnits="userSpaceOnUse" x1="83" x2="930" y1="0" y2="0"><stop offset="0.0005903" stop-color="#820000"/><stop offset="0.04073" stop-color="#8d0000"/><stop offset="0.0608" stop-color="#a10000"/><stop offset="0.07615" stop-color="#c20000"/><stop offset="0.08796" stop-color="#eb0300"/><stop offset="0.09268" stop-color="#ff1400"/><stop offset="0.1057" stop-color="#ff4f00"/><stop offset="0.1198" stop-color="#ffa300"/><stop offset="0.1305" stop-color="#ffec00"/><stop offset="0.1316" stop-color="#f7f500"/><stop offset="0.1328" stop-color="#f0fd07"/><stop offset="0.1529" stop-color="#79ff7e"/><stop offset="0.1647" stop-color="#44ffb3"/><stop offset="0.1753" stop-color="#26ffd1"/><stop offset="0.186" stop-color="#1dffd9"/><stop offset="0.1966" stop-color="#28ffcf"/><stop offset="0.2107" stop-color="#4dffaa"/><stop offset="0.2379" stop-color="#b2ff45"/><stop offset="0.2521" stop-color="#eeff09"/><stop offset="0.2544" stop-color="#f8f400"/><stop offset="0.2568" stop-color="#ffe800"/><stop offset="0.2769" stop-color="#ff8900"/><stop offset="0.2898" stop-color="#ff5d00"/><stop offset="0.3028" stop-color="#ff4500"/><stop offset="0.3205" stop-color="#ff3d00"/><stop offset="0.3536" stop-color="#ff3a00"/><stop offset="0.3973" stop-color="#ff2200"/><stop offset="0.4421" stop-color="#ff2700"/><stop offset="0.4622" stop-color="#ff1500"/><stop offset="0.4717" stop-color="#f10800"/><stop offset="0.4787" stop-color="#e40000"/><stop offset="0.5035" stop-color="#bd0000"/><stop offset="0.5272" stop-color="#ae0000"/><stop offset="0.5744" stop-color="#af0000"/><stop offset="0.6606" stop-color="#ca0000"/><stop offset="0.729" stop-color="#df0000"/><stop offset="0.7786" stop-color="#db0000"/><stop offset="0.8483" stop-color="#b90000"/><stop offset="0.9274" stop-color="#930000"/><stop offset="0.9994" stop-color="#840000"/></linearGradient><linearGradient id="r80" gradientUnits="userSpaceOnUse" x1="83" x2="930" y1="0" y2="0"><stop offset="0.0005903" stop-color="#820000"/><stop offset="0.03955" stop-color="#8d0000"/><stop offset="0.05962" stop-color="#a20000"/><stop offset="0.07497" stop-color="#c40000"/><stop offset="0.0856" stop-color="#e90100"/><stop offset="0.09032" stop-color="#fe1200"/><stop offset="0.1033" stop-color="#ff4e00"/><stop offset="0.1175" stop-color="#ffa400"/><stop offset="0.1269" stop-color="#ffe800"/><stop offset="0.1293" stop-color="#f4f903"/><stop offset="0.1305" stop-color="#ecff0b"/><stop offset="0.1517" stop-color="#66ff91"/><stop offset="0.1635" stop-color="#2dffca"/><stop offset="0.1718" stop-color="#13fde4"/><stop offset="0.18" stop-color="#05ecf2"/><stop offset="0.1895" stop-color="#06edf1"/><stop offset="0.2001" stop-color="#19ffde"/><stop offset="0.2155" stop-color="#4bffac"/><stop offset="0.2438" stop-color="#c1ff36"/><stop offset="0.2532" stop-color="#ecff0b"/><stop offset="0.2556" stop-color="#f7f500"/><stop offset="0.258" stop-color="#ffe800"/><stop offset="0.2757" stop-color="#ff8f00"/><stop offset="0.2887" stop-color="#ff6000"/><stop offset="0.3017" stop-color="#ff4600"/><stop offset="0.3182" stop-color="#ff3c00"/><stop offset="0.3536" stop-color="#ff3700"/><stop offset="0.3973" stop-color="#ff1c00"/><stop offset="0.4433" stop-color="#ff1e00"/><stop offset="0.4599" stop-color="#fd1100"/><stop offset="0.474" stop-color="#e60000"/><stop offset="0.5012" stop-color="#bc0000"/><stop offset="0.526" stop-color="#ac0000"/><stop offset="0.5744" stop-color="#ad0000"/><stop offset="0.6641" stop-color="#c80000"/><stop offset="0.7314" stop-color="#da0000"/><stop offset="0.7822" stop-color="#d50000"/><stop offset="0.8672" stop-color="#ac0000"/><stop offset="0.9416" stop-color="#8d0000"/><stop offset="0.9994" stop-color="#830000"/></linearGradient><linearGradient id="r81" gradientUnits="userSpaceOnUse" x1="83" x2="930" y1="0" y2="0"><stop offset="0.0005903" stop-color="#820000"/><stop offset="0.03837" stop-color="#8d0000"/><stop offset="0.05844" stop-color="#a20000"/><stop offset="0.07261" stop-color="#c10000"/><stop offset="0.08442" stop-color="#eb0300"/><stop offset="0.08914" stop-color="#ff1400"/><stop offset="0.1021" stop-color="#ff5200"/><stop offset="0.1151" stop-color="#ffa400"/><stop offset="0.1246" stop-color="#ffea00"/><stop offset="0.1257" stop-color="#f9f300"/><stop offset="0.1269" stop-color="#f1fc06"/><stop offset="0.134" stop-color="#c1ff36"/><stop offset="0.1517" stop-color="#4dffaa"/><stop offset="0.1623" stop-color="#17ffe0"/><stop offset="0.1694" stop-color="#00e3f9"/><stop offset="0.173" stop-color="#00d8ff"/><stop offset="0.1812" stop-color="#00cbff"/><stop offset="0.1895" stop-color="#00ceff"/><stop offset="0.1966" stop-color="#00defd"/><stop offset="0.2001" stop-color="#03e9f4"/><stop offset="0.206" stop-color="#15ffe2"/><stop offset="0.2273" stop-color="#6bff8c"/><stop offset="0.2544" stop-color="#ebff0b"/><stop offset="0.2568" stop-color="#f7f500"/><stop offset="0.2591" stop-color="#ffe800"/><stop offset="0.2757" stop-color="#ff9100"/><stop offset="0.2875" stop-color="#ff6300"/><stop offset="0.2993" stop-color="#ff4800"/><stop offset="0.3146" stop-color="#ff3c00"/><stop offset="0.3524" stop-color="#ff3400"/><stop offset="0.3973" stop-color="#ff1600"/><stop offset="0.4457" stop-color="#ff1500"/><stop offset="0.4587" stop-color="#f50b00"/><stop offset="0.4705" stop-color="#e40000"/><stop offset="0.5012" stop-color="#b90000"/><stop offset="0.5272" stop-color="#aa0000"/><stop offset="0.5815" stop-color="#ac0000"/><stop offset="0.7279" stop-color="#d50000"/><stop offset="0.7798" stop-color="#d10000"/><stop offset="0.8625" stop-color="#ac0000"/><stop offset="0.9404" stop-color="#8d0000"/><stop offset="0.9994" stop-color="#830000"/></linearGradient><linearGradient id="r82" gradientUnits="userSpaceOnUse" x1="83" x2="930" y1="0" y2="0"><stop offset="0.0005903" stop-color="#820000"/><stop offset="0.03719" stop-color="#8d0000"/><stop offset="0.05726" stop-color="#a20000"/><stop offset="0.07143" stop-color="#c20000"/><stop offset="0.08205" stop-color="#e80000"/><stop offset="0.08678" stop-color="#fe1200"/><stop offset="0.09858" stop-color="#ff4a00"/><stop offset="0.1116" stop-color="#ff9b00"/><stop offset="0.1222" stop-color="#ffea00"/><stop offset="0.1234" stop-color="#f8f400"/><stop offset="0.1246" stop-color="#f0fd07"/><stop offset="0.1482" stop-color="#4affad"/><stop offset="0.1576" stop-color="#13fde4"/><stop offset="0.1612" stop-color="#02e8f5"/><stop offset="0.1635" stop-color="#00dbff"/><stop offset="0.1718" stop-color="#00baff"/><stop offset="0.18" stop-color="#00abff"/><stop offset="0.1883" stop-color="#00aeff"/><stop offset="0.1978" stop-color="#00c6ff"/><stop offset="0.2037" stop-color="#00dcfe"/><stop offset="0.2072" stop-color="#06ecf1"/><stop offset="0.2107" stop-color="#13fee3"/><stop offset="0.2355" stop-color="#85ff72"/><stop offset="0.2556" stop-color="#ecff0b"/><stop offset="0.258" stop-color="#f8f400"/><stop offset="0.2591" stop-color="#ffed00"/><stop offset="0.2745" stop-color="#ff9700"/><stop offset="0.2863" stop-color="#ff6700"/><stop offset="0.2981" stop-color="#ff4900"/><stop offset="0.3135" stop-color="#ff3b00"/><stop offset="0.3524" stop-color="#ff3100"/><stop offset="0.3949" stop-color="#fc1100"/><stop offset="0.4209" stop-color="#fa0f00"/><stop offset="0.4457" stop-color="#f80d00"/><stop offset="0.4669" stop-color="#e20000"/><stop offset="0.5012" stop-color="#b50000"/><stop offset="0.5283" stop-color="#a70000"/><stop offset="0.5885" stop-color="#ab0000"/><stop offset="0.7279" stop-color="#d00000"/><stop offset="0.7822" stop-color="#cc0000"/><stop offset="0.9309" stop-color="#8f0000"/><stop offset="0.9994" stop-color="#830000"/></linearGradient><linearGradient id="r83" gradientUnits="userSpaceOnUse" x1="83" x2="930" y1="0" y2="0"><stop offset="0.0005903" stop-color="#820000"/><stop offset="0.03601" stop-color="#8d0000"/><stop offset="0.05608" stop-color="#a30000"/><stop offset="0.07025" stop-color="#c30000"/><stop offset="0.08087" stop-color="#ea0200"/><stop offset="0.0856" stop-color="#ff1400"/><stop offset="0.0974" stop-color="#ff4d00"/><stop offset="0.1092" stop-color="#ff9800"/><stop offset="0.1198" stop-color="#ffea00"/><stop offset="0.121" stop-color="#f9f400"/><stop offset="0.1222" stop-color="#f0fd07"/><stop offset="0.1482" stop-color="#32ffc5"/><stop offset="0.1529" stop-color="#14fee3"/><stop offset="0.1564" stop-color="#00e5f7"/><stop offset="0.1588" stop-color="#00d6ff"/><stop offset="0.1671" stop-color="#00aaff"/><stop offset="0.1753" stop-color="#0091ff"/><stop offset="0.1836" stop-color="#008cff"/><stop offset="0.1919" stop-color="#0098ff"/><stop offset="0.2025" stop-color="#00beff"/><stop offset="0.2084" stop-color="#00dbff"/><stop offset="0.2107" stop-color="#01e7f5"/><stop offset="0.2155" stop-color="#17ffe0"/><stop offset="0.2426" stop-color="#a0ff57"/><stop offset="0.2568" stop-color="#eeff09"/><stop offset="0.2591" stop-color="#fbf100"/><stop offset="0.2615" stop-color="#ffe200"/><stop offset="0.2757" stop-color="#ff9200"/><stop offset="0.2875" stop-color="#ff6200"/><stop offset="0.2993" stop-color="#ff4600"/><stop offset="0.3146" stop-color="#ff3900"/><stop offset="0.3524" stop-color="#ff2d00"/><stop offset="0.3855" stop-color="#fc1100"/><stop offset="0.4091" stop-color="#f10700"/><stop offset="0.4445" stop-color="#ef0600"/><stop offset="0.4622" stop-color="#e00000"/><stop offset="0.5012" stop-color="#b20000"/><stop offset="0.5307" stop-color="#a50000"/><stop offset="0.5992" stop-color="#ab0000"/><stop offset="0.7279" stop-color="#cc0000"/><stop offset="0.7834" stop-color="#c70000"/><stop offset="0.9321" stop-color="#8d0000"/><stop offset="0.9994" stop-color="#830000"/></linearGradient><linearGradient id="r84" gradientUnits="userSpaceOnUse" x1="83" x2="930" y1="0" y2="0"><stop offset="0.0005903" stop-color="#820000"/><stop offset="0.03601" stop-color="#8d0000"/><stop offset="0.0549" stop-color="#a30000"/><stop offset="0.06907" stop-color="#c40000"/><stop offset="0.07851" stop-color="#e60000"/><stop offset="0.08442" stop-color="#ff1500"/><stop offset="0.09622" stop-color="#ff5000"/><stop offset="0.108" stop-color="#ff9e00"/><stop offset="0.1175" stop-color="#ffe800"/><stop offset="0.1187" stop-color="#faf200"/><stop offset="0.1198" stop-color="#f1fc06"/><stop offset="0.1269" stop-color="#bbff3c"/><stop offset="0.147" stop-color="#22ffd5"/><stop offset="0.1494" stop-color="#12fce5"/><stop offset="0.1517" stop-color="#02e8f4"/><stop offset="0.1541" stop-color="#00d6ff"/><stop offset="0.1623" stop-color="#00a1ff"/><stop offset="0.1706" stop-color="#007dff"/><stop offset="0.1789" stop-color="#006eff"/><stop offset="0.1871" stop-color="#0072ff"/><stop offset="0.1966" stop-color="#008cff"/><stop offset="0.2084" stop-color="#00c5ff"/><stop offset="0.2119" stop-color="#00d9ff"/><stop offset="0.2143" stop-color="#01e7f6"/><stop offset="0.2178" stop-color="#12fce4"/><stop offset="0.245" stop-color="#a6ff51"/><stop offset="0.2568" stop-color="#eaff0c"/><stop offset="0.2591" stop-color="#f8f400"/><stop offset="0.2603" stop-color="#ffed00"/><stop offset="0.2745" stop-color="#ff9800"/><stop offset="0.2851" stop-color="#ff6a00"/><stop offset="0.2969" stop-color="#ff4900"/><stop offset="0.3111" stop-color="#ff3900"/><stop offset="0.3524" stop-color="#ff2900"/><stop offset="0.3784" stop-color="#fd1100"/><stop offset="0.4032" stop-color="#ea0200"/><stop offset="0.4469" stop-color="#e50000"/><stop offset="0.474" stop-color="#cb0000"/><stop offset="0.5047" stop-color="#ac0000"/><stop offset="0.5378" stop-color="#a20000"/><stop offset="0.6192" stop-color="#ad0000"/><stop offset="0.7279" stop-color="#c70000"/><stop offset="0.7857" stop-color="#c20000"/><stop offset="0.9333" stop-color="#8c0000"/><stop offset="0.9994" stop-color="#830000"/></linearGradient><linearGradient id="r85" gradientUnits="userSpaceOnUse" x1="83" x2="930" y1="0" y2="0"><stop offset="0.0005903" stop-color="#820000"/><stop offset="0.03483" stop-color="#8d0000"/><stop offset="0.05372" stop-color="#a30000"/><stop offset="0.06789" stop-color="#c50000"/><stop offset="0.07733" stop-color="#e70000"/><stop offset="0.08205" stop-color="#fe1200"/><stop offset="0.09386" stop-color="#ff4c00"/><stop offset="0.1057" stop-color="#ff9900"/><stop offset="0.1163" stop-color="#fdef00"/><stop offset="0.1175" stop-color="#f4f903"/><stop offset="0.1187" stop-color="#ebff0c"/><stop offset="0.1458" stop-color="#13fde4"/><stop offset="0.1482" stop-color="#02e8f5"/><stop offset="0.1494" stop-color="#00defd"/><stop offset="0.1588" stop-color="#0097ff"/><stop offset="0.1671" stop-color="#006bff"/><stop offset="0.1753" stop-color="#0054ff"/><stop offset="0.1836" stop-color="#0051ff"/><stop offset="0.1919" stop-color="#0062ff"/><stop offset="0.2013" stop-color="#0089ff"/><stop offset="0.2155" stop-color="#00dbff"/><stop offset="0.2178" stop-color="#04ebf3"/><stop offset="0.2214" stop-color="#17ffe0"/><stop offset="0.2497" stop-color="#bcff3a"/><stop offset="0.258" stop-color="#efff08"/><stop offset="0.2591" stop-color="#f6f701"/><stop offset="0.2615" stop-color="#ffe700"/><stop offset="0.2745" stop-color="#ff9800"/><stop offset="0.2851" stop-color="#ff6900"/><stop offset="0.2969" stop-color="#ff4800"/><stop offset="0.3111" stop-color="#ff3700"/><stop offset="0.3524" stop-color="#ff2500"/><stop offset="0.3737" stop-color="#fc1100"/><stop offset="0.3973" stop-color="#e60000"/><stop offset="0.4292" stop-color="#e10000"/><stop offset="0.454" stop-color="#d90000"/><stop offset="0.5047" stop-color="#a90000"/><stop offset="0.5401" stop-color="#a00000"/><stop offset="0.6275" stop-color="#ac0000"/><stop offset="0.7302" stop-color="#c30000"/><stop offset="0.7904" stop-color="#bc0000"/><stop offset="0.9333" stop-color="#8b0000"/><stop offset="0.9994" stop-color="#820000"/></linearGradient><linearGradient id="r86" gradientUnits="userSpaceOnUse" x1="83" x2="930" y1="0" y2="0"><stop offset="0.0005903" stop-color="#820000"/><stop offset="0.03365" stop-color="#8d0000"/><stop offset="0.05254" stop-color="#a30000"/><stop offset="0.06671" stop-color="#c50000"/><stop offset="0.07615" stop-color="#e80000"/><stop offset="0.08087" stop-color="#ff1300"/><stop offset="0.09268" stop-color="#ff4e00"/><stop offset="0.1045" stop-color="#ff9d00"/><stop offset="0.1139" stop-color="#ffea00"/><stop offset="0.1151" stop-color="#f8f500"/><stop offset="0.1163" stop-color="#eeff08"/><stop offset="0.1423" stop-color="#18ffdf"/><stop offset="0.1458" stop-color="#00e1fa"/><stop offset="0.1482" stop-color="#00ccff"/><stop offset="0.1576" stop-color="#0081ff"/><stop offset="0.1659" stop-color="#0052ff"/><stop offset="0.173" stop-color="#003bff"/><stop offset="0.18" stop-color="#0034ff"/><stop offset="0.1883" stop-color="#003fff"/><stop offset="0.1978" stop-color="#0061ff"/><stop offset="0.2096" stop-color="#00a3ff"/><stop offset="0.2178" stop-color="#00daff"/><stop offset="0.2202" stop-color="#04ebf3"/><stop offset="0.2226" stop-color="#12fbe5"/><stop offset="0.2261" stop-color="#26ffd1"/><stop offset="0.258" stop-color="#edff0a"/><stop offset="0.2603" stop-color="#fbf000"/><stop offset="0.2639" stop-color="#ffd800"/><stop offset="0.2757" stop-color="#ff9100"/><stop offset="0.2863" stop-color="#ff6300"/><stop offset="0.2981" stop-color="#ff4400"/><stop offset="0.3135" stop-color="#ff3400"/><stop offset="0.3524" stop-color="#ff2000"/><stop offset="0.3689" stop-color="#fc1100"/><stop offset="0.389" stop-color="#e50000"/><stop offset="0.4138" stop-color="#da0000"/><stop offset="0.4504" stop-color="#d30000"/><stop offset="0.5059" stop-color="#a60000"/><stop offset="0.5449" stop-color="#9f0000"/><stop offset="0.6393" stop-color="#ac0000"/><stop offset="0.7338" stop-color="#be0000"/><stop offset="0.7963" stop-color="#b70000"/><stop offset="0.9345" stop-color="#8a0000"/><stop offset="0.9994" stop-color="#820000"/></linearGradient><linearGradient id="r87" gradientUnits="userSpaceOnUse" x1="83" x2="930" y1="0" y2="0"><stop offset="0.0005903" stop-color="#820000"/><stop offset="0.03365" stop-color="#8e0000"/><stop offset="0.05254" stop-color="#a50000"/><stop offset="0.06671" stop-color="#c90000"/><stop offset="0.07497" stop-color="#e90100"/><stop offset="0.07969" stop-color="#ff1300"/><stop offset="0.0915" stop-color="#ff4f00"/><stop offset="0.1021" stop-color="#ff9700"/><stop offset="0.1128" stop-color="#fcef00"/><stop offset="0.1139" stop-color="#f3fa04"/><stop offset="0.1151" stop-color="#eaff0d"/><stop offset="0.1399" stop-color="#16ffe1"/><stop offset="0.1423" stop-color="#03e9f4"/><stop offset="0.1434" stop-color="#00ddfd"/><stop offset="0.1529" stop-color="#0088ff"/><stop offset="0.1612" stop-color="#004eff"/><stop offset="0.1682" stop-color="#002cff"/><stop offset="0.1753" stop-color="#001bff"/><stop offset="0.1824" stop-color="#001aff"/><stop offset="0.1907" stop-color="#002dff"/><stop offset="0.2001" stop-color="#0057ff"/><stop offset="0.2131" stop-color="#00a9ff"/><stop offset="0.2202" stop-color="#00dcfe"/><stop offset="0.2214" stop-color="#00e5f7"/><stop offset="0.2249" stop-color="#15ffe2"/><stop offset="0.258" stop-color="#ecff0b"/><stop offset="0.2603" stop-color="#fbf100"/><stop offset="0.2627" stop-color="#ffe100"/><stop offset="0.2745" stop-color="#ff9600"/><stop offset="0.2851" stop-color="#ff6500"/><stop offset="0.2957" stop-color="#ff4700"/><stop offset="0.3099" stop-color="#ff3400"/><stop offset="0.3524" stop-color="#ff1c00"/><stop offset="0.3642" stop-color="#fc1100"/><stop offset="0.3831" stop-color="#e50000"/><stop offset="0.4079" stop-color="#d40000"/><stop offset="0.4516" stop-color="#cb0000"/><stop offset="0.5071" stop-color="#a30000"/><stop offset="0.5519" stop-color="#9d0000"/><stop offset="0.657" stop-color="#ae0000"/><stop offset="0.7409" stop-color="#ba0000"/><stop offset="0.8081" stop-color="#b00000"/><stop offset="0.9345" stop-color="#8a0000"/><stop offset="0.9994" stop-color="#820000"/></linearGradient><linearGradient id="r88" gradientUnits="userSpaceOnUse" x1="83" x2="930" y1="0" y2="0"><stop offset="0.0005903" stop-color="#820000"/><stop offset="0.03247" stop-color="#8e0000"/><stop offset="0.05136" stop-color="#a50000"/><stop offset="0.06434" stop-color="#c50000"/><stop offset="0.07379" stop-color="#e90100"/><stop offset="0.07851" stop-color="#ff1400"/><stop offset="0.09032" stop-color="#ff5000"/><stop offset="0.1009" stop-color="#ff9900"/><stop offset="0.1104" stop-color="#ffe800"/><stop offset="0.1116" stop-color="#f9f300"/><stop offset="0.1128" stop-color="#f0fe07"/><stop offset="0.1375" stop-color="#17ffe0"/><stop offset="0.1399" stop-color="#02e8f4"/><stop offset="0.1411" stop-color="#00dcfe"/><stop offset="0.1517" stop-color="#0077ff"/><stop offset="0.16" stop-color="#003aff"/><stop offset="0.1671" stop-color="#0016ff"/><stop offset="0.1741" stop-color="#0003ff"/><stop offset="0.1824" stop-color="#0002ff"/><stop offset="0.1907" stop-color="#0017ff"/><stop offset="0.2001" stop-color="#0044ff"/><stop offset="0.2131" stop-color="#009aff"/><stop offset="0.2214" stop-color="#00d8ff"/><stop offset="0.2237" stop-color="#04ebf2"/><stop offset="0.2261" stop-color="#14fee3"/><stop offset="0.258" stop-color="#ebff0b"/><stop offset="0.2603" stop-color="#fbf100"/><stop offset="0.2627" stop-color="#ffe000"/><stop offset="0.2745" stop-color="#ff9500"/><stop offset="0.2851" stop-color="#ff6300"/><stop offset="0.2957" stop-color="#ff4500"/><stop offset="0.3099" stop-color="#ff3200"/><stop offset="0.3536" stop-color="#ff1600"/><stop offset="0.3619" stop-color="#f90e00"/><stop offset="0.3784" stop-color="#e40000"/><stop offset="0.4032" stop-color="#cf0000"/><stop offset="0.4551" stop-color="#c30000"/><stop offset="0.5071" stop-color="#a00000"/><stop offset="0.5555" stop-color="#9b0000"/><stop offset="0.6724" stop-color="#ae0000"/><stop offset="0.7503" stop-color="#b60000"/><stop offset="0.8247" stop-color="#a70000"/><stop offset="0.9392" stop-color="#880000"/><stop offset="0.9994" stop-color="#820000"/></linearGradient><linearGradient id="r89" gradientUnits="userSpaceOnUse" x1="83" x2="930" y1="0" y2="0"><stop offset="0.0005903" stop-color="#820000"/><stop offset="0.03247" stop-color="#8f0000"/><stop offset="0.05018" stop-color="#a50000"/><stop offset="0.06316" stop-color="#c50000"/><stop offset="0.07261" stop-color="#e90100"/><stop offset="0.07733" stop-color="#ff1400"/><stop offset="0.08796" stop-color="#ff4a00"/><stop offset="0.09858" stop-color="#ff9100"/><stop offset="0.1092" stop-color="#ffeb00"/><stop offset="0.1104" stop-color="#f7f600"/><stop offset="0.1116" stop-color="#edff0a"/><stop offset="0.1316" stop-color="#3affbd"/><stop offset="0.1352" stop-color="#19ffde"/><stop offset="0.1364" stop-color="#0ff8e8"/><stop offset="0.1375" stop-color="#04ebf3"/><stop offset="0.1387" stop-color="#00defd"/><stop offset="0.1494" stop-color="#0072ff"/><stop offset="0.1576" stop-color="#0030ff"/><stop offset="0.1647" stop-color="#0006ff"/><stop offset="0.1671" stop-color="#0000ff"/><stop offset="0.1718" stop-color="#0000fc"/><stop offset="0.1789" stop-color="#0000f5"/><stop offset="0.1883" stop-color="#0000ff"/><stop offset="0.1919" stop-color="#0007ff"/><stop offset="0.2013" stop-color="#0039ff"/><stop offset="0.2143" stop-color="#0095ff"/><stop offset="0.2226" stop-color="#00d7ff"/><stop offset="0.2249" stop-color="#04ebf2"/><stop offset="0.2273" stop-color="#14ffe3"/><stop offset="0.258" stop-color="#ecff0b"/><stop offset="0.2603" stop-color="#fbf000"/><stop offset="0.2639" stop-color="#ffd600"/><stop offset="0.2745" stop-color="#ff9200"/><stop offset="0.2851" stop-color="#ff6100"/><stop offset="0.2969" stop-color="#ff4000"/><stop offset="0.3123" stop-color="#ff2d00"/><stop offset="0.3536" stop-color="#fe1200"/><stop offset="0.3737" stop-color="#e40000"/><stop offset="0.4008" stop-color="#ca0000"/><stop offset="0.4587" stop-color="#bb0000"/><stop offset="0.5083" stop-color="#9e0000"/><stop offset="0.5649" stop-color="#9a0000"/><stop offset="0.742" stop-color="#b20000"/><stop offset="0.8164" stop-color="#a70000"/><stop offset="0.9404" stop-color="#870000"/><stop offset="0.9994" stop-color="#820000"/></linearGradient><linearGradient id="r90" gradientUnits="userSpaceOnUse" x1="83" x2="930" y1="0" y2="0"><stop offset="0.0005903" stop-color="#830000"/><stop offset="0.03129" stop-color="#8f0000"/><stop offset="0.049" stop-color="#a50000"/><stop offset="0.06198" stop-color="#c50000"/><stop offset="0.07143" stop-color="#e90100"/><stop offset="0.07615" stop-color="#ff1300"/><stop offset="0.08678" stop-color="#ff4a00"/><stop offset="0.0974" stop-color="#ff9200"/><stop offset="0.108" stop-color="#ffec00"/><stop offset="0.1092" stop-color="#f5f702"/><stop offset="0.1104" stop-color="#ebff0b"/><stop offset="0.1281" stop-color="#4bffac"/><stop offset="0.134" stop-color="#13fde4"/><stop offset="0.1364" stop-color="#00e2f9"/><stop offset="0.1375" stop-color="#00d5ff"/><stop offset="0.1482" stop-color="#0066ff"/><stop offset="0.1564" stop-color="#0020ff"/><stop offset="0.1612" stop-color="#0001ff"/><stop offset="0.1647" stop-color="#0000fd"/><stop offset="0.1718" stop-color="#0000e2"/><stop offset="0.1789" stop-color="#0000dc"/><stop offset="0.186" stop-color="#0000ea"/><stop offset="0.1907" stop-color="#0000fe"/><stop offset="0.1942" stop-color="#0000ff"/><stop offset="0.2048" stop-color="#0042ff"/><stop offset="0.2202" stop-color="#00baff"/><stop offset="0.2237" stop-color="#00d9ff"/><stop offset="0.2249" stop-color="#00e3f9"/><stop offset="0.2285" stop-color="#17ffe0"/><stop offset="0.258" stop-color="#edff0a"/><stop offset="0.2591" stop-color="#f5f702"/><stop offset="0.2603" stop-color="#fdee00"/><stop offset="0.2721" stop-color="#ff9d00"/><stop offset="0.2828" stop-color="#ff6800"/><stop offset="0.2934" stop-color="#ff4500"/><stop offset="0.3076" stop-color="#ff2e00"/><stop offset="0.3489" stop-color="#fd1200"/><stop offset="0.3689" stop-color="#e40000"/><stop offset="0.3973" stop-color="#c70000"/><stop offset="0.4634" stop-color="#b30000"/><stop offset="0.5106" stop-color="#9b0000"/><stop offset="0.5791" stop-color="#9a0000"/><stop offset="0.742" stop-color="#af0000"/><stop offset="0.82" stop-color="#a30000"/><stop offset="0.9451" stop-color="#860000"/><stop offset="0.9994" stop-color="#810000"/></linearGradient><linearGradient id="r91" gradientUnits="userSpaceOnUse" x1="83" x2="930" y1="0" y2="0"><stop offset="0.0005903" stop-color="#830000"/><stop offset="0.03129" stop-color="#8f0000"/><stop offset="0.049" stop-color="#a70000"/><stop offset="0.06198" stop-color="#c80000"/><stop offset="0.07025" stop-color="#e80000"/><stop offset="0.07497" stop-color="#ff1300"/><stop offset="0.0856" stop-color="#ff4900"/><stop offset="0.09622" stop-color="#ff9200"/><stop offset="0.1068" stop-color="#feed00"/><stop offset="0.108" stop-color="#f5f802"/><stop offset="0.1092" stop-color="#ebff0c"/><stop offset="0.1257" stop-color="#53ffa4"/><stop offset="0.1316" stop-color="#1affdd"/><stop offset="0.1328" stop-color="#0ff8e8"/><stop offset="0.134" stop-color="#03eaf3"/><stop offset="0.1352" stop-color="#00dcff"/><stop offset="0.1458" stop-color="#0067ff"/><stop offset="0.1541" stop-color="#001cff"/><stop offset="0.1576" stop-color="#0002ff"/><stop offset="0.16" stop-color="#0000ff"/><stop offset="0.1671" stop-color="#0000d9"/><stop offset="0.173" stop-color="#0000c9"/><stop offset="0.18" stop-color="#0000c8"/><stop offset="0.1871" stop-color="#0000db"/><stop offset="0.1942" stop-color="#0000ff"/><stop offset="0.1966" stop-color="#0000ff"/><stop offset="0.2037" stop-color="#002dff"/><stop offset="0.2178" stop-color="#009eff"/><stop offset="0.2249" stop-color="#00ddfe"/><stop offset="0.2261" stop-color="#01e7f5"/><stop offset="0.2285" stop-color="#13fde4"/><stop offset="0.258" stop-color="#effe08"/><stop offset="0.2591" stop-color="#f7f500"/><stop offset="0.2603" stop-color="#ffec00"/><stop offset="0.271" stop-color="#ffa100"/><stop offset="0.2816" stop-color="#ff6a00"/><stop offset="0.2922" stop-color="#ff4600"/><stop offset="0.3064" stop-color="#ff2d00"/><stop offset="0.3442" stop-color="#fd1100"/><stop offset="0.3642" stop-color="#e40000"/><stop offset="0.3949" stop-color="#c30000"/><stop offset="0.4256" stop-color="#b80000"/><stop offset="0.4658" stop-color="#ad0000"/><stop offset="0.5142" stop-color="#980000"/><stop offset="0.6004" stop-color="#9a0000"/><stop offset="0.7432" stop-color="#ab0000"/><stop offset="0.827" stop-color="#9e0000"/><stop offset="0.9498" stop-color="#850000"/><stop offset="0.9994" stop-color="#810000"/></linearGradient><linearGradient id="r92" gradientUnits="userSpaceOnUse" x1="83" x2="930" y1="0" y2="0"><stop offset="0.0005903" stop-color="#830000"/><stop offset="0.03011" stop-color="#8f0000"/><stop offset="0.04782" stop-color="#a60000"/><stop offset="0.0608" stop-color="#c70000"/><stop offset="0.06907" stop-color="#e70000"/><stop offset="0.07379" stop-color="#fe1200"/><stop offset="0.08442" stop-color="#ff4800"/><stop offset="0.09504" stop-color="#ff9100"/><stop offset="0.1057" stop-color="#ffec00"/><stop offset="0.1068" stop-color="#f5f802"/><stop offset="0.108" stop-color="#ebff0c"/><stop offset="0.1234" stop-color="#5dff9a"/><stop offset="0.1305" stop-color="#17ffe0"/><stop offset="0.1328" stop-color="#00e6f7"/><stop offset="0.134" stop-color="#00d7ff"/><stop offset="0.1458" stop-color="#0054ff"/><stop offset="0.1541" stop-color="#0008ff"/><stop offset="0.1553" stop-color="#0000ff"/><stop offset="0.1576" stop-color="#0000fc"/><stop offset="0.1647" stop-color="#0000ce"/><stop offset="0.1706" stop-color="#0000b8"/><stop offset="0.1765" stop-color="#0000b2"/><stop offset="0.1836" stop-color="#0000bd"/><stop offset="0.1907" stop-color="#0000da"/><stop offset="0.1966" stop-color="#0000ff"/><stop offset="0.1989" stop-color="#0000ff"/><stop offset="0.2107" stop-color="#005aff"/><stop offset="0.2249" stop-color="#00d8ff"/><stop offset="0.2261" stop-color="#00e3f8"/><stop offset="0.2285" stop-color="#10fae7"/><stop offset="0.2296" stop-color="#19ffde"/><stop offset="0.2568" stop-color="#eaff0d"/><stop offset="0.258" stop-color="#f2fb05"/><stop offset="0.2603" stop-color="#ffe800"/><stop offset="0.271" stop-color="#ff9d00"/><stop offset="0.2816" stop-color="#ff6600"/><stop offset="0.2922" stop-color="#ff4300"/><stop offset="0.3064" stop-color="#ff2a00"/><stop offset="0.3394" stop-color="#fc1100"/><stop offset="0.3595" stop-color="#e50000"/><stop offset="0.3937" stop-color="#be0000"/><stop offset="0.4244" stop-color="#b30000"/><stop offset="0.4693" stop-color="#a70000"/><stop offset="0.5177" stop-color="#960000"/><stop offset="0.6204" stop-color="#9a0000"/><stop offset="0.7456" stop-color="#a70000"/><stop offset="0.8365" stop-color="#9a0000"/><stop offset="0.9581" stop-color="#840000"/><stop offset="0.9994" stop-color="#810000"/></linearGradient><linearGradient id="r93" gradientUnits="userSpaceOnUse" x1="83" x2="930" y1="0" y2="0"><stop offset="0.0005903" stop-color="#830000"/><stop offset="0.03011" stop-color="#900000"/><stop offset="0.04782" stop-color="#a80000"/><stop offset="0.0608" stop-color="#ca0000"/><stop offset="0.06907" stop-color="#eb0300"/><stop offset="0.07379" stop-color="#ff1600"/><stop offset="0.08442" stop-color="#ff4e00"/><stop offset="0.09504" stop-color="#ff9800"/><stop offset="0.1045" stop-color="#ffeb00"/><stop offset="0.1057" stop-color="#f6f601"/><stop offset="0.1068" stop-color="#ecff0b"/><stop offset="0.1222" stop-color="#5cff9a"/><stop offset="0.1293" stop-color="#16ffe1"/><stop offset="0.1316" stop-color="#00e4f8"/><stop offset="0.1328" stop-color="#00d5ff"/><stop offset="0.1446" stop-color="#004eff"/><stop offset="0.1529" stop-color="#0000ff"/><stop offset="0.1553" stop-color="#0000fb"/><stop offset="0.1623" stop-color="#0000c7"/><stop offset="0.1682" stop-color="#0000ac"/><stop offset="0.1741" stop-color="#0000a1"/><stop offset="0.18" stop-color="#0000a4"/><stop offset="0.1871" stop-color="#0000bb"/><stop offset="0.1954" stop-color="#0000eb"/><stop offset="0.1978" stop-color="#0000fc"/><stop offset="0.2001" stop-color="#0000ff"/><stop offset="0.2096" stop-color="#0049ff"/><stop offset="0.2249" stop-color="#00d6ff"/><stop offset="0.2261" stop-color="#00e1fa"/><stop offset="0.2285" stop-color="#0ff8e8"/><stop offset="0.2296" stop-color="#18ffde"/><stop offset="0.2568" stop-color="#edff09"/><stop offset="0.258" stop-color="#f6f701"/><stop offset="0.2591" stop-color="#feed00"/><stop offset="0.2698" stop-color="#ffa000"/><stop offset="0.2804" stop-color="#ff6700"/><stop offset="0.291" stop-color="#ff4200"/><stop offset="0.3052" stop-color="#ff2800"/><stop offset="0.3335" stop-color="#fd1100"/><stop offset="0.3548" stop-color="#e50000"/><stop offset="0.3914" stop-color="#bb0000"/><stop offset="0.4209" stop-color="#ae0000"/><stop offset="0.4717" stop-color="#a20000"/><stop offset="0.5224" stop-color="#940000"/><stop offset="0.6417" stop-color="#9b0000"/><stop offset="0.7527" stop-color="#a40000"/><stop offset="0.8625" stop-color="#920000"/><stop offset="0.9817" stop-color="#820000"/><stop offset="0.9994" stop-color="#810000"/></linearGradient><linearGradient id="r94" gradientUnits="userSpaceOnUse" x1="83" x2="930" y1="0" y2="0"><stop offset="0.0005903" stop-color="#830000"/><stop offset="0.03011" stop-color="#910000"/><stop offset="0.04782" stop-color="#aa0000"/><stop offset="0.0608" stop-color="#cd0000"/><stop offset="0.06789" stop-color="#ea0100"/><stop offset="0.07261" stop-color="#ff1500"/><stop offset="0.08323" stop-color="#ff4c00"/><stop offset="0.09386" stop-color="#ff9600"/><stop offset="0.1033" stop-color="#ffe900"/><stop offset="0.1045" stop-color="#f8f400"/><stop offset="0.1057" stop-color="#eeff09"/><stop offset="0.1198" stop-color="#69ff8d"/><stop offset="0.1281" stop-color="#16ffe0"/><stop offset="0.1305" stop-color="#00e4f8"/><stop offset="0.1316" stop-color="#00d5ff"/><stop offset="0.1434" stop-color="#004bff"/><stop offset="0.1505" stop-color="#0005ff"/><stop offset="0.1529" stop-color="#0000ff"/><stop offset="0.16" stop-color="#0000c5"/><stop offset="0.1659" stop-color="#0000a5"/><stop offset="0.1718" stop-color="#000094"/><stop offset="0.1777" stop-color="#000093"/><stop offset="0.1848" stop-color="#0000a5"/><stop offset="0.1919" stop-color="#0000c9"/><stop offset="0.1989" stop-color="#0000fd"/><stop offset="0.2013" stop-color="#0000ff"/><stop offset="0.2131" stop-color="#0064ff"/><stop offset="0.2249" stop-color="#00d5ff"/><stop offset="0.2261" stop-color="#00e1fa"/><stop offset="0.2285" stop-color="#10f9e7"/><stop offset="0.2296" stop-color="#19ffde"/><stop offset="0.2544" stop-color="#e0ff16"/><stop offset="0.2568" stop-color="#f2fb05"/><stop offset="0.2591" stop-color="#ffe800"/><stop offset="0.2698" stop-color="#ff9c00"/><stop offset="0.2804" stop-color="#ff6300"/><stop offset="0.291" stop-color="#ff3f00"/><stop offset="0.3052" stop-color="#ff2500"/><stop offset="0.3288" stop-color="#fc1000"/><stop offset="0.3512" stop-color="#e40000"/><stop offset="0.3902" stop-color="#b70000"/><stop offset="0.4209" stop-color="#aa0000"/><stop offset="0.4787" stop-color="#9c0000"/><stop offset="0.5331" stop-color="#920000"/><stop offset="0.6806" stop-color="#9d0000"/><stop offset="0.7739" stop-color="#9f0000"/><stop offset="0.9628" stop-color="#830000"/><stop offset="0.9994" stop-color="#810000"/></linearGradient><linearGradient id="r95" gradientUnits="userSpaceOnUse" x1="83" x2="930" y1="0" y2="0"><stop offset="0.0005903" stop-color="#830000"/><stop offset="0.02893" stop-color="#900000"/><stop offset="0.04664" stop-color="#a90000"/><stop offset="0.05962" stop-color="#cc0000"/><stop offset="0.06671" stop-color="#e80000"/><stop offset="0.07143" stop-color="#ff1300"/><stop offset="0.08205" stop-color="#ff4900"/><stop offset="0.09268" stop-color="#ff9300"/><stop offset="0.1021" stop-color="#ffe500"/><stop offset="0.1033" stop-color="#fbf000"/><stop offset="0.1045" stop-color="#f1fc06"/><stop offset="0.1116" stop-color="#b1ff46"/><stop offset="0.1269" stop-color="#18ffde"/><stop offset="0.1293" stop-color="#00e6f6"/><stop offset="0.1305" stop-color="#00d7ff"/><stop offset="0.1423" stop-color="#004aff"/><stop offset="0.1494" stop-color="#0002ff"/><stop offset="0.1517" stop-color="#0000fb"/><stop offset="0.1588" stop-color="#0000bf"/><stop offset="0.1647" stop-color="#00009c"/><stop offset="0.1706" stop-color="#00008a"/><stop offset="0.1765" stop-color="#000086"/><stop offset="0.1824" stop-color="#000092"/><stop offset="0.1895" stop-color="#0000b3"/><stop offset="0.1978" stop-color="#0000ed"/><stop offset="0.2001" stop-color="#0000ff"/><stop offset="0.2025" stop-color="#0005ff"/><stop offset="0.2155" stop-color="#0079ff"/><stop offset="0.2249" stop-color="#00d7ff"/><stop offset="0.2261" stop-color="#00e3f9"/><stop offset="0.2285" stop-color="#11fbe5"/><stop offset="0.2308" stop-color="#25ffd2"/><stop offset="0.2544" stop-color="#e6ff11"/><stop offset="0.2556" stop-color="#eeff08"/><stop offset="0.2568" stop-color="#f7f500"/><stop offset="0.258" stop-color="#ffec00"/><stop offset="0.2686" stop-color="#ff9e00"/><stop offset="0.2792" stop-color="#ff6400"/><stop offset="0.2898" stop-color="#ff3e00"/><stop offset="0.304" stop-color="#ff2300"/><stop offset="0.3229" stop-color="#fc1100"/><stop offset="0.3465" stop-color="#e40000"/><stop offset="0.389" stop-color="#b40000"/><stop offset="0.4197" stop-color="#a60000"/><stop offset="0.5283" stop-color="#910000"/><stop offset="0.6818" stop-color="#9b0000"/><stop offset="0.7786" stop-color="#9c0000"/><stop offset="0.9664" stop-color="#820000"/><stop offset="0.9994" stop-color="#810000"/></linearGradient><linearGradient id="r96" gradientUnits="userSpaceOnUse" x1="83" x2="930" y1="0" y2="0"><stop offset="0.0005903" stop-color="#830000"/><stop offset="0.02893" stop-color="#910000"/><stop offset="0.04664" stop-color="#aa0000"/><stop offset="0.05962" stop-color="#ce0000"/><stop offset="0.06671" stop-color="#eb0300"/><stop offset="0.07143" stop-color="#ff1600"/><stop offset="0.08205" stop-color="#ff4e00"/><stop offset="0.09268" stop-color="#ff9900"/><stop offset="0.1021" stop-color="#ffec00"/><stop offset="0.1033" stop-color="#f5f702"/><stop offset="0.1045" stop-color="#ebff0c"/><stop offset="0.1187" stop-color="#64ff92"/><stop offset="0.1257" stop-color="#1cffdb"/><stop offset="0.1269" stop-color="#10f9e7"/><stop offset="0.1281" stop-color="#04eaf3"/><stop offset="0.1293" stop-color="#00dbff"/><stop offset="0.1411" stop-color="#004cff"/><stop offset="0.1482" stop-color="#0002ff"/><stop offset="0.1505" stop-color="#0000fa"/><stop offset="0.1576" stop-color="#0000bc"/><stop offset="0.1635" stop-color="#000097"/><stop offset="0.1694" stop-color="#000082"/><stop offset="0.1789" stop-color="#000081"/><stop offset="0.186" stop-color="#00009a"/><stop offset="0.193" stop-color="#0000c5"/><stop offset="0.2001" stop-color="#0000fe"/><stop offset="0.2025" stop-color="#0003ff"/><stop offset="0.2155" stop-color="#007aff"/><stop offset="0.2249" stop-color="#00daff"/><stop offset="0.2261" stop-color="#01e7f6"/><stop offset="0.2285" stop-color="#15ffe2"/><stop offset="0.2521" stop-color="#d9ff1d"/><stop offset="0.2544" stop-color="#ebff0b"/><stop offset="0.2556" stop-color="#f4f903"/><stop offset="0.2568" stop-color="#fdef00"/><stop offset="0.2674" stop-color="#ffa000"/><stop offset="0.278" stop-color="#ff6500"/><stop offset="0.2887" stop-color="#ff3d00"/><stop offset="0.3028" stop-color="#ff2100"/><stop offset="0.3182" stop-color="#fc1100"/><stop offset="0.3418" stop-color="#e40000"/><stop offset="0.3878" stop-color="#b00000"/><stop offset="0.4185" stop-color="#a20000"/><stop offset="0.5307" stop-color="#900000"/><stop offset="0.7633" stop-color="#9b0000"/><stop offset="0.9758" stop-color="#820000"/><stop offset="0.9994" stop-color="#810000"/></linearGradient><linearGradient id="r97" gradientUnits="userSpaceOnUse" x1="83" x2="930" y1="0" y2="0"><stop offset="0.0005903" stop-color="#840000"/><stop offset="0.02893" stop-color="#920000"/><stop offset="0.04545" stop-color="#a90000"/><stop offset="0.05844" stop-color="#cc0000"/><stop offset="0.06553" stop-color="#e80000"/><stop offset="0.07025" stop-color="#ff1300"/><stop offset="0.08087" stop-color="#ff4a00"/><stop offset="0.0915" stop-color="#ff9400"/><stop offset="0.1009" stop-color="#ffe700"/><stop offset="0.1021" stop-color="#faf200"/><stop offset="0.1033" stop-color="#f0fe07"/><stop offset="0.1163" stop-color="#76ff81"/><stop offset="0.1257" stop-color="#15ffe2"/><stop offset="0.1281" stop-color="#00e1fa"/><stop offset="0.1305" stop-color="#00c3ff"/><stop offset="0.1423" stop-color="#0036ff"/><stop offset="0.147" stop-color="#0005ff"/><stop offset="0.1494" stop-color="#0000fd"/><stop offset="0.1564" stop-color="#0000bc"/><stop offset="0.1623" stop-color="#000095"/><stop offset="0.1671" stop-color="#000082"/><stop offset="0.18" stop-color="#000080"/><stop offset="0.1871" stop-color="#00009d"/><stop offset="0.1942" stop-color="#0000cc"/><stop offset="0.2001" stop-color="#0000fe"/><stop offset="0.2025" stop-color="#0004ff"/><stop offset="0.2155" stop-color="#007eff"/><stop offset="0.2237" stop-color="#00d3ff"/><stop offset="0.2249" stop-color="#00e0fc"/><stop offset="0.2273" stop-color="#10f9e7"/><stop offset="0.2285" stop-color="#1affdd"/><stop offset="0.2509" stop-color="#d7ff20"/><stop offset="0.2544" stop-color="#f2fb05"/><stop offset="0.2568" stop-color="#ffe700"/><stop offset="0.2674" stop-color="#ff9900"/><stop offset="0.278" stop-color="#ff5f00"/><stop offset="0.2887" stop-color="#ff3900"/><stop offset="0.3028" stop-color="#ff1d00"/><stop offset="0.3135" stop-color="#fc1100"/><stop offset="0.3359" stop-color="#e50000"/><stop offset="0.3867" stop-color="#ad0000"/><stop offset="0.4185" stop-color="#9f0000"/><stop offset="0.5342" stop-color="#8e0000"/><stop offset="0.7656" stop-color="#980000"/><stop offset="0.9793" stop-color="#810000"/><stop offset="0.9994" stop-color="#810000"/></linearGradient><linearGradient id="r98" gradientUnits="userSpaceOnUse" x1="83" x2="930" y1="0" y2="0"><stop offset="0.0005903" stop-color="#840000"/><stop offset="0.02893" stop-color="#920000"/><stop offset="0.04545" stop-color="#ab0000"/><stop offset="0.05844" stop-color="#ce0000"/><stop offset="0.06553" stop-color="#eb0300"/><stop offset="0.07025" stop-color="#ff1600"/><stop offset="0.08087" stop-color="#ff4d00"/><stop offset="0.0915" stop-color="#ff9800"/><stop offset="0.1009" stop-color="#ffeb00"/><stop offset="0.1021" stop-color="#f6f701"/><stop offset="0.1033" stop-color="#ebff0b"/><stop offset="0.1175" stop-color="#64ff92"/><stop offset="0.1246" stop-color="#1cffdb"/><stop offset="0.1257" stop-color="#0ff9e7"/><stop offset="0.1269" stop-color="#03eaf4"/><stop offset="0.1281" stop-color="#00daff"/><stop offset="0.1399" stop-color="#004aff"/><stop offset="0.147" stop-color="#0000ff"/><stop offset="0.1482" stop-color="#0000ff"/><stop offset="0.1564" stop-color="#0000b6"/><stop offset="0.1623" stop-color="#000091"/><stop offset="0.1671" stop-color="#000080"/><stop offset="0.1812" stop-color="#000082"/><stop offset="0.1883" stop-color="#0000a4"/><stop offset="0.1966" stop-color="#0000e1"/><stop offset="0.2001" stop-color="#0000ff"/><stop offset="0.2013" stop-color="#0000ff"/><stop offset="0.2037" stop-color="#0011ff"/><stop offset="0.2166" stop-color="#008fff"/><stop offset="0.2237" stop-color="#00daff"/><stop offset="0.2249" stop-color="#01e7f6"/><stop offset="0.2273" stop-color="#16ffe1"/><stop offset="0.2497" stop-color="#d5ff22"/><stop offset="0.2532" stop-color="#f0fd07"/><stop offset="0.2544" stop-color="#f9f300"/><stop offset="0.2556" stop-color="#ffe900"/><stop offset="0.2662" stop-color="#ff9a00"/><stop offset="0.2769" stop-color="#ff5f00"/><stop offset="0.2875" stop-color="#ff3800"/><stop offset="0.3017" stop-color="#ff1b00"/><stop offset="0.3099" stop-color="#fc1000"/><stop offset="0.3312" stop-color="#e40000"/><stop offset="0.3855" stop-color="#aa0000"/><stop offset="0.4185" stop-color="#9c0000"/><stop offset="0.5378" stop-color="#8d0000"/><stop offset="0.7692" stop-color="#960000"/><stop offset="0.9841" stop-color="#810000"/><stop offset="0.9994" stop-color="#800000"/></linearGradient><linearGradient id="r99" gradientUnits="userSpaceOnUse" x1="83" x2="930" y1="0" y2="0"><stop offset="0.0005903" stop-color="#840000"/><stop offset="0.02774" stop-color="#920000"/><stop offset="0.04545" stop-color="#ac0000"/><stop offset="0.05844" stop-color="#d00000"/><stop offset="0.06434" stop-color="#e80000"/><stop offset="0.06907" stop-color="#ff1300"/><stop offset="0.07969" stop-color="#ff4900"/><stop offset="0.09032" stop-color="#ff9200"/><stop offset="0.1009" stop-color="#fcef00"/><stop offset="0.1021" stop-color="#f2fb05"/><stop offset="0.1045" stop-color="#ddff19"/><stop offset="0.1187" stop-color="#54ffa2"/><stop offset="0.1246" stop-color="#18ffdf"/><stop offset="0.1269" stop-color="#00e4f8"/><stop offset="0.1281" stop-color="#00d5ff"/><stop offset="0.1399" stop-color="#0046ff"/><stop offset="0.1458" stop-color="#0007ff"/><stop offset="0.147" stop-color="#0000ff"/><stop offset="0.1482" stop-color="#0000fe"/><stop offset="0.1553" stop-color="#0000bd"/><stop offset="0.1612" stop-color="#000095"/><stop offset="0.1659" stop-color="#000080"/><stop offset="0.18" stop-color="#000080"/><stop offset="0.1871" stop-color="#0000a0"/><stop offset="0.1942" stop-color="#0000d2"/><stop offset="0.1989" stop-color="#0000fc"/><stop offset="0.2013" stop-color="#0002ff"/><stop offset="0.2131" stop-color="#0072ff"/><stop offset="0.2226" stop-color="#00d6ff"/><stop offset="0.2237" stop-color="#00e3f9"/><stop offset="0.2261" stop-color="#13fde4"/><stop offset="0.2485" stop-color="#d4ff23"/><stop offset="0.2521" stop-color="#effe08"/><stop offset="0.2532" stop-color="#f8f400"/><stop offset="0.2544" stop-color="#ffea00"/><stop offset="0.2651" stop-color="#ff9b00"/><stop offset="0.2757" stop-color="#ff5f00"/><stop offset="0.2863" stop-color="#ff3700"/><stop offset="0.3005" stop-color="#ff1800"/><stop offset="0.3076" stop-color="#fa0f00"/><stop offset="0.3253" stop-color="#e50000"/><stop offset="0.3843" stop-color="#a70000"/><stop offset="0.4174" stop-color="#990000"/><stop offset="0.5413" stop-color="#8c0000"/><stop offset="0.7727" stop-color="#930000"/><stop offset="0.9888" stop-color="#810000"/><stop offset="0.9994" stop-color="#800000"/></linearGradient><linearGradient id="r100" gradientUnits="userSpaceOnUse" x1="83" x2="930" y1="0" y2="0"><stop offset="0.0005903" stop-color="#840000"/><stop offset="0.02774" stop-color="#930000"/><stop offset="0.04427" stop-color="#aa0000"/><stop offset="0.05726" stop-color="#cd0000"/><stop offset="0.06434" stop-color="#ea0100"/><stop offset="0.06907" stop-color="#ff1400"/><stop offset="0.07969" stop-color="#ff4b00"/><stop offset="0.09032" stop-color="#ff9500"/><stop offset="0.09976" stop-color="#ffe700"/><stop offset="0.1009" stop-color="#f9f200"/><stop offset="0.1021" stop-color="#effe07"/><stop offset="0.1151" stop-color="#75ff81"/><stop offset="0.1246" stop-color="#15ffe2"/><stop offset="0.1269" stop-color="#00e1fa"/><stop offset="0.1293" stop-color="#00c3ff"/><stop offset="0.1411" stop-color="#0037ff"/><stop offset="0.1458" stop-color="#0006ff"/><stop offset="0.147" stop-color="#0000ff"/><stop offset="0.1482" stop-color="#0000fd"/><stop offset="0.1553" stop-color="#0000bd"/><stop offset="0.1612" stop-color="#000096"/><stop offset="0.1671" stop-color="#000080"/><stop offset="0.1789" stop-color="#000081"/><stop offset="0.186" stop-color="#0000a0"/><stop offset="0.193" stop-color="#0000d0"/><stop offset="0.1978" stop-color="#0000f9"/><stop offset="0.1989" stop-color="#0000ff"/><stop offset="0.2001" stop-color="#0000ff"/><stop offset="0.2107" stop-color="#0063ff"/><stop offset="0.2214" stop-color="#00d4ff"/><stop offset="0.2226" stop-color="#00e1fb"/><stop offset="0.2249" stop-color="#11fbe6"/><stop offset="0.2273" stop-color="#26ffd1"/><stop offset="0.2473" stop-color="#d3ff24"/><stop offset="0.2509" stop-color="#efff08"/><stop offset="0.2521" stop-color="#f7f500"/><stop offset="0.2532" stop-color="#ffeb00"/><stop offset="0.2639" stop-color="#ff9b00"/><stop offset="0.2745" stop-color="#ff5e00"/><stop offset="0.2851" stop-color="#ff3600"/><stop offset="0.2993" stop-color="#ff1600"/><stop offset="0.3194" stop-color="#e70000"/><stop offset="0.3819" stop-color="#a50000"/><stop offset="0.4162" stop-color="#970000"/><stop offset="0.546" stop-color="#8b0000"/><stop offset="0.7763" stop-color="#910000"/><stop offset="0.9959" stop-color="#800000"/><stop offset="0.9994" stop-color="#800000"/></linearGradient><linearGradient id="r101" gradientUnits="userSpaceOnUse" x1="83" x2="930" y1="0" y2="0"><stop offset="0.0005903" stop-color="#840000"/><stop offset="0.02774" stop-color="#930000"/><stop offset="0.04427" stop-color="#ab0000"/><stop offset="0.05726" stop-color="#cf0000"/><stop offset="0.06434" stop-color="#eb0300"/><stop offset="0.06907" stop-color="#ff1600"/><stop offset="0.07969" stop-color="#ff4d00"/><stop offset="0.09032" stop-color="#ff9700"/><stop offset="0.09976" stop-color="#ffe900"/><stop offset="0.1009" stop-color="#f8f400"/><stop offset="0.1021" stop-color="#eeff09"/><stop offset="0.1163" stop-color="#68ff8f"/><stop offset="0.1246" stop-color="#14fee3"/><stop offset="0.1269" stop-color="#00e0fb"/><stop offset="0.1293" stop-color="#00c3ff"/><stop offset="0.1411" stop-color="#0037ff"/><stop offset="0.1458" stop-color="#0007ff"/><stop offset="0.147" stop-color="#0000ff"/><stop offset="0.1482" stop-color="#0000ff"/><stop offset="0.1553" stop-color="#0000c0"/><stop offset="0.1612" stop-color="#00009b"/><stop offset="0.1671" stop-color="#000085"/><stop offset="0.173" stop-color="#000080"/><stop offset="0.1789" stop-color="#000089"/><stop offset="0.186" stop-color="#0000a9"/><stop offset="0.193" stop-color="#0000da"/><stop offset="0.1966" stop-color="#0000f9"/><stop offset="0.1978" stop-color="#0000ff"/><stop offset="0.1989" stop-color="#0000ff"/><stop offset="0.2084" stop-color="#0057ff"/><stop offset="0.2202" stop-color="#00d3ff"/><stop offset="0.2214" stop-color="#00e0fb"/><stop offset="0.2237" stop-color="#11fae6"/><stop offset="0.2261" stop-color="#26ffd1"/><stop offset="0.2462" stop-color="#d3ff24"/><stop offset="0.2497" stop-color="#efff08"/><stop offset="0.2509" stop-color="#f8f500"/><stop offset="0.2521" stop-color="#ffeb00"/><stop offset="0.2627" stop-color="#ff9a00"/><stop offset="0.2733" stop-color="#ff5e00"/><stop offset="0.2839" stop-color="#ff3400"/><stop offset="0.2981" stop-color="#ff1400"/><stop offset="0.3158" stop-color="#e50000"/><stop offset="0.3796" stop-color="#a40000"/><stop offset="0.4138" stop-color="#950000"/><stop offset="0.5508" stop-color="#8a0000"/><stop offset="0.781" stop-color="#8f0000"/><stop offset="0.9994" stop-color="#800000"/></linearGradient><linearGradient id="r102" gradientUnits="userSpaceOnUse" x1="83" x2="930" y1="0" y2="0"><stop offset="0.0005903" stop-color="#850000"/><stop offset="0.02774" stop-color="#940000"/><stop offset="0.04427" stop-color="#ac0000"/><stop offset="0.05726" stop-color="#d00000"/><stop offset="0.06316" stop-color="#e70000"/><stop offset="0.06789" stop-color="#fd1200"/><stop offset="0.07851" stop-color="#ff4700"/><stop offset="0.08914" stop-color="#ff8f00"/><stop offset="0.09976" stop-color="#ffea00"/><stop offset="0.1009" stop-color="#f7f500"/><stop offset="0.1021" stop-color="#edff0a"/><stop offset="0.1163" stop-color="#68ff8f"/><stop offset="0.1246" stop-color="#14ffe2"/><stop offset="0.1269" stop-color="#00e1fa"/><stop offset="0.1293" stop-color="#00c4ff"/><stop offset="0.1411" stop-color="#003aff"/><stop offset="0.147" stop-color="#0000ff"/><stop offset="0.1482" stop-color="#0000ff"/><stop offset="0.1576" stop-color="#0000b6"/><stop offset="0.1635" stop-color="#000098"/><stop offset="0.1694" stop-color="#00008a"/><stop offset="0.1753" stop-color="#00008c"/><stop offset="0.1812" stop-color="#00009d"/><stop offset="0.1883" stop-color="#0000c4"/><stop offset="0.1954" stop-color="#0000fc"/><stop offset="0.1978" stop-color="#0001ff"/><stop offset="0.2084" stop-color="#0064ff"/><stop offset="0.219" stop-color="#00d4ff"/><stop offset="0.2202" stop-color="#00e1fa"/><stop offset="0.2226" stop-color="#11fbe5"/><stop offset="0.2249" stop-color="#26ffd0"/><stop offset="0.245" stop-color="#d4ff23"/><stop offset="0.2485" stop-color="#effe07"/><stop offset="0.2497" stop-color="#f8f400"/><stop offset="0.2509" stop-color="#ffea00"/><stop offset="0.2615" stop-color="#ff9900"/><stop offset="0.2721" stop-color="#ff5c00"/><stop offset="0.2828" stop-color="#ff3300"/><stop offset="0.2969" stop-color="#fd1100"/><stop offset="0.3111" stop-color="#e60000"/><stop offset="0.3749" stop-color="#a40000"/><stop offset="0.4103" stop-color="#930000"/><stop offset="0.5531" stop-color="#8a0000"/><stop offset="0.7857" stop-color="#8d0000"/><stop offset="0.9994" stop-color="#800000"/></linearGradient><linearGradient id="r103" gradientUnits="userSpaceOnUse" x1="83" x2="930" y1="0" y2="0"><stop offset="0.0005903" stop-color="#850000"/><stop offset="0.02774" stop-color="#940000"/><stop offset="0.04427" stop-color="#ad0000"/><stop offset="0.05726" stop-color="#d10000"/><stop offset="0.06316" stop-color="#e80000"/><stop offset="0.06789" stop-color="#fe1200"/><stop offset="0.07851" stop-color="#ff4700"/><stop offset="0.08914" stop-color="#ff8f00"/><stop offset="0.09976" stop-color="#ffea00"/><stop offset="0.1009" stop-color="#f7f500"/><stop offset="0.1021" stop-color="#edff0a"/><stop offset="0.1163" stop-color="#69ff8e"/><stop offset="0.1246" stop-color="#16ffe1"/><stop offset="0.1269" stop-color="#00e4f8"/><stop offset="0.1281" stop-color="#00d5ff"/><stop offset="0.1399" stop-color="#004cff"/><stop offset="0.147" stop-color="#0006ff"/><stop offset="0.1482" stop-color="#0000ff"/><stop offset="0.1494" stop-color="#0000ff"/><stop offset="0.1564" stop-color="#0000c7"/><stop offset="0.1623" stop-color="#0000a8"/><stop offset="0.1682" stop-color="#000098"/><stop offset="0.1741" stop-color="#000097"/><stop offset="0.18" stop-color="#0000a7"/><stop offset="0.1871" stop-color="#0000cb"/><stop offset="0.1942" stop-color="#0000ff"/><stop offset="0.1954" stop-color="#0000ff"/><stop offset="0.1978" stop-color="#000fff"/><stop offset="0.2084" stop-color="#0073ff"/><stop offset="0.2178" stop-color="#00d7ff"/><stop offset="0.219" stop-color="#00e4f8"/><stop offset="0.2214" stop-color="#13fde3"/><stop offset="0.2426" stop-color="#ccff2b"/><stop offset="0.2473" stop-color="#f1fd06"/><stop offset="0.2485" stop-color="#faf200"/><stop offset="0.2497" stop-color="#ffe800"/><stop offset="0.2603" stop-color="#ff9800"/><stop offset="0.271" stop-color="#ff5b00"/><stop offset="0.2816" stop-color="#ff3100"/><stop offset="0.2946" stop-color="#fd1100"/><stop offset="0.3076" stop-color="#e60000"/><stop offset="0.3678" stop-color="#a60000"/><stop offset="0.4032" stop-color="#930000"/><stop offset="0.5484" stop-color="#890000"/><stop offset="0.7916" stop-color="#8c0000"/><stop offset="0.9994" stop-color="#800000"/></linearGradient><linearGradient id="r104" gradientUnits="userSpaceOnUse" x1="83" x2="930" y1="0" y2="0"><stop offset="0.0005903" stop-color="#850000"/><stop offset="0.02774" stop-color="#940000"/><stop offset="0.04427" stop-color="#ad0000"/><stop offset="0.05726" stop-color="#d10000"/><stop offset="0.06316" stop-color="#e80000"/><stop offset="0.06789" stop-color="#ff1300"/><stop offset="0.07851" stop-color="#ff4800"/><stop offset="0.08914" stop-color="#ff8f00"/><stop offset="0.09976" stop-color="#ffe900"/><stop offset="0.1009" stop-color="#f8f400"/><stop offset="0.1021" stop-color="#eeff09"/><stop offset="0.1163" stop-color="#6bff8c"/><stop offset="0.1246" stop-color="#1affdd"/><stop offset="0.1257" stop-color="#0ef7e9"/><stop offset="0.1269" stop-color="#02e8f5"/><stop offset="0.1281" stop-color="#00daff"/><stop offset="0.1399" stop-color="#0053ff"/><stop offset="0.1482" stop-color="#0005ff"/><stop offset="0.1505" stop-color="#0000ff"/><stop offset="0.1576" stop-color="#0000cc"/><stop offset="0.1635" stop-color="#0000b1"/><stop offset="0.1694" stop-color="#0000a6"/><stop offset="0.1753" stop-color="#0000aa"/><stop offset="0.1824" stop-color="#0000c2"/><stop offset="0.1895" stop-color="#0000ee"/><stop offset="0.1919" stop-color="#0000ff"/><stop offset="0.1942" stop-color="#0003ff"/><stop offset="0.2037" stop-color="#0055ff"/><stop offset="0.2166" stop-color="#00dbff"/><stop offset="0.2178" stop-color="#02e8f5"/><stop offset="0.2202" stop-color="#16ffe0"/><stop offset="0.2414" stop-color="#ceff29"/><stop offset="0.245" stop-color="#eaff0d"/><stop offset="0.2462" stop-color="#f3fa04"/><stop offset="0.2473" stop-color="#fbf000"/><stop offset="0.2509" stop-color="#ffd300"/><stop offset="0.2615" stop-color="#ff8700"/><stop offset="0.2721" stop-color="#ff4e00"/><stop offset="0.2839" stop-color="#ff2400"/><stop offset="0.2922" stop-color="#fd1100"/><stop offset="0.304" stop-color="#e60000"/><stop offset="0.3501" stop-color="#b20000"/><stop offset="0.389" stop-color="#960000"/><stop offset="0.4386" stop-color="#8c0000"/><stop offset="0.6098" stop-color="#890000"/><stop offset="0.8022" stop-color="#8a0000"/><stop offset="0.9994" stop-color="#800000"/></linearGradient><linearGradient id="r105" gradientUnits="userSpaceOnUse" x1="83" x2="930" y1="0" y2="0"><stop offset="0.0005903" stop-color="#850000"/><stop offset="0.02774" stop-color="#950000"/><stop offset="0.04427" stop-color="#ad0000"/><stop offset="0.05726" stop-color="#d10000"/><stop offset="0.06316" stop-color="#e80000"/><stop offset="0.06789" stop-color="#ff1300"/><stop offset="0.07851" stop-color="#ff4700"/><stop offset="0.08914" stop-color="#ff8e00"/><stop offset="0.09976" stop-color="#ffe700"/><stop offset="0.1009" stop-color="#f9f300"/><stop offset="0.1021" stop-color="#f0fe07"/><stop offset="0.1175" stop-color="#63ff93"/><stop offset="0.1257" stop-color="#13fde4"/><stop offset="0.1281" stop-color="#00e1fb"/><stop offset="0.1305" stop-color="#00c5ff"/><stop offset="0.1411" stop-color="#0050ff"/><stop offset="0.1494" stop-color="#0007ff"/><stop offset="0.1505" stop-color="#0000ff"/><stop offset="0.1529" stop-color="#0000fb"/><stop offset="0.16" stop-color="#0000d0"/><stop offset="0.1659" stop-color="#0000bc"/><stop offset="0.1718" stop-color="#0000b8"/><stop offset="0.1777" stop-color="#0000c3"/><stop offset="0.1848" stop-color="#0000e3"/><stop offset="0.1895" stop-color="#0000ff"/><stop offset="0.1919" stop-color="#0004ff"/><stop offset="0.2013" stop-color="#0052ff"/><stop offset="0.2143" stop-color="#00d4ff"/><stop offset="0.2155" stop-color="#00e1fb"/><stop offset="0.2178" stop-color="#11fae6"/><stop offset="0.2202" stop-color="#25ffd2"/><stop offset="0.2414" stop-color="#daff1d"/><stop offset="0.2438" stop-color="#ecff0b"/><stop offset="0.245" stop-color="#f5f702"/><stop offset="0.2462" stop-color="#feed00"/><stop offset="0.2568" stop-color="#ff9c00"/><stop offset="0.2674" stop-color="#ff5d00"/><stop offset="0.278" stop-color="#ff3100"/><stop offset="0.2898" stop-color="#fd1100"/><stop offset="0.3005" stop-color="#e60000"/><stop offset="0.3323" stop-color="#c00000"/><stop offset="0.3784" stop-color="#990000"/><stop offset="0.4197" stop-color="#8c0000"/><stop offset="0.6086" stop-color="#880000"/><stop offset="0.8105" stop-color="#880000"/><stop offset="0.9994" stop-color="#800000"/></linearGradient><linearGradient id="r106" gradientUnits="userSpaceOnUse" x1="83" x2="930" y1="0" y2="0"><stop offset="0.0005903" stop-color="#850000"/><stop offset="0.02774" stop-color="#950000"/><stop offset="0.04545" stop-color="#b00000"/><stop offset="0.05844" stop-color="#d50000"/><stop offset="0.06316" stop-color="#e80000"/><stop offset="0.06789" stop-color="#fe1200"/><stop offset="0.07851" stop-color="#ff4600"/><stop offset="0.08914" stop-color="#ff8c00"/><stop offset="0.09976" stop-color="#ffe500"/><stop offset="0.1009" stop-color="#fcf000"/><stop offset="0.1021" stop-color="#f2fb04"/><stop offset="0.1045" stop-color="#deff18"/><stop offset="0.1234" stop-color="#30ffc7"/><stop offset="0.1257" stop-color="#19ffde"/><stop offset="0.1269" stop-color="#0ef7e9"/><stop offset="0.1281" stop-color="#03e9f4"/><stop offset="0.1293" stop-color="#00dbff"/><stop offset="0.1399" stop-color="#0068ff"/><stop offset="0.1482" stop-color="#001eff"/><stop offset="0.1517" stop-color="#0004ff"/><stop offset="0.1553" stop-color="#0000fc"/><stop offset="0.1612" stop-color="#0000de"/><stop offset="0.1671" stop-color="#0000cf"/><stop offset="0.173" stop-color="#0000cf"/><stop offset="0.18" stop-color="#0000e2"/><stop offset="0.186" stop-color="#0000ff"/><stop offset="0.1883" stop-color="#0001ff"/><stop offset="0.1966" stop-color="#003dff"/><stop offset="0.2072" stop-color="#009fff"/><stop offset="0.2131" stop-color="#00dcff"/><stop offset="0.2143" stop-color="#02e8f5"/><stop offset="0.2166" stop-color="#16ffe1"/><stop offset="0.2391" stop-color="#d4ff23"/><stop offset="0.2426" stop-color="#effe07"/><stop offset="0.2438" stop-color="#f8f400"/><stop offset="0.245" stop-color="#ffea00"/><stop offset="0.2556" stop-color="#ff9a00"/><stop offset="0.2662" stop-color="#ff5b00"/><stop offset="0.278" stop-color="#ff2b00"/><stop offset="0.2875" stop-color="#fd1100"/><stop offset="0.2981" stop-color="#e50000"/><stop offset="0.3253" stop-color="#c20000"/><stop offset="0.3737" stop-color="#990000"/><stop offset="0.415" stop-color="#8b0000"/><stop offset="0.6181" stop-color="#870000"/><stop offset="0.8235" stop-color="#870000"/><stop offset="0.9994" stop-color="#800000"/></linearGradient><linearGradient id="r107" gradientUnits="userSpaceOnUse" x1="83" x2="930" y1="0" y2="0"><stop offset="0.0005903" stop-color="#860000"/><stop offset="0.02774" stop-color="#950000"/><stop offset="0.04545" stop-color="#b00000"/><stop offset="0.05844" stop-color="#d50000"/><stop offset="0.06316" stop-color="#e70000"/><stop offset="0.06789" stop-color="#fd1100"/><stop offset="0.07969" stop-color="#ff4c00"/><stop offset="0.09032" stop-color="#ff9300"/><stop offset="0.1009" stop-color="#ffec00"/><stop offset="0.1021" stop-color="#f6f701"/><stop offset="0.1033" stop-color="#ecff0b"/><stop offset="0.121" stop-color="#4dffaa"/><stop offset="0.1269" stop-color="#16ffe1"/><stop offset="0.1293" stop-color="#00e6f6"/><stop offset="0.1305" stop-color="#00d9ff"/><stop offset="0.1411" stop-color="#006aff"/><stop offset="0.1494" stop-color="#0025ff"/><stop offset="0.1553" stop-color="#0000ff"/><stop offset="0.1588" stop-color="#0000fd"/><stop offset="0.1647" stop-color="#0000e9"/><stop offset="0.1706" stop-color="#0000e4"/><stop offset="0.1777" stop-color="#0000f2"/><stop offset="0.1812" stop-color="#0000ff"/><stop offset="0.1848" stop-color="#0003ff"/><stop offset="0.193" stop-color="#0038ff"/><stop offset="0.2037" stop-color="#0093ff"/><stop offset="0.2107" stop-color="#00d9ff"/><stop offset="0.2119" stop-color="#00e5f7"/><stop offset="0.2143" stop-color="#13fde4"/><stop offset="0.2379" stop-color="#d8ff1f"/><stop offset="0.2403" stop-color="#eaff0d"/><stop offset="0.2426" stop-color="#fcf000"/><stop offset="0.2485" stop-color="#ffc100"/><stop offset="0.2591" stop-color="#ff7900"/><stop offset="0.2698" stop-color="#ff4300"/><stop offset="0.2816" stop-color="#ff1a00"/><stop offset="0.2863" stop-color="#fa0f00"/><stop offset="0.2946" stop-color="#e60000"/><stop offset="0.317" stop-color="#c60000"/><stop offset="0.3666" stop-color="#9b0000"/><stop offset="0.4079" stop-color="#8b0000"/><stop offset="0.6169" stop-color="#870000"/><stop offset="0.8365" stop-color="#850000"/><stop offset="0.9994" stop-color="#800000"/></linearGradient><linearGradient id="r108" gradientUnits="userSpaceOnUse" x1="83" x2="930" y1="0" y2="0"><stop offset="0.0005903" stop-color="#860000"/><stop offset="0.02774" stop-color="#950000"/><stop offset="0.04545" stop-color="#b00000"/><stop offset="0.05844" stop-color="#d40000"/><stop offset="0.06434" stop-color="#eb0300"/><stop offset="0.06907" stop-color="#ff1500"/><stop offset="0.08087" stop-color="#ff5100"/><stop offset="0.0915" stop-color="#ff9800"/><stop offset="0.1009" stop-color="#ffe700"/><stop offset="0.1021" stop-color="#faf200"/><stop offset="0.1033" stop-color="#f1fd06"/><stop offset="0.121" stop-color="#55ffa2"/><stop offset="0.1281" stop-color="#15ffe2"/><stop offset="0.1305" stop-color="#00e5f7"/><stop offset="0.1316" stop-color="#00d9ff"/><stop offset="0.1423" stop-color="#006fff"/><stop offset="0.1505" stop-color="#002fff"/><stop offset="0.1576" stop-color="#0009ff"/><stop offset="0.16" stop-color="#0000ff"/><stop offset="0.1789" stop-color="#0001ff"/><stop offset="0.1871" stop-color="#0028ff"/><stop offset="0.1954" stop-color="#0062ff"/><stop offset="0.206" stop-color="#00c1ff"/><stop offset="0.2084" stop-color="#00d8ff"/><stop offset="0.2096" stop-color="#00e4f8"/><stop offset="0.2119" stop-color="#12fbe5"/><stop offset="0.2155" stop-color="#2fffc8"/><stop offset="0.2379" stop-color="#e6ff11"/><stop offset="0.2391" stop-color="#efff08"/><stop offset="0.2403" stop-color="#f7f500"/><stop offset="0.2414" stop-color="#ffeb00"/><stop offset="0.2532" stop-color="#ff9300"/><stop offset="0.2639" stop-color="#ff5600"/><stop offset="0.2757" stop-color="#ff2600"/><stop offset="0.2828" stop-color="#fe1200"/><stop offset="0.2922" stop-color="#e60000"/><stop offset="0.3135" stop-color="#c60000"/><stop offset="0.3619" stop-color="#9b0000"/><stop offset="0.4032" stop-color="#8a0000"/><stop offset="0.6169" stop-color="#860000"/><stop offset="0.8518" stop-color="#840000"/><stop offset="0.9994" stop-color="#800000"/></linearGradient><linearGradient id="r109" gradientUnits="userSpaceOnUse" x1="83" x2="930" y1="0" y2="0"><stop offset="0.0005903" stop-color="#860000"/><stop offset="0.02893" stop-color="#960000"/><stop offset="0.04545" stop-color="#af0000"/><stop offset="0.05844" stop-color="#d30000"/><stop offset="0.06434" stop-color="#ea0200"/><stop offset="0.06907" stop-color="#ff1400"/><stop offset="0.08087" stop-color="#ff4e00"/><stop offset="0.0915" stop-color="#ff9500"/><stop offset="0.1021" stop-color="#ffec00"/><stop offset="0.1033" stop-color="#f6f701"/><stop offset="0.1045" stop-color="#ecff0a"/><stop offset="0.1293" stop-color="#15ffe1"/><stop offset="0.1316" stop-color="#01e7f5"/><stop offset="0.1328" stop-color="#00dbff"/><stop offset="0.1423" stop-color="#0081ff"/><stop offset="0.1505" stop-color="#0044ff"/><stop offset="0.1576" stop-color="#001fff"/><stop offset="0.1647" stop-color="#000cff"/><stop offset="0.1718" stop-color="#000aff"/><stop offset="0.1789" stop-color="#001bff"/><stop offset="0.1871" stop-color="#0042ff"/><stop offset="0.1966" stop-color="#0085ff"/><stop offset="0.206" stop-color="#00d9ff"/><stop offset="0.2072" stop-color="#00e5f8"/><stop offset="0.2096" stop-color="#12fce5"/><stop offset="0.2143" stop-color="#38ffbf"/><stop offset="0.2367" stop-color="#ebff0c"/><stop offset="0.2379" stop-color="#f4f903"/><stop offset="0.2391" stop-color="#fcef00"/><stop offset="0.2509" stop-color="#ff9700"/><stop offset="0.2615" stop-color="#ff5900"/><stop offset="0.2733" stop-color="#ff2700"/><stop offset="0.2804" stop-color="#fe1200"/><stop offset="0.2898" stop-color="#e50000"/><stop offset="0.3099" stop-color="#c50000"/><stop offset="0.356" stop-color="#9c0000"/><stop offset="0.3985" stop-color="#8a0000"/><stop offset="0.611" stop-color="#850000"/><stop offset="0.8695" stop-color="#830000"/><stop offset="0.9994" stop-color="#800000"/></linearGradient><linearGradient id="r110" gradientUnits="userSpaceOnUse" x1="83" x2="930" y1="0" y2="0"><stop offset="0.0005903" stop-color="#860000"/><stop offset="0.02893" stop-color="#960000"/><stop offset="0.04664" stop-color="#b10000"/><stop offset="0.05962" stop-color="#d60000"/><stop offset="0.06434" stop-color="#e80000"/><stop offset="0.06907" stop-color="#fe1200"/><stop offset="0.08087" stop-color="#ff4b00"/><stop offset="0.0915" stop-color="#ff9000"/><stop offset="0.1021" stop-color="#ffe500"/><stop offset="0.1033" stop-color="#fcf000"/><stop offset="0.1045" stop-color="#f3fa04"/><stop offset="0.1068" stop-color="#e0ff17"/><stop offset="0.1305" stop-color="#18ffdf"/><stop offset="0.1328" stop-color="#05ebf2"/><stop offset="0.134" stop-color="#00e0fb"/><stop offset="0.1375" stop-color="#00beff"/><stop offset="0.147" stop-color="#0071ff"/><stop offset="0.1553" stop-color="#0041ff"/><stop offset="0.1623" stop-color="#0029ff"/><stop offset="0.1694" stop-color="#0023ff"/><stop offset="0.1765" stop-color="#002fff"/><stop offset="0.1848" stop-color="#0050ff"/><stop offset="0.193" stop-color="#0085ff"/><stop offset="0.2037" stop-color="#00ddfe"/><stop offset="0.2048" stop-color="#02e8f5"/><stop offset="0.2072" stop-color="#14fee3"/><stop offset="0.2355" stop-color="#f1fd06"/><stop offset="0.2367" stop-color="#f9f300"/><stop offset="0.2379" stop-color="#ffe900"/><stop offset="0.2497" stop-color="#ff9300"/><stop offset="0.2615" stop-color="#ff5000"/><stop offset="0.2733" stop-color="#ff2100"/><stop offset="0.278" stop-color="#ff1300"/><stop offset="0.2875" stop-color="#e50000"/><stop offset="0.3064" stop-color="#c50000"/><stop offset="0.3477" stop-color="#9f0000"/><stop offset="0.3902" stop-color="#8b0000"/><stop offset="0.5094" stop-color="#850000"/><stop offset="0.8684" stop-color="#820000"/><stop offset="0.9994" stop-color="#800000"/></linearGradient><linearGradient id="r111" gradientUnits="userSpaceOnUse" x1="83" x2="930" y1="0" y2="0"><stop offset="0.0005903" stop-color="#860000"/><stop offset="0.02893" stop-color="#960000"/><stop offset="0.04664" stop-color="#b00000"/><stop offset="0.05962" stop-color="#d40000"/><stop offset="0.06553" stop-color="#eb0300"/><stop offset="0.07025" stop-color="#ff1500"/><stop offset="0.08205" stop-color="#ff4e00"/><stop offset="0.09386" stop-color="#ff9c00"/><stop offset="0.1033" stop-color="#ffe800"/><stop offset="0.1045" stop-color="#faf200"/><stop offset="0.1057" stop-color="#f0fd06"/><stop offset="0.1328" stop-color="#13fde4"/><stop offset="0.1352" stop-color="#01e7f5"/><stop offset="0.1364" stop-color="#00dcfe"/><stop offset="0.1458" stop-color="#0090ff"/><stop offset="0.1541" stop-color="#0060ff"/><stop offset="0.1612" stop-color="#0047ff"/><stop offset="0.1682" stop-color="#003fff"/><stop offset="0.1753" stop-color="#0048ff"/><stop offset="0.1836" stop-color="#0067ff"/><stop offset="0.1919" stop-color="#0099ff"/><stop offset="0.2001" stop-color="#00d9ff"/><stop offset="0.2013" stop-color="#00e3f9"/><stop offset="0.2048" stop-color="#17ffdf"/><stop offset="0.2332" stop-color="#eeff08"/><stop offset="0.2344" stop-color="#f7f500"/><stop offset="0.2355" stop-color="#ffec00"/><stop offset="0.2473" stop-color="#ff9600"/><stop offset="0.2591" stop-color="#ff5200"/><stop offset="0.271" stop-color="#ff2200"/><stop offset="0.2769" stop-color="#fc1000"/><stop offset="0.2851" stop-color="#e40000"/><stop offset="0.3028" stop-color="#c50000"/><stop offset="0.3394" stop-color="#a20000"/><stop offset="0.3831" stop-color="#8b0000"/><stop offset="0.4622" stop-color="#850000"/><stop offset="0.9085" stop-color="#810000"/><stop offset="0.9994" stop-color="#800000"/></linearGradient><linearGradient id="r112" gradientUnits="userSpaceOnUse" x1="83" x2="930" y1="0" y2="0"><stop offset="0.0005903" stop-color="#860000"/><stop offset="0.02893" stop-color="#960000"/><stop offset="0.04664" stop-color="#af0000"/><stop offset="0.05962" stop-color="#d20000"/><stop offset="0.06553" stop-color="#e90100"/><stop offset="0.07025" stop-color="#fe1200"/><stop offset="0.08205" stop-color="#ff4a00"/><stop offset="0.09386" stop-color="#ff9600"/><stop offset="0.1045" stop-color="#ffea00"/><stop offset="0.1057" stop-color="#f8f400"/><stop offset="0.1068" stop-color="#effe07"/><stop offset="0.134" stop-color="#1affdd"/><stop offset="0.1352" stop-color="#11fbe5"/><stop offset="0.1375" stop-color="#01e7f6"/><stop offset="0.1387" stop-color="#00ddfe"/><stop offset="0.1482" stop-color="#0099ff"/><stop offset="0.1564" stop-color="#0070ff"/><stop offset="0.1635" stop-color="#005fff"/><stop offset="0.1706" stop-color="#005eff"/><stop offset="0.1777" stop-color="#006dff"/><stop offset="0.186" stop-color="#0092ff"/><stop offset="0.1954" stop-color="#00d0ff"/><stop offset="0.1966" stop-color="#00d9ff"/><stop offset="0.1989" stop-color="#05ecf2"/><stop offset="0.2013" stop-color="#15ffe2"/><stop offset="0.2308" stop-color="#edff0a"/><stop offset="0.232" stop-color="#f5f701"/><stop offset="0.2332" stop-color="#feee00"/><stop offset="0.2462" stop-color="#ff9000"/><stop offset="0.258" stop-color="#ff4e00"/><stop offset="0.2698" stop-color="#ff1f00"/><stop offset="0.2745" stop-color="#fd1100"/><stop offset="0.2816" stop-color="#e70000"/><stop offset="0.2981" stop-color="#c70000"/><stop offset="0.33" stop-color="#a60000"/><stop offset="0.3749" stop-color="#8c0000"/><stop offset="0.4386" stop-color="#850000"/><stop offset="0.9109" stop-color="#810000"/><stop offset="0.9994" stop-color="#800000"/></linearGradient><linearGradient id="r113" gradientUnits="userSpaceOnUse" x1="83" x2="930" y1="0" y2="0"><stop offset="0.0005903" stop-color="#860000"/><stop offset="0.02893" stop-color="#950000"/><stop offset="0.04664" stop-color="#ae0000"/><stop offset="0.0608" stop-color="#d40000"/><stop offset="0.06671" stop-color="#eb0300"/><stop offset="0.07143" stop-color="#ff1400"/><stop offset="0.08323" stop-color="#ff4d00"/><stop offset="0.09504" stop-color="#ff9800"/><stop offset="0.1057" stop-color="#ffea00"/><stop offset="0.1068" stop-color="#f8f400"/><stop offset="0.108" stop-color="#effe07"/><stop offset="0.1352" stop-color="#23ffd4"/><stop offset="0.1375" stop-color="#13fde4"/><stop offset="0.1411" stop-color="#00e1fa"/><stop offset="0.1434" stop-color="#00d1ff"/><stop offset="0.1517" stop-color="#00a0ff"/><stop offset="0.16" stop-color="#0083ff"/><stop offset="0.1671" stop-color="#007bff"/><stop offset="0.1741" stop-color="#0082ff"/><stop offset="0.1824" stop-color="#009fff"/><stop offset="0.1919" stop-color="#00d5ff"/><stop offset="0.193" stop-color="#00ddfe"/><stop offset="0.1942" stop-color="#00e5f7"/><stop offset="0.1978" stop-color="#15ffe2"/><stop offset="0.2166" stop-color="#98ff5f"/><stop offset="0.2285" stop-color="#edff0a"/><stop offset="0.2296" stop-color="#f5f802"/><stop offset="0.2308" stop-color="#fdef00"/><stop offset="0.2438" stop-color="#ff9200"/><stop offset="0.2556" stop-color="#ff5000"/><stop offset="0.2686" stop-color="#ff1c00"/><stop offset="0.2721" stop-color="#fd1100"/><stop offset="0.2792" stop-color="#e70000"/><stop offset="0.2957" stop-color="#c50000"/><stop offset="0.3253" stop-color="#a60000"/><stop offset="0.3713" stop-color="#8c0000"/><stop offset="0.4339" stop-color="#840000"/><stop offset="0.9061" stop-color="#810000"/><stop offset="0.9994" stop-color="#800000"/></linearGradient><linearGradient id="r114" gradientUnits="userSpaceOnUse" x1="83" x2="930" y1="0" y2="0"><stop offset="0.0005903" stop-color="#860000"/><stop offset="0.03011" stop-color="#960000"/><stop offset="0.04782" stop-color="#af0000"/><stop offset="0.06198" stop-color="#d60000"/><stop offset="0.06671" stop-color="#e80000"/><stop offset="0.07261" stop-color="#ff1600"/><stop offset="0.08442" stop-color="#ff4e00"/><stop offset="0.09622" stop-color="#ff9900"/><stop offset="0.1068" stop-color="#ffea00"/><stop offset="0.108" stop-color="#f9f300"/><stop offset="0.1092" stop-color="#f0fd06"/><stop offset="0.134" stop-color="#3cffbb"/><stop offset="0.1399" stop-color="#17ffe0"/><stop offset="0.1446" stop-color="#00e2f9"/><stop offset="0.1458" stop-color="#00dbff"/><stop offset="0.1541" stop-color="#00b2ff"/><stop offset="0.1623" stop-color="#009dff"/><stop offset="0.1706" stop-color="#009cff"/><stop offset="0.1789" stop-color="#00b0ff"/><stop offset="0.1871" stop-color="#00d7ff"/><stop offset="0.1895" stop-color="#00e4f8"/><stop offset="0.193" stop-color="#12fbe5"/><stop offset="0.1966" stop-color="#26ffd1"/><stop offset="0.2143" stop-color="#9bff5b"/><stop offset="0.2261" stop-color="#edff0a"/><stop offset="0.2273" stop-color="#f5f702"/><stop offset="0.2285" stop-color="#fdee00"/><stop offset="0.2426" stop-color="#ff8c00"/><stop offset="0.2544" stop-color="#ff4c00"/><stop offset="0.2674" stop-color="#ff1900"/><stop offset="0.271" stop-color="#fa0e00"/><stop offset="0.278" stop-color="#e40000"/><stop offset="0.2946" stop-color="#c30000"/><stop offset="0.3229" stop-color="#a50000"/><stop offset="0.3689" stop-color="#8c0000"/><stop offset="0.4339" stop-color="#840000"/><stop offset="0.9061" stop-color="#800000"/><stop offset="0.9994" stop-color="#800000"/></linearGradient><linearGradient id="r115" gradientUnits="userSpaceOnUse" x1="83" x2="930" y1="0" y2="0"><stop offset="0.0005903" stop-color="#860000"/><stop offset="0.03011" stop-color="#950000"/><stop offset="0.04782" stop-color="#ae0000"/><stop offset="0.06198" stop-color="#d30000"/><stop offset="0.06789" stop-color="#e90100"/><stop offset="0.07261" stop-color="#fe1200"/><stop offset="0.0856" stop-color="#ff4f00"/><stop offset="0.09858" stop-color="#ffa100"/><stop offset="0.108" stop-color="#ffe800"/><stop offset="0.1104" stop-color="#f3fa04"/><stop offset="0.1128" stop-color="#e2ff15"/><stop offset="0.134" stop-color="#4effa8"/><stop offset="0.1446" stop-color="#13fde4"/><stop offset="0.1494" stop-color="#00e3f8"/><stop offset="0.1529" stop-color="#00d4ff"/><stop offset="0.1612" stop-color="#00beff"/><stop offset="0.1694" stop-color="#00bbff"/><stop offset="0.1777" stop-color="#00cdff"/><stop offset="0.1824" stop-color="#00dffc"/><stop offset="0.1848" stop-color="#04eaf3"/><stop offset="0.1883" stop-color="#13fde4"/><stop offset="0.2013" stop-color="#5aff9c"/><stop offset="0.2237" stop-color="#efff08"/><stop offset="0.2249" stop-color="#f6f600"/><stop offset="0.2261" stop-color="#feed00"/><stop offset="0.2403" stop-color="#ff8d00"/><stop offset="0.2532" stop-color="#ff4700"/><stop offset="0.2662" stop-color="#ff1600"/><stop offset="0.2745" stop-color="#e70000"/><stop offset="0.291" stop-color="#c30000"/><stop offset="0.317" stop-color="#a60000"/><stop offset="0.363" stop-color="#8c0000"/><stop offset="0.4256" stop-color="#830000"/><stop offset="0.8979" stop-color="#800000"/><stop offset="0.9994" stop-color="#800000"/></linearGradient><linearGradient id="r116" gradientUnits="userSpaceOnUse" x1="83" x2="930" y1="0" y2="0"><stop offset="0.0005903" stop-color="#860000"/><stop offset="0.03011" stop-color="#940000"/><stop offset="0.04782" stop-color="#ac0000"/><stop offset="0.06198" stop-color="#d00000"/><stop offset="0.06907" stop-color="#eb0200"/><stop offset="0.07379" stop-color="#ff1300"/><stop offset="0.08678" stop-color="#ff5000"/><stop offset="0.09976" stop-color="#ffa000"/><stop offset="0.1104" stop-color="#feee00"/><stop offset="0.1116" stop-color="#f6f701"/><stop offset="0.1128" stop-color="#eeff09"/><stop offset="0.134" stop-color="#61ff96"/><stop offset="0.1458" stop-color="#24ffd3"/><stop offset="0.1494" stop-color="#16ffe1"/><stop offset="0.1576" stop-color="#00e4f8"/><stop offset="0.1659" stop-color="#00daff"/><stop offset="0.1741" stop-color="#00e4f8"/><stop offset="0.1824" stop-color="#15ffe2"/><stop offset="0.193" stop-color="#44ffb3"/><stop offset="0.2096" stop-color="#a5ff52"/><stop offset="0.2214" stop-color="#f1fc06"/><stop offset="0.2226" stop-color="#f8f400"/><stop offset="0.2237" stop-color="#ffeb00"/><stop offset="0.2391" stop-color="#ff8600"/><stop offset="0.2521" stop-color="#ff4300"/><stop offset="0.2651" stop-color="#fe1200"/><stop offset="0.2721" stop-color="#e70000"/><stop offset="0.2875" stop-color="#c40000"/><stop offset="0.3111" stop-color="#a80000"/><stop offset="0.3548" stop-color="#8e0000"/><stop offset="0.4126" stop-color="#830000"/><stop offset="0.8849" stop-color="#800000"/><stop offset="0.9994" stop-color="#800000"/></linearGradient><linearGradient id="r117" gradientUnits="userSpaceOnUse" x1="83" x2="930" y1="0" y2="0"><stop offset="0.0005903" stop-color="#860000"/><stop offset="0.03129" stop-color="#950000"/><stop offset="0.049" stop-color="#ad0000"/><stop offset="0.06316" stop-color="#d10000"/><stop offset="0.07025" stop-color="#eb0300"/><stop offset="0.07497" stop-color="#ff1400"/><stop offset="0.08796" stop-color="#ff5000"/><stop offset="0.1021" stop-color="#ffa600"/><stop offset="0.1116" stop-color="#ffe900"/><stop offset="0.1139" stop-color="#f2fb05"/><stop offset="0.1163" stop-color="#e3ff14"/><stop offset="0.1352" stop-color="#6eff89"/><stop offset="0.147" stop-color="#36ffc1"/><stop offset="0.1564" stop-color="#1affdc"/><stop offset="0.1659" stop-color="#12fbe5"/><stop offset="0.1753" stop-color="#1cffdb"/><stop offset="0.186" stop-color="#3dffba"/><stop offset="0.1989" stop-color="#7cff7b"/><stop offset="0.2178" stop-color="#edff0a"/><stop offset="0.2202" stop-color="#fcf000"/><stop offset="0.2249" stop-color="#ffd000"/><stop offset="0.2403" stop-color="#ff7100"/><stop offset="0.2532" stop-color="#ff3400"/><stop offset="0.2627" stop-color="#ff1300"/><stop offset="0.2698" stop-color="#e70000"/><stop offset="0.2851" stop-color="#c30000"/><stop offset="0.3087" stop-color="#a60000"/><stop offset="0.3524" stop-color="#8d0000"/><stop offset="0.4126" stop-color="#830000"/><stop offset="0.8849" stop-color="#800000"/><stop offset="0.9994" stop-color="#800000"/></linearGradient><linearGradient id="r118" gradientUnits="userSpaceOnUse" x1="83" x2="930" y1="0" y2="0"><stop offset="0.0005903" stop-color="#860000"/><stop offset="0.03129" stop-color="#940000"/><stop offset="0.05018" stop-color="#ad0000"/><stop offset="0.06434" stop-color="#d20000"/><stop offset="0.07025" stop-color="#e70000"/><stop offset="0.07615" stop-color="#ff1400"/><stop offset="0.08914" stop-color="#ff4f00"/><stop offset="0.1033" stop-color="#ffa300"/><stop offset="0.1139" stop-color="#ffec00"/><stop offset="0.1151" stop-color="#f8f400"/><stop offset="0.1163" stop-color="#f0fd06"/><stop offset="0.1352" stop-color="#81ff75"/><stop offset="0.147" stop-color="#4dffaa"/><stop offset="0.1564" stop-color="#34ffc3"/><stop offset="0.1659" stop-color="#2cffcb"/><stop offset="0.1753" stop-color="#37ffc0"/><stop offset="0.186" stop-color="#57ffa0"/><stop offset="0.1989" stop-color="#94ff63"/><stop offset="0.2143" stop-color="#ebff0c"/><stop offset="0.2166" stop-color="#f9f300"/><stop offset="0.2178" stop-color="#ffeb00"/><stop offset="0.2355" stop-color="#ff7e00"/><stop offset="0.2497" stop-color="#ff3900"/><stop offset="0.2603" stop-color="#ff1300"/><stop offset="0.2674" stop-color="#e70000"/><stop offset="0.2828" stop-color="#c30000"/><stop offset="0.3052" stop-color="#a60000"/><stop offset="0.3465" stop-color="#8e0000"/><stop offset="0.4055" stop-color="#830000"/><stop offset="0.8778" stop-color="#800000"/><stop offset="0.9994" stop-color="#800000"/></linearGradient><linearGradient id="r119" gradientUnits="userSpaceOnUse" x1="83" x2="930" y1="0" y2="0"><stop offset="0.0005903" stop-color="#850000"/><stop offset="0.03247" stop-color="#940000"/><stop offset="0.05136" stop-color="#ae0000"/><stop offset="0.06553" stop-color="#d20000"/><stop offset="0.07143" stop-color="#e70000"/><stop offset="0.07733" stop-color="#ff1400"/><stop offset="0.0915" stop-color="#ff5400"/><stop offset="0.1068" stop-color="#ffae00"/><stop offset="0.1163" stop-color="#feed00"/><stop offset="0.1175" stop-color="#f7f500"/><stop offset="0.1187" stop-color="#f0fd06"/><stop offset="0.1364" stop-color="#90ff67"/><stop offset="0.1482" stop-color="#61ff96"/><stop offset="0.1588" stop-color="#4affad"/><stop offset="0.1682" stop-color="#48ffaf"/><stop offset="0.1789" stop-color="#5aff9d"/><stop offset="0.1907" stop-color="#84ff73"/><stop offset="0.2072" stop-color="#d7ff20"/><stop offset="0.2119" stop-color="#f1fc06"/><stop offset="0.2131" stop-color="#f7f500"/><stop offset="0.2143" stop-color="#feed00"/><stop offset="0.2332" stop-color="#ff7c00"/><stop offset="0.2473" stop-color="#ff3800"/><stop offset="0.258" stop-color="#fe1200"/><stop offset="0.2651" stop-color="#e60000"/><stop offset="0.2804" stop-color="#c20000"/><stop offset="0.3028" stop-color="#a50000"/><stop offset="0.3442" stop-color="#8d0000"/><stop offset="0.4055" stop-color="#820000"/><stop offset="0.8778" stop-color="#800000"/><stop offset="0.9994" stop-color="#800000"/></linearGradient><linearGradient id="r120" gradientUnits="userSpaceOnUse" x1="83" x2="930" y1="0" y2="0"><stop offset="0.0005903" stop-color="#850000"/><stop offset="0.03247" stop-color="#930000"/><stop offset="0.05136" stop-color="#ab0000"/><stop offset="0.06553" stop-color="#ce0000"/><stop offset="0.07379" stop-color="#ec0300"/><stop offset="0.07851" stop-color="#ff1400"/><stop offset="0.09268" stop-color="#ff5200"/><stop offset="0.1092" stop-color="#ffb000"/><stop offset="0.1187" stop-color="#ffec00"/><stop offset="0.121" stop-color="#f2fb05"/><stop offset="0.1234" stop-color="#e5ff11"/><stop offset="0.1387" stop-color="#9aff5d"/><stop offset="0.1505" stop-color="#72ff85"/><stop offset="0.1612" stop-color="#62ff95"/><stop offset="0.1718" stop-color="#66ff90"/><stop offset="0.1824" stop-color="#7eff78"/><stop offset="0.1954" stop-color="#b1ff46"/><stop offset="0.2072" stop-color="#ebff0b"/><stop offset="0.2096" stop-color="#f8f400"/><stop offset="0.2119" stop-color="#ffe600"/><stop offset="0.232" stop-color="#ff7400"/><stop offset="0.2473" stop-color="#ff2e00"/><stop offset="0.2556" stop-color="#fe1200"/><stop offset="0.2627" stop-color="#e60000"/><stop offset="0.278" stop-color="#c10000"/><stop offset="0.3005" stop-color="#a40000"/><stop offset="0.3406" stop-color="#8d0000"/><stop offset="0.4032" stop-color="#820000"/><stop offset="0.8754" stop-color="#800000"/><stop offset="0.9994" stop-color="#800000"/></linearGradient><linearGradient id="r121" gradientUnits="userSpaceOnUse" x1="83" x2="930" y1="0" y2="0"><stop offset="0.0005903" stop-color="#850000"/><stop offset="0.03247" stop-color="#920000"/><stop offset="0.05136" stop-color="#a90000"/><stop offset="0.06671" stop-color="#ce0000"/><stop offset="0.07497" stop-color="#eb0300"/><stop offset="0.07969" stop-color="#ff1300"/><stop offset="0.09386" stop-color="#ff5000"/><stop offset="0.1128" stop-color="#ffb800"/><stop offset="0.121" stop-color="#ffe900"/><stop offset="0.1234" stop-color="#f6f701"/><stop offset="0.1246" stop-color="#f0fe07"/><stop offset="0.1399" stop-color="#abff4c"/><stop offset="0.1517" stop-color="#88ff6f"/><stop offset="0.1623" stop-color="#7bff7c"/><stop offset="0.173" stop-color="#82ff74"/><stop offset="0.1848" stop-color="#9fff57"/><stop offset="0.1989" stop-color="#d8ff1f"/><stop offset="0.2037" stop-color="#eeff08"/><stop offset="0.206" stop-color="#faf200"/><stop offset="0.2084" stop-color="#ffe500"/><stop offset="0.2308" stop-color="#ff6b00"/><stop offset="0.2462" stop-color="#ff2900"/><stop offset="0.2532" stop-color="#fd1100"/><stop offset="0.2603" stop-color="#e50000"/><stop offset="0.2757" stop-color="#c00000"/><stop offset="0.2969" stop-color="#a40000"/><stop offset="0.3359" stop-color="#8d0000"/><stop offset="0.3985" stop-color="#820000"/><stop offset="0.8707" stop-color="#800000"/><stop offset="0.9994" stop-color="#800000"/></linearGradient><linearGradient id="r122" gradientUnits="userSpaceOnUse" x1="83" x2="930" y1="0" y2="0"><stop offset="0.0005903" stop-color="#850000"/><stop offset="0.03365" stop-color="#920000"/><stop offset="0.05254" stop-color="#a90000"/><stop offset="0.06789" stop-color="#cd0000"/><stop offset="0.07615" stop-color="#ea0200"/><stop offset="0.08205" stop-color="#ff1600"/><stop offset="0.0974" stop-color="#ff5800"/><stop offset="0.1246" stop-color="#ffeb00"/><stop offset="0.1269" stop-color="#f5f702"/><stop offset="0.1293" stop-color="#eaff0c"/><stop offset="0.1434" stop-color="#b4ff43"/><stop offset="0.1553" stop-color="#9aff5d"/><stop offset="0.1659" stop-color="#95ff62"/><stop offset="0.1765" stop-color="#a2ff54"/><stop offset="0.1895" stop-color="#c8ff2f"/><stop offset="0.1989" stop-color="#eeff09"/><stop offset="0.2013" stop-color="#f8f400"/><stop offset="0.2037" stop-color="#ffe800"/><stop offset="0.2308" stop-color="#ff5d00"/><stop offset="0.2462" stop-color="#ff2000"/><stop offset="0.2509" stop-color="#fc1100"/><stop offset="0.2568" stop-color="#e80000"/><stop offset="0.2721" stop-color="#c20000"/><stop offset="0.2934" stop-color="#a40000"/><stop offset="0.33" stop-color="#8e0000"/><stop offset="0.3914" stop-color="#820000"/><stop offset="0.8636" stop-color="#800000"/><stop offset="0.9994" stop-color="#800000"/></linearGradient><linearGradient id="r123" gradientUnits="userSpaceOnUse" x1="83" x2="930" y1="0" y2="0"><stop offset="0.0005903" stop-color="#840000"/><stop offset="0.03365" stop-color="#910000"/><stop offset="0.05372" stop-color="#a90000"/><stop offset="0.06907" stop-color="#cd0000"/><stop offset="0.07733" stop-color="#e90100"/><stop offset="0.08323" stop-color="#ff1400"/><stop offset="0.09976" stop-color="#ff5900"/><stop offset="0.1293" stop-color="#fcef00"/><stop offset="0.1316" stop-color="#f3fa04"/><stop offset="0.134" stop-color="#eaff0d"/><stop offset="0.147" stop-color="#c1ff36"/><stop offset="0.1588" stop-color="#afff48"/><stop offset="0.1694" stop-color="#b1ff46"/><stop offset="0.1812" stop-color="#c6ff31"/><stop offset="0.1942" stop-color="#f0fd06"/><stop offset="0.1978" stop-color="#feed00"/><stop offset="0.2308" stop-color="#ff4f00"/><stop offset="0.2473" stop-color="#ff1300"/><stop offset="0.2544" stop-color="#e70000"/><stop offset="0.271" stop-color="#bf0000"/><stop offset="0.2922" stop-color="#a20000"/><stop offset="0.3288" stop-color="#8d0000"/><stop offset="0.3926" stop-color="#820000"/><stop offset="0.8648" stop-color="#800000"/><stop offset="0.9994" stop-color="#800000"/></linearGradient><linearGradient id="r124" gradientUnits="userSpaceOnUse" x1="83" x2="930" y1="0" y2="0"><stop offset="0.0005903" stop-color="#840000"/><stop offset="0.03483" stop-color="#910000"/><stop offset="0.0549" stop-color="#a90000"/><stop offset="0.07025" stop-color="#cc0000"/><stop offset="0.07969" stop-color="#eb0300"/><stop offset="0.08442" stop-color="#fe1200"/><stop offset="0.1021" stop-color="#ff5a00"/><stop offset="0.1328" stop-color="#ffea00"/><stop offset="0.1364" stop-color="#f4f802"/><stop offset="0.1399" stop-color="#e9ff0d"/><stop offset="0.1529" stop-color="#cdff2a"/><stop offset="0.1647" stop-color="#c6ff31"/><stop offset="0.1765" stop-color="#d4ff23"/><stop offset="0.1871" stop-color="#eeff09"/><stop offset="0.1907" stop-color="#f9f200"/><stop offset="0.1942" stop-color="#ffe400"/><stop offset="0.2308" stop-color="#ff4200"/><stop offset="0.245" stop-color="#fd1200"/><stop offset="0.2521" stop-color="#e60000"/><stop offset="0.2686" stop-color="#be0000"/><stop offset="0.2898" stop-color="#a10000"/><stop offset="0.3264" stop-color="#8c0000"/><stop offset="0.3926" stop-color="#810000"/><stop offset="0.8648" stop-color="#800000"/><stop offset="0.9994" stop-color="#800000"/></linearGradient><linearGradient id="r125" gradientUnits="userSpaceOnUse" x1="83" x2="930" y1="0" y2="0"><stop offset="0.0005903" stop-color="#840000"/><stop offset="0.03601" stop-color="#910000"/><stop offset="0.05608" stop-color="#a80000"/><stop offset="0.07261" stop-color="#ce0000"/><stop offset="0.08087" stop-color="#e90100"/><stop offset="0.08678" stop-color="#ff1400"/><stop offset="0.1057" stop-color="#ff5f00"/><stop offset="0.1328" stop-color="#ffd500"/><stop offset="0.1399" stop-color="#fdee00"/><stop offset="0.1446" stop-color="#f2fb05"/><stop offset="0.1529" stop-color="#e3ff13"/><stop offset="0.1647" stop-color="#deff19"/><stop offset="0.1765" stop-color="#ebff0c"/><stop offset="0.1812" stop-color="#f5f802"/><stop offset="0.186" stop-color="#ffea00"/><stop offset="0.2037" stop-color="#ffa600"/><stop offset="0.2308" stop-color="#ff3600"/><stop offset="0.2414" stop-color="#ff1300"/><stop offset="0.2485" stop-color="#e80000"/><stop offset="0.2651" stop-color="#bf0000"/><stop offset="0.2863" stop-color="#a20000"/><stop offset="0.3217" stop-color="#8c0000"/><stop offset="0.3867" stop-color="#810000"/><stop offset="0.8589" stop-color="#800000"/><stop offset="0.9994" stop-color="#800000"/></linearGradient><linearGradient id="r126" gradientUnits="userSpaceOnUse" x1="83" x2="930" y1="0" y2="0"><stop offset="0.0005903" stop-color="#840000"/><stop offset="0.03601" stop-color="#900000"/><stop offset="0.05726" stop-color="#a80000"/><stop offset="0.07379" stop-color="#cd0000"/><stop offset="0.08323" stop-color="#eb0300"/><stop offset="0.08914" stop-color="#ff1500"/><stop offset="0.1104" stop-color="#ff6700"/><stop offset="0.134" stop-color="#ffc500"/><stop offset="0.147" stop-color="#ffe900"/><stop offset="0.1588" stop-color="#f5f802"/><stop offset="0.1706" stop-color="#f9f300"/><stop offset="0.1789" stop-color="#ffe400"/><stop offset="0.1942" stop-color="#ffb600"/><stop offset="0.2308" stop-color="#ff2b00"/><stop offset="0.2391" stop-color="#fd1100"/><stop offset="0.2462" stop-color="#e60000"/><stop offset="0.2627" stop-color="#be0000"/><stop offset="0.2839" stop-color="#a10000"/><stop offset="0.3182" stop-color="#8c0000"/><stop offset="0.3843" stop-color="#810000"/><stop offset="0.8566" stop-color="#800000"/><stop offset="0.9994" stop-color="#800000"/></linearGradient><linearGradient id="r127" gradientUnits="userSpaceOnUse" x1="83" x2="930" y1="0" y2="0"><stop offset="0.0005903" stop-color="#830000"/><stop offset="0.03719" stop-color="#8f0000"/><stop offset="0.05844" stop-color="#a70000"/><stop offset="0.07497" stop-color="#cb0000"/><stop offset="0.08442" stop-color="#e80000"/><stop offset="0.09032" stop-color="#fe1200"/><stop offset="0.1151" stop-color="#ff6d00"/><stop offset="0.1352" stop-color="#ffb500"/><stop offset="0.1482" stop-color="#ffd400"/><stop offset="0.16" stop-color="#ffdf00"/><stop offset="0.1718" stop-color="#ffd800"/><stop offset="0.186" stop-color="#ffba00"/><stop offset="0.2072" stop-color="#ff7200"/><stop offset="0.232" stop-color="#ff1c00"/><stop offset="0.2355" stop-color="#fe1200"/><stop offset="0.2426" stop-color="#e70000"/><stop offset="0.2603" stop-color="#bd0000"/><stop offset="0.2816" stop-color="#a00000"/><stop offset="0.3158" stop-color="#8c0000"/><stop offset="0.3831" stop-color="#810000"/><stop offset="0.8554" stop-color="#800000"/><stop offset="0.9994" stop-color="#800000"/></linearGradient><linearGradient id="r128" gradientUnits="userSpaceOnUse" x1="83" x2="930" y1="0" y2="0"><stop offset="0.0005903" stop-color="#830000"/><stop offset="0.03719" stop-color="#8e0000"/><stop offset="0.05844" stop-color="#a40000"/><stop offset="0.07615" stop-color="#c90000"/><stop offset="0.08678" stop-color="#e90100"/><stop offset="0.09268" stop-color="#fe1200"/><stop offset="0.134" stop-color="#ff9e00"/><stop offset="0.1482" stop-color="#ffbd00"/><stop offset="0.1612" stop-color="#ffc700"/><stop offset="0.1741" stop-color="#ffbd00"/><stop offset="0.1895" stop-color="#ff9a00"/><stop offset="0.232" stop-color="#fe1200"/><stop offset="0.2403" stop-color="#e50000"/><stop offset="0.258" stop-color="#bb0000"/><stop offset="0.2804" stop-color="#9e0000"/><stop offset="0.3158" stop-color="#8a0000"/><stop offset="0.3878" stop-color="#810000"/><stop offset="0.8601" stop-color="#800000"/><stop offset="0.9994" stop-color="#800000"/></linearGradient><linearGradient id="r129" gradientUnits="userSpaceOnUse" x1="83" x2="930" y1="0" y2="0"><stop offset="0.0005903" stop-color="#830000"/><stop offset="0.03837" stop-color="#8e0000"/><stop offset="0.0608" stop-color="#a50000"/><stop offset="0.07851" stop-color="#ca0000"/><stop offset="0.08914" stop-color="#e90100"/><stop offset="0.09622" stop-color="#ff1500"/><stop offset="0.134" stop-color="#ff8b00"/><stop offset="0.1482" stop-color="#ffa800"/><stop offset="0.1612" stop-color="#ffb000"/><stop offset="0.1741" stop-color="#ffa600"/><stop offset="0.1895" stop-color="#ff8600"/><stop offset="0.2285" stop-color="#fe1200"/><stop offset="0.2367" stop-color="#e50000"/><stop offset="0.2556" stop-color="#ba0000"/><stop offset="0.278" stop-color="#9d0000"/><stop offset="0.3135" stop-color="#8a0000"/><stop offset="0.3878" stop-color="#810000"/><stop offset="0.8601" stop-color="#800000"/><stop offset="0.9994" stop-color="#800000"/></linearGradient><linearGradient id="r130" gradientUnits="userSpaceOnUse" x1="83" x2="930" y1="0" y2="0"><stop offset="0.0005903" stop-color="#820000"/><stop offset="0.03955" stop-color="#8e0000"/><stop offset="0.06198" stop-color="#a40000"/><stop offset="0.08087" stop-color="#cb0000"/><stop offset="0.0915" stop-color="#e90100"/><stop offset="0.09858" stop-color="#ff1400"/><stop offset="0.134" stop-color="#ff7900"/><stop offset="0.1494" stop-color="#ff9500"/><stop offset="0.1635" stop-color="#ff9a00"/><stop offset="0.1777" stop-color="#ff8c00"/><stop offset="0.1966" stop-color="#ff6100"/><stop offset="0.2249" stop-color="#fd1200"/><stop offset="0.2332" stop-color="#e50000"/><stop offset="0.2532" stop-color="#b90000"/><stop offset="0.2757" stop-color="#9c0000"/><stop offset="0.3111" stop-color="#8a0000"/><stop offset="0.3878" stop-color="#800000"/><stop offset="0.8601" stop-color="#800000"/><stop offset="0.9994" stop-color="#800000"/></linearGradient><linearGradient id="r131" gradientUnits="userSpaceOnUse" x1="83" x2="930" y1="0" y2="0"><stop offset="0.0005903" stop-color="#820000"/><stop offset="0.04073" stop-color="#8d0000"/><stop offset="0.06316" stop-color="#a30000"/><stop offset="0.08205" stop-color="#c80000"/><stop offset="0.09386" stop-color="#e80000"/><stop offset="0.1021" stop-color="#ff1500"/><stop offset="0.134" stop-color="#ff6900"/><stop offset="0.1494" stop-color="#ff8100"/><stop offset="0.1635" stop-color="#ff8500"/><stop offset="0.1789" stop-color="#ff7600"/><stop offset="0.2001" stop-color="#ff4700"/><stop offset="0.2202" stop-color="#ff1300"/><stop offset="0.2296" stop-color="#e50000"/><stop offset="0.2497" stop-color="#b90000"/><stop offset="0.2733" stop-color="#9b0000"/><stop offset="0.3099" stop-color="#890000"/><stop offset="0.3914" stop-color="#800000"/><stop offset="0.8636" stop-color="#800000"/><stop offset="0.9994" stop-color="#800000"/></linearGradient><linearGradient id="r132" gradientUnits="userSpaceOnUse" x1="83" x2="930" y1="0" y2="0"><stop offset="0.0005903" stop-color="#820000"/><stop offset="0.04073" stop-color="#8c0000"/><stop offset="0.06434" stop-color="#a20000"/><stop offset="0.08442" stop-color="#c80000"/><stop offset="0.0974" stop-color="#ea0100"/><stop offset="0.1057" stop-color="#ff1500"/><stop offset="0.1352" stop-color="#ff5b00"/><stop offset="0.1517" stop-color="#ff7000"/><stop offset="0.1671" stop-color="#ff7000"/><stop offset="0.1836" stop-color="#ff5c00"/><stop offset="0.2166" stop-color="#fd1100"/><stop offset="0.2249" stop-color="#e70000"/><stop offset="0.2462" stop-color="#b90000"/><stop offset="0.2698" stop-color="#9c0000"/><stop offset="0.3052" stop-color="#890000"/><stop offset="0.3843" stop-color="#800000"/><stop offset="0.8566" stop-color="#800000"/><stop offset="0.9994" stop-color="#800000"/></linearGradient><linearGradient id="r133" gradientUnits="userSpaceOnUse" x1="83" x2="930" y1="0" y2="0"><stop offset="0.0005903" stop-color="#820000"/><stop offset="0.04191" stop-color="#8c0000"/><stop offset="0.06671" stop-color="#a30000"/><stop offset="0.08796" stop-color="#ca0000"/><stop offset="0.1009" stop-color="#ea0200"/><stop offset="0.1092" stop-color="#ff1500"/><stop offset="0.1364" stop-color="#ff4d00"/><stop offset="0.1529" stop-color="#ff5f00"/><stop offset="0.1682" stop-color="#ff5d00"/><stop offset="0.186" stop-color="#ff4700"/><stop offset="0.2119" stop-color="#fd1100"/><stop offset="0.2214" stop-color="#e50000"/><stop offset="0.245" stop-color="#b50000"/><stop offset="0.2698" stop-color="#990000"/><stop offset="0.3087" stop-color="#870000"/><stop offset="0.4032" stop-color="#800000"/><stop offset="0.8754" stop-color="#800000"/><stop offset="0.9994" stop-color="#800000"/></linearGradient><linearGradient id="r134" gradientUnits="userSpaceOnUse" x1="83" x2="930" y1="0" y2="0"><stop offset="0.0005903" stop-color="#820000"/><stop offset="0.04309" stop-color="#8b0000"/><stop offset="0.06789" stop-color="#a10000"/><stop offset="0.09032" stop-color="#c90000"/><stop offset="0.1045" stop-color="#ea0200"/><stop offset="0.1128" stop-color="#ff1300"/><stop offset="0.1387" stop-color="#ff4200"/><stop offset="0.1564" stop-color="#ff4f00"/><stop offset="0.173" stop-color="#ff4900"/><stop offset="0.1942" stop-color="#ff2900"/><stop offset="0.206" stop-color="#ff1300"/><stop offset="0.2166" stop-color="#e50000"/><stop offset="0.2414" stop-color="#b50000"/><stop offset="0.2674" stop-color="#980000"/><stop offset="0.3064" stop-color="#870000"/><stop offset="0.4055" stop-color="#800000"/><stop offset="0.8778" stop-color="#800000"/><stop offset="0.9994" stop-color="#800000"/></linearGradient><linearGradient id="r135" gradientUnits="userSpaceOnUse" x1="83" x2="930" y1="0" y2="0"><stop offset="0.0005903" stop-color="#810000"/><stop offset="0.04427" stop-color="#8b0000"/><stop offset="0.07025" stop-color="#a20000"/><stop offset="0.09386" stop-color="#c90000"/><stop offset="0.108" stop-color="#e90100"/><stop offset="0.1187" stop-color="#ff1500"/><stop offset="0.1423" stop-color="#ff3800"/><stop offset="0.16" stop-color="#ff4000"/><stop offset="0.1789" stop-color="#ff3300"/><stop offset="0.2001" stop-color="#ff1300"/><stop offset="0.2119" stop-color="#e50000"/><stop offset="0.2391" stop-color="#b30000"/><stop offset="0.2662" stop-color="#960000"/><stop offset="0.3076" stop-color="#860000"/><stop offset="0.4233" stop-color="#800000"/><stop offset="0.8955" stop-color="#800000"/><stop offset="0.9994" stop-color="#800000"/></linearGradient><linearGradient id="r136" gradientUnits="userSpaceOnUse" x1="83" x2="930" y1="0" y2="0"><stop offset="0.0005903" stop-color="#810000"/><stop offset="0.04545" stop-color="#8b0000"/><stop offset="0.07261" stop-color="#a10000"/><stop offset="0.09858" stop-color="#cc0000"/><stop offset="0.1128" stop-color="#e90100"/><stop offset="0.1246" stop-color="#ff1400"/><stop offset="0.147" stop-color="#ff2e00"/><stop offset="0.1659" stop-color="#ff2f00"/><stop offset="0.1871" stop-color="#ff1b00"/><stop offset="0.1942" stop-color="#fd1100"/><stop offset="0.206" stop-color="#e60000"/><stop offset="0.2367" stop-color="#b10000"/><stop offset="0.2651" stop-color="#950000"/><stop offset="0.3087" stop-color="#850000"/><stop offset="0.4516" stop-color="#800000"/><stop offset="0.9238" stop-color="#800000"/><stop offset="0.9994" stop-color="#800000"/></linearGradient><linearGradient id="r137" gradientUnits="userSpaceOnUse" x1="83" x2="930" y1="0" y2="0"><stop offset="0.0005903" stop-color="#810000"/><stop offset="0.04664" stop-color="#8a0000"/><stop offset="0.07497" stop-color="#a10000"/><stop offset="0.1045" stop-color="#d00000"/><stop offset="0.1187" stop-color="#ea0200"/><stop offset="0.1328" stop-color="#ff1500"/><stop offset="0.1541" stop-color="#ff2300"/><stop offset="0.1741" stop-color="#ff1d00"/><stop offset="0.186" stop-color="#fc1100"/><stop offset="0.2001" stop-color="#e50000"/><stop offset="0.2355" stop-color="#ad0000"/><stop offset="0.2651" stop-color="#920000"/><stop offset="0.3123" stop-color="#840000"/><stop offset="0.5378" stop-color="#800000"/><stop offset="0.9994" stop-color="#800000"/></linearGradient><linearGradient id="r138" gradientUnits="userSpaceOnUse" x1="83" x2="930" y1="0" y2="0"><stop offset="0.0005903" stop-color="#810000"/><stop offset="0.049" stop-color="#8a0000"/><stop offset="0.07733" stop-color="#a10000"/><stop offset="0.1128" stop-color="#d60000"/><stop offset="0.1257" stop-color="#eb0200"/><stop offset="0.1446" stop-color="#ff1300"/><stop offset="0.1659" stop-color="#ff1500"/><stop offset="0.1777" stop-color="#f90e00"/><stop offset="0.1942" stop-color="#e30000"/><stop offset="0.2355" stop-color="#a80000"/><stop offset="0.2674" stop-color="#8f0000"/><stop offset="0.3217" stop-color="#820000"/><stop offset="0.794" stop-color="#800000"/><stop offset="0.9994" stop-color="#800000"/></linearGradient><linearGradient id="r139" gradientUnits="userSpaceOnUse" x1="83" x2="930" y1="0" y2="0"><stop offset="0.0005903" stop-color="#810000"/><stop offset="0.05018" stop-color="#8a0000"/><stop offset="0.08087" stop-color="#a10000"/><stop offset="0.1352" stop-color="#eb0200"/><stop offset="0.1553" stop-color="#f60c00"/><stop offset="0.1753" stop-color="#ee0500"/><stop offset="0.1895" stop-color="#df0000"/><stop offset="0.2367" stop-color="#a20000"/><stop offset="0.271" stop-color="#8c0000"/><stop offset="0.3359" stop-color="#810000"/><stop offset="0.8081" stop-color="#800000"/><stop offset="0.9994" stop-color="#800000"/></linearGradient><linearGradient id="r140" gradientUnits="userSpaceOnUse" x1="83" x2="930" y1="0" y2="0"><stop offset="0.0005903" stop-color="#810000"/><stop offset="0.05136" stop-color="#890000"/><stop offset="0.08323" stop-color="#a10000"/><stop offset="0.1375" stop-color="#e10000"/><stop offset="0.1588" stop-color="#e90100"/><stop offset="0.1812" stop-color="#dd0000"/><stop offset="0.2391" stop-color="#9c0000"/><stop offset="0.2769" stop-color="#890000"/><stop offset="0.3607" stop-color="#800000"/><stop offset="0.8329" stop-color="#800000"/><stop offset="0.9994" stop-color="#800000"/></linearGradient><linearGradient id="r141" gradientUnits="userSpaceOnUse" x1="83" x2="930" y1="0" y2="0"><stop offset="0.0005903" stop-color="#800000"/><stop offset="0.05372" stop-color="#890000"/><stop offset="0.08678" stop-color="#a10000"/><stop offset="0.1375" stop-color="#d70000"/><stop offset="0.16" stop-color="#dd0000"/><stop offset="0.1848" stop-color="#cf0000"/><stop offset="0.2391" stop-color="#990000"/><stop offset="0.2804" stop-color="#870000"/><stop offset="0.3843" stop-color="#800000"/><stop offset="0.8566" stop-color="#800000"/><stop offset="0.9994" stop-color="#800000"/></linearGradient><linearGradient id="r142" gradientUnits="userSpaceOnUse" x1="83" x2="930" y1="0" y2="0"><stop offset="0.0005903" stop-color="#800000"/><stop offset="0.0549" stop-color="#890000"/><stop offset="0.09032" stop-color="#a00000"/><stop offset="0.1387" stop-color="#ce0000"/><stop offset="0.1623" stop-color="#d20000"/><stop offset="0.1907" stop-color="#c00000"/><stop offset="0.2414" stop-color="#940000"/><stop offset="0.2875" stop-color="#850000"/><stop offset="0.4469" stop-color="#800000"/><stop offset="0.9191" stop-color="#800000"/><stop offset="0.9994" stop-color="#800000"/></linearGradient><linearGradient id="r143" gradientUnits="userSpaceOnUse" x1="83" x2="930" y1="0" y2="0"><stop offset="0.0005903" stop-color="#800000"/><stop offset="0.05726" stop-color="#890000"/><stop offset="0.09622" stop-color="#a20000"/><stop offset="0.1399" stop-color="#c50000"/><stop offset="0.1659" stop-color="#c80000"/><stop offset="0.2013" stop-color="#b00000"/><stop offset="0.2462" stop-color="#900000"/><stop offset="0.3005" stop-color="#820000"/><stop offset="0.7727" stop-color="#800000"/><stop offset="0.9994" stop-color="#800000"/></linearGradient><linearGradient id="r144" gradientUnits="userSpaceOnUse" x1="83" x2="930" y1="0" y2="0"><stop offset="0.0005903" stop-color="#800000"/><stop offset="0.05962" stop-color="#890000"/><stop offset="0.1021" stop-color="#a30000"/><stop offset="0.1423" stop-color="#be0000"/><stop offset="0.1694" stop-color="#be0000"/><stop offset="0.2485" stop-color="#8d0000"/><stop offset="0.3123" stop-color="#810000"/><stop offset="0.7845" stop-color="#800000"/><stop offset="0.9994" stop-color="#800000"/></linearGradient><linearGradient id="r145" gradientUnits="userSpaceOnUse" x1="83" x2="930" y1="0" y2="0"><stop offset="0.0005903" stop-color="#800000"/><stop offset="0.06198" stop-color="#880000"/><stop offset="0.1116" stop-color="#a60000"/><stop offset="0.147" stop-color="#b80000"/><stop offset="0.1765" stop-color="#b30000"/><stop offset="0.2473" stop-color="#8b0000"/><stop offset="0.3158" stop-color="#810000"/><stop offset="0.7881" stop-color="#800000"/><stop offset="0.9994" stop-color="#800000"/></linearGradient><linearGradient id="r146" gradientUnits="userSpaceOnUse" x1="83" x2="930" y1="0" y2="0"><stop offset="0.0005903" stop-color="#800000"/><stop offset="0.06434" stop-color="#880000"/><stop offset="0.1446" stop-color="#b10000"/><stop offset="0.1765" stop-color="#ad0000"/><stop offset="0.2497" stop-color="#890000"/><stop offset="0.3312" stop-color="#800000"/><stop offset="0.8034" stop-color="#800000"/><stop offset="0.9994" stop-color="#800000"/></linearGradient><linearGradient id="r147" gradientUnits="userSpaceOnUse" x1="83" x2="930" y1="0" y2="0"><stop offset="0.0005903" stop-color="#800000"/><stop offset="0.06671" stop-color="#880000"/><stop offset="0.1458" stop-color="#ab0000"/><stop offset="0.1812" stop-color="#a50000"/><stop offset="0.2521" stop-color="#870000"/><stop offset="0.3512" stop-color="#800000"/><stop offset="0.8235" stop-color="#800000"/><stop offset="0.9994" stop-color="#800000"/></linearGradient><linearGradient id="r148" gradientUnits="userSpaceOnUse" x1="83" x2="930" y1="0" y2="0"><stop offset="0.0005903" stop-color="#800000"/><stop offset="0.07025" stop-color="#880000"/><stop offset="0.147" stop-color="#a50000"/><stop offset="0.186" stop-color="#9e0000"/><stop offset="0.2556" stop-color="#860000"/><stop offset="0.3843" stop-color="#800000"/><stop offset="0.8566" stop-color="#800000"/><stop offset="0.9994" stop-color="#800000"/></linearGradient><linearGradient id="r149" gradientUnits="userSpaceOnUse" x1="83" x2="930" y1="0" y2="0"><stop offset="0.0005903" stop-color="#800000"/><stop offset="0.07379" stop-color="#880000"/><stop offset="0.1482" stop-color="#a10000"/><stop offset="0.1919" stop-color="#980000"/><stop offset="0.2615" stop-color="#840000"/><stop offset="0.4669" stop-color="#800000"/><stop offset="0.9392" stop-color="#800000"/><stop offset="0.9994" stop-color="#800000"/></linearGradient><linearGradient id="r150" gradientUnits="userSpaceOnUse" x1="83" x2="930" y1="0" y2="0"><stop offset="0.0005903" stop-color="#800000"/><stop offset="0.07615" stop-color="#880000"/><stop offset="0.1494" stop-color="#9c0000"/><stop offset="0.2001" stop-color="#920000"/><stop offset="0.2721" stop-color="#820000"/><stop offset="0.7444" stop-color="#800000"/><stop offset="0.9994" stop-color="#800000"/></linearGradient><linearGradient id="r151" gradientUnits="userSpaceOnUse" x1="83" x2="930" y1="0" y2="0"><stop offset="0.0005903" stop-color="#800000"/><stop offset="0.08087" stop-color="#880000"/><stop offset="0.1517" stop-color="#980000"/><stop offset="0.278" stop-color="#820000"/><stop offset="0.7503" stop-color="#800000"/><stop offset="0.9994" stop-color="#800000"/></linearGradient><linearGradient id="r152" gradientUnits="userSpaceOnUse" x1="83" x2="930" y1="0" y2="0"><stop offset="0.0005903" stop-color="#800000"/><stop offset="0.0856" stop-color="#880000"/><stop offset="0.1541" stop-color="#950000"/><stop offset="0.2816" stop-color="#810000"/><stop offset="0.7538" stop-color="#800000"/><stop offset="0.9994" stop-color="#800000"/></linearGradient><linearGradient id="r153" gradientUnits="userSpaceOnUse" x1="83" x2="930" y1="0" y2="0"><stop offset="0.0005903" stop-color="#800000"/><stop offset="0.09032" stop-color="#880000"/><stop offset="0.1588" stop-color="#920000"/><stop offset="0.2839" stop-color="#810000"/><stop offset="0.7562" stop-color="#800000"/><stop offset="0.9994" stop-color="#800000"/></linearGradient><linearGradient id="r154" gradientUnits="userSpaceOnUse" x1="83" x2="930" y1="0" y2="0"><stop offset="0.0005903" stop-color="#800000"/><stop offset="0.09622" stop-color="#880000"/><stop offset="0.1635" stop-color="#8f0000"/><stop offset="0.2898" stop-color="#800000"/><stop offset="0.7621" stop-color="#800000"/><stop offset="0.9994" stop-color="#800000"/></linearGradient><linearGradient id="r155" gradientUnits="userSpaceOnUse" x1="83" x2="930" y1="0" y2="0"><stop offset="0.0005903" stop-color="#800000"/><stop offset="0.1033" stop-color="#880000"/><stop offset="0.1706" stop-color="#8c0000"/><stop offset="0.2969" stop-color="#800000"/><stop offset="0.7692" stop-color="#800000"/><stop offset="0.9994" stop-color="#800000"/></linearGradient><linearGradient id="r156" gradientUnits="userSpaceOnUse" x1="83" x2="930" y1="0" y2="0"><stop offset="0.0005903" stop-color="#800000"/><stop offset="0.1139" stop-color="#880000"/><stop offset="0.1848" stop-color="#890000"/><stop offset="0.3158" stop-color="#800000"/><stop offset="0.7881" stop-color="#800000"/><stop offset="0.9994" stop-color="#800000"/></linearGradient><linearGradient id="r157" gradientUnits="userSpaceOnUse" x1="83" x2="930" y1="0" y2="0"><stop offset="0.0005903" stop-color="#800000"/><stop offset="0.1753" stop-color="#880000"/><stop offset="0.3253" stop-color="#800000"/><stop offset="0.7975" stop-color="#800000"/><stop offset="0.9994" stop-color="#800000"/></linearGradient><linearGradient id="r158" gradientUnits="userSpaceOnUse" x1="83" x2="930" y1="0" y2="0"><stop offset="0.0005903" stop-color="#800000"/><stop offset="0.1789" stop-color="#870000"/><stop offset="0.3489" stop-color="#800000"/><stop offset="0.8211" stop-color="#800000"/><stop offset="0.9994" stop-color="#800000"/></linearGradient><linearGradient id="r159" gradientUnits="userSpaceOnUse" x1="83" x2="930" y1="0" y2="0"><stop offset="0.0005903" stop-color="#800000"/><stop offset="0.1836" stop-color="#850000"/><stop offset="0.389" stop-color="#800000"/><stop offset="0.8613" stop-color="#800000"/><stop offset="0.9994" stop-color="#800000"/></linearGradient><linearGradient id="r160" gradientUnits="userSpaceOnUse" x1="83" x2="930" y1="0" y2="0"><stop offset="0.0005903" stop-color="#800000"/><stop offset="0.1895" stop-color="#840000"/><stop offset="0.4717" stop-color="#800000"/><stop offset="0.9439" stop-color="#800000"/><stop offset="0.9994" stop-color="#800000"/></linearGradient><linearGradient id="r161" gradientUnits="userSpaceOnUse" x1="83" x2="930" y1="0" y2="0"><stop offset="0.0005903" stop-color="#800000"/><stop offset="0.1978" stop-color="#830000"/><stop offset="0.67" stop-color="#800000"/><stop offset="0.9994" stop-color="#800000"/></linearGradient><linearGradient id="r162" gradientUnits="userSpaceOnUse" x1="83" x2="930" y1="0" y2="0"><stop offset="0.0005903" stop-color="#800000"/><stop offset="0.2072" stop-color="#820000"/><stop offset="0.6795" stop-color="#800000"/><stop offset="0.9994" stop-color="#800000"/></linearGradient><linearGradient id="r163" gradientUnits="userSpaceOnUse" x1="83" x2="930" y1="0" y2="0"><stop offset="0.0005903" stop-color="#800000"/><stop offset="0.2166" stop-color="#810000"/><stop offset="0.6889" stop-color="#800000"/><stop offset="0.9994" stop-color="#800000"/></linearGradient><linearGradient id="cb" x1="0" y1="0" x2="0" y2="1"><stop offset="0" stop-color="#800000"/><stop offset="0.09" stop-color="#e80000"/><stop offset="0.11" stop-color="#ff1300"/><stop offset="0.34" stop-color="#ffec00"/><stop offset="0.35" stop-color="#f7f600"/><stop offset="0.36" stop-color="#efff08"/><stop offset="0.625" stop-color="#15ffe2"/><stop offset="0.65" stop-color="#00e5f7"/><stop offset="0.66" stop-color="#00dbff"/><stop offset="0.875" stop-color="#0000ff"/><stop offset="0.89" stop-color="#0000ff"/><stop offset="1" stop-color="#000080"/></linearGradient></defs>
<g shape-rendering="crispEdges"><rect x="83" y="10" width="847" height="2" fill="url(#r0)"/><rect x="83" y="12" width="847" height="2" fill="url(#r1)"/><rect x="83" y="14" width="847" height="2" fill="url(#r2)"/><rect x="83" y="16" width="847" height="2" fill="url(#r3)"/><rect x="83" y="18" width="847" height="2" fill="url(#r4)"/><rect x="83" y="20" width="847" height="2" fill="url(#r5)"/><rect x="83" y="22" width="847" height="2" fill="url(#r6)"/><rect x="83" y="24" width="847" height="2" fill="url(#r7)"/><rect x="83" y="26" width="847" height="2" fill="url(#r8)"/><rect x="83" y="28" width="847" height="2" fill="url(#r9)"/><rect x="83" y="30" width="847" height="2" fill="url(#r10)"/><rect x="83" y="32" width="847" height="2" fill="url(#r11)"/><rect x="83" y="34" width="847" height="2" fill="url(#r12)"/><rect x="83" y="36" width="847" height="2" fill="url(#r13)"/><rect x="83" y="38" width="847" height="2" fill="url(#r14)"/><rect x="83" y="40" width="847" height="2" fill="url(#r15)"/><rect x="83" y="42" width="847" height="2" fill="url(#r16)"/><rect x="83" y="44" width="847" height="2" fill="url(#r17)"/><rect x="83" y="46" width="847" height="2" fill="url(#r18)"/><rect x="83" y="48" width="847" height="2" fill="url(#r19)"/><rect x="83" y="50" width="847" height="2" fill="url(#r20)"/><rect x="83" y="52" width="847" height="2" fill="url(#r21)"/><rect x="83" y="54" width="847" height="2" fill="url(#r22)"/><rect x="83" y="56" width="847" height="2" fill="url(#r23)"/><rect x="83" y="58" width="847" height="2" fill="url(#r24)"/><rect x="83" y="60" width="847" height="2" fill="url(#r25)"/><rect x="83" y="62" width="847" height="2" fill="url(#r26)"/><rect x="83" y="64" width="847" height="2" fill="url(#r27)"/><rect x="83" y="66" width="847" height="2" fill="url(#r28)"/><rect x="83" y="68" width="847" height="2" fill="url(#r29)"/><rect x="83" y="70" width="847" height="2" fill="url(#r30)"/><rect x="83" y="72" width="847" height="2" fill="url(#r31)"/><rect x="83" y="74" width="847" height="2" fill="url(#r32)"/><rect x="83" y="76" width="847" height="2" fill="url(#r33)"/><rect x="83" y="78" width="847" height="2" fill="url(#r34)"/><rect x="83" y="80" width="847" height="2" fill="url(#r35)"/><rect x="83" y="82" width="847" height="2" fill="url(#r36)"/><rect x="83" y="84" width="847" height="2" fill="url(#r37)"/><rect x="83" y="86" width="847" height="2" fill="url(#r38)"/><rect x="83" y="88" width="847" height="2" fill="url(#r39)"/><rect x="83" y="90" width="847" height="2" fill="url(#r40)"/><rect x="83" y="92" width="847" height="2" fill="url(#r41)"/><rect x="83" y="94" width="847" height="2" fill="url(#r42)"/><rect x="83" y="96" width="847" height="2" fill="url(#r43)"/><rect x="83" y="98" width="847" height="2" fill="url(#r44)"/><rect x="83" y="100" width="847" height="2" fill="url(#r45)"/><rect x="83" y="102" width="847" height="2" fill="url(#r46)"/><rect x="83" y="104" width="847" height="2" fill="url(#r47)"/><rect x="83" y="106" width="847" height="2" fill="url(#r48)"/><rect x="83" y="108" width="847" height="2" fill="url(#r49)"/><rect x="83" y="110" width="847" height="2" fill="url(#r50)"/><rect x="83" y="112" width="847" height="2" fill="url(#r51)"/><rect x="83" y="114" width="847" height="2" fill="url(#r52)"/><rect x="83" y="116" width="847" height="2" fill="url(#r53)"/><rect x="83" y="118" width="847" height="2" fill="url(#r54)"/><rect x="83" y="120" width="847" height="2" fill="url(#r55)"/><rect x="83" y="122" width="847" height="2" fill="url(#r56)"/><rect x="83" y="124" width="847" height="2" fill="url(#r57)"/><rect x="83" y="126" width="847" height="2" fill="url(#r58)"/><rect x="83" y="128" width="847" height="2" fill="url(#r59)"/><rect x="83" y="130" width="847" height="2" fill="url(#r60)"/><rect x="83" y="132" width="847" height="2" fill="url(#r61)"/><rect x="83" y="134" width="847" height="2" fill="url(#r62)"/><rect x="83" y="136" width="847" height="2" fill="url(#r63)"/><rect x="83" y="138" width="847" height="2" fill="url(#r64)"/><rect x="83" y="140" width="847" height="2" fill="url(#r65)"/><rect x="83" y="142" width="847" height="2" fill="url(#r66)"/><rect x="83" y="144" width="847" height="2" fill="url(#r67)"/><rect x="83" y="146" width="847" height="2" fill="url(#r68)"/><rect x="83" y="148" width="847" height="2" fill="url(#r69)"/><rect x="83" y="150" width="847" height="2" fill="url(#r70)"/><rect x="83" y="152" width="847" height="2" fill="url(#r71)"/><rect x="83" y="154" width="847" height="2" fill="url(#r72)"/><rect x="83" y="156" width="847" height="2" fill="url(#r73)"/><rect x="83" y="158" width="847" height="2" fill="url(#r74)"/><rect x="83" y="160" width="847" height="2" fill="url(#r75)"/><rect x="83" y="162" width="847" height="2" fill="url(#r76)"/><rect x="83" y="164" width="847" height="2" fill="url(#r77)"/><rect x="83" y="166" width="847" height="2" fill="url(#r78)"/><rect x="83" y="168" width="847" height="2" fill="url(#r79)"/><rect x="83" y="170" width="847" height="2" fill="url(#r80)"/><rect x="83" y="172" width="847" height="2" fill="url(#r81)"/><rect x="83" y="174" width="847" height="2" fill="url(#r82)"/><rect x="83" y="176" width="847" height="2" fill="url(#r83)"/><rect x="83" y="178" width="847" height="2" fill="url(#r84)"/><rect x="83" y="180" width="847" height="2" fill="url(#r85)"/><rect x="83" y="182" width="847" height="2" fill="url(#r86)"/><rect x="83" y="184" width="847" height="2" fill="url(#r87)"/><rect x="83" y="186" width="847" height="2" fill="url(#r88)"/><rect x="83" y="188" width="847" height="2" fill="url(#r89)"/><rect x="83" y="190" width="847" height="2" fill="url(#r90)"/><rect x="83" y="192" width="847" height="2" fill="url(#r91)"/><rect x="83" y="194" width="847" height="2" fill="url(#r92)"/><rect x="83" y="196" width="847" height="2" fill="url(#r93)"/><rect x="83" y="198" width="847" height="2" fill="url(#r94)"/><rect x="83" y="200" width="847" height="2" fill="url(#r95)"/><rect x="83" y="202" width="847" height="2" fill="url(#r96)"/><rect x="83" y="204" width="847" height="2" fill="url(#r97)"/><rect x="83" y="206" width="847" height="2" fill="url(#r98)"/><rect x="83" y="208" width="847" height="2" fill="url(#r99)"/><rect x="83" y="210" width="847" height="2" fill="url(#r100)"/><rect x="83" y="212" width="847" height="2" fill="url(#r101)"/><rect x="83" y="214" width="847" height="2" fill="url(#r102)"/><rect x="83" y="216" width="847" height="2" fill="url(#r103)"/><rect x="83" y="218" width="847" height="2" fill="url(#r104)"/><rect x="83" y="220" width="847" height="2" fill="url(#r105)"/><rect x="83" y="222" width="847" height="2" fill="url(#r106)"/><rect x="83" y="224" width="847" height="2" fill="url(#r107)"/><rect x="83" y="226" width="847" height="2" fill="url(#r108)"/><rect x="83" y="228" width="847" height="2" fill="url(#r109)"/><rect x="83" y="230" width="847" height="2" fill="url(#r110)"/><rect x="83" y="232" width="847" height="2" fill="url(#r111)"/><rect x="83" y="234" width="847" height="2" fill="url(#r112)"/><rect x="83" y="236" width="847" height="2" fill="url(#r113)"/><rect x="83" y="238" width="847" height="2" fill="url(#r114)"/><rect x="83" y="240" width="847" height="2" fill="url(#r115)"/><rect x="83" y="242" width="847" height="2" fill="url(#r116)"/><rect x="83" y="244" width="847" height="2" fill="url(#r117)"/><rect x="83" y="246" width="847" height="2" fill="url(#r118)"/><rect x="83" y="248" width="847" height="2" fill="url(#r119)"/><rect x="83" y="250" width="847" height="2" fill="url(#r120)"/><rect x="83" y="252" width="847" height="2" fill="url(#r121)"/><rect x="83" y="254" width="847" height="2" fill="url(#r122)"/><rect x="83" y="256" width="847" height="2" fill="url(#r123)"/><rect x="83" y="258" width="847" height="2" fill="url(#r124)"/><rect x="83" y="260" width="847" height="2" fill="url(#r125)"/><rect x="83" y="262" width="847" height="2" fill="url(#r126)"/><rect x="83" y="264" width="847" height="2" fill="url(#r127)"/><rect x="83" y="266" width="847" height="2" fill="url(#r128)"/><rect x="83" y="268" width="847" height="2" fill="url(#r129)"/><rect x="83" y="270" width="847" height="2" fill="url(#r130)"/><rect x="83" y="272" width="847" height="2" fill="url(#r131)"/><rect x="83" y="274" width="847" height="2" fill="url(#r132)"/><rect x="83" y="276" width="847" height="2" fill="url(#r133)"/><rect x="83" y="278" width="847" height="2" fill="url(#r134)"/><rect x="83" y="280" width="847" height="2" fill="url(#r135)"/><rect x="83" y="282" width="847" height="2" fill="url(#r136)"/><rect x="83" y="284" width="847" height="2" fill="url(#r137)"/><rect x="83" y="286" width="847" height="2" fill="url(#r138)"/><rect x="83" y="288" width="847" height="2" fill="url(#r139)"/><rect x="83" y="290" width="847" height="2" fill="url(#r140)"/><rect x="83" y="292" width="847" height="2" fill="url(#r141)"/><rect x="83" y="294" width="847" height="2" fill="url(#r142)"/><rect x="83" y="296" width="847" height="2" fill="url(#r143)"/><rect x="83" y="298" width="847" height="2" fill="url(#r144)"/><rect x="83" y="300" width="847" height="2" fill="url(#r145)"/><rect x="83" y="302" width="847" height="2" fill="url(#r146)"/><rect x="83" y="304" width="847" height="2" fill="url(#r147)"/><rect x="83" y="306" width="847" height="2" fill="url(#r148)"/><rect x="83" y="308" width="847" height="2" fill="url(#r149)"/><rect x="83" y="310" width="847" height="2" fill="url(#r150)"/><rect x="83" y="312" width="847" height="2" fill="url(#r151)"/><rect x="83" y="314" width="847" height="2" fill="url(#r152)"/><rect x="83" y="316" width="847" height="2" fill="url(#r153)"/><rect x="83" y="318" width="847" height="2" fill="url(#r154)"/><rect x="83" y="320" width="847" height="2" fill="url(#r155)"/><rect x="83" y="322" width="847" height="2" fill="url(#r156)"/><rect x="83" y="324" width="847" height="2" fill="url(#r157)"/><rect x="83" y="326" width="847" height="2" fill="url(#r158)"/><rect x="83" y="328" width="847" height="2" fill="url(#r159)"/><rect x="83" y="330" width="847" height="2" fill="url(#r160)"/><rect x="83" y="332" width="847" height="2" fill="url(#r161)"/><rect x="83" y="334" width="847" height="2" fill="url(#r162)"/><rect x="83" y="336" width="847" height="1" fill="url(#r163)"/></g>
<rect x="930.8" y="10" width="15.4" height="327" fill="url(#cb)"/>
<g fill="none" stroke="#000" stroke-width="1.1">
<rect x="82.5" y="10" width="848" height="327.2"/>
<path d="M930.5 10H946.4V337.2H930.5"/>
</g>
<path d="M122.80 337.2v-5M266.80 337.2v-5M410.80 337.2v-5M554.80 337.2v-5M698.80 337.2v-5M842.80 337.2v-5M82.5 330.39h5.3M82.5 288.32h5.3M82.5 246.25h5.3M82.5 204.18h5.3M82.5 162.11h5.3M82.5 120.04h5.3M82.5 77.97h5.3M82.5 35.90h5.3M946.4 10.00h-4.6M946.4 50.50h-4.6M946.4 91.00h-4.6M946.4 131.50h-4.6M946.4 172.00h-4.6M946.4 212.50h-4.6M946.4 253.00h-4.6M946.4 293.50h-4.6M946.4 334.00h-4.6" stroke="#000" stroke-width="1.9" fill="none"/>
<g fill="none" stroke="#000" stroke-width="1.3"><path d="M235.0 182.0C238.1 183.0 249.0 184.4 253.2 187.7C257.5 191.0 260.4 196.8 260.7 201.8C261.1 206.9 258.5 213.3 255.3 218.0C252.0 222.7 246.8 227.6 241.1 230.2C235.4 232.8 226.5 234.3 220.9 233.6C215.3 232.9 210.9 229.4 207.7 226.1C204.6 222.8 202.4 218.7 202.1 214.0C201.7 209.3 202.9 202.5 205.7 197.8C208.5 193.1 214.0 188.3 218.9 185.7C223.8 183.0 232.3 182.6 235.0 182.0" stroke-dasharray="6.700 6.623"/><path d="M220.9 246.9C218.2 246.2 209.4 244.8 204.7 242.3C200.0 239.8 195.5 236.9 192.6 232.2C189.6 227.5 187.3 220.4 186.9 214.0C186.6 207.6 187.6 199.7 190.6 193.8C193.5 187.9 200.2 182.2 204.7 178.6C209.3 174.9 213.5 173.6 217.9 171.9C222.2 170.2 226.5 169.1 231.0 168.5C235.6 167.8 240.1 167.4 245.2 168.1C250.2 168.7 256.6 170.3 261.3 172.5C266.1 174.7 271.4 179.8 273.5 181.2" stroke-dasharray="6.700 6.758"/><path d="M229.0 155.9C231.3 155.7 238.1 154.5 243.1 154.3C248.2 154.2 254.3 154.4 259.3 154.9C264.4 155.5 269.1 156.3 273.5 157.8C277.8 159.2 282.1 161.0 285.6 163.4C289.1 165.9 292.5 169.2 294.7 172.5C296.9 175.9 298.3 179.8 298.7 183.6C299.2 187.5 298.5 191.1 297.3 195.8C296.2 200.5 294.0 206.9 291.7 212.0C289.4 217.0 286.6 221.7 283.6 226.1C280.5 230.5 277.2 234.5 273.5 238.2C269.8 242.0 265.4 245.7 261.3 248.4C257.3 251.1 253.6 252.7 249.2 254.4C244.8 256.1 239.8 257.5 235.0 258.5C230.3 259.4 225.6 260.0 220.9 260.1C216.2 260.2 211.1 259.8 206.7 258.9C202.4 257.9 198.5 256.5 194.6 254.4C190.7 252.3 186.5 249.5 183.5 246.3C180.4 243.1 177.6 237.1 176.4 235.2" stroke-dasharray="6.700 6.499"/><path d="M172.4 224.5l0.6 1"/><path d="M331.1 161.4C329.9 159.7 327.2 154.3 324.0 151.3C320.8 148.3 316.6 145.6 311.9 143.6C307.2 141.6 300.8 140.2 295.7 139.2C290.7 138.1 286.3 137.6 281.6 137.1C276.8 136.6 272.1 136.3 267.4 136.1C262.7 136.0 258.0 135.9 253.2 136.1C248.5 136.4 243.5 137.0 239.1 137.5C234.7 138.1 231.0 138.6 227.0 139.6C222.9 140.5 218.9 141.6 214.8 143.2C210.8 144.8 206.6 146.8 202.7 148.9C198.8 151.0 195.3 153.1 191.6 155.7C187.9 158.3 184.0 161.3 180.4 164.4C176.9 167.6 173.4 171.0 170.3 174.5C167.3 178.1 164.6 181.8 162.2 185.7C159.9 189.5 157.7 193.8 156.2 197.8C154.7 201.8 153.8 205.9 153.1 209.9C152.5 214.0 152.2 218.0 152.5 222.1C152.9 226.1 153.9 230.2 155.2 234.2C156.4 238.2 158.0 242.5 160.2 246.3C162.4 250.2 165.3 254.1 168.3 257.5C171.3 260.8 174.7 264.0 178.4 266.6C182.1 269.1 186.5 271.1 190.6 272.6C194.6 274.1 198.3 274.9 202.7 275.7C207.1 276.4 212.1 277.1 216.8 277.1C221.6 277.1 226.3 276.6 231.0 275.7C235.7 274.7 240.8 273.0 245.2 271.6C249.5 270.3 253.2 269.3 257.3 267.6C261.3 265.9 265.4 264.0 269.4 261.5C273.5 259.0 277.8 255.6 281.6 252.4C285.3 249.2 288.8 245.3 291.7 242.3C294.5 239.3 297.6 235.5 298.7 234.2" stroke-dasharray="6.700 6.679"/><path d="M446.0 104.5C447.1 104.3 450.3 103.2 452.6 103.0C454.8 102.8 457.4 102.9 459.5 103.2C461.7 103.5 463.5 104.3 465.6 105.1C467.7 105.9 470.3 106.9 472.2 107.9C474.1 109.0 475.6 109.9 477.2 111.5C478.7 113.0 480.5 115.3 481.6 117.2C482.7 119.1 483.3 120.9 483.8 123.1C484.3 125.2 484.6 128.0 484.6 130.2C484.5 132.4 484.3 134.2 483.6 136.3C482.9 138.3 481.7 140.7 480.5 142.6C479.3 144.5 477.9 146.0 476.3 147.5C474.6 149.1 472.5 150.6 470.6 151.7C468.6 152.9 466.6 153.6 464.5 154.3C462.4 154.9 460.0 155.4 457.9 155.8C455.7 156.2 453.7 156.5 451.5 156.5C449.3 156.4 446.8 156.0 444.6 155.6C442.4 155.2 440.4 154.8 438.2 154.3C436.0 153.7 433.5 153.0 431.4 152.3C429.3 151.6 426.6 150.4 425.7 150.1" stroke-dasharray="6.700 6.732"/></g><g font-family="'Liberation Sans', sans-serif" fill="#000" stroke="#000" stroke-width="0.25" opacity="0.999"><text x="178.28" y="184.00" font-size="13.6" textLength="21.72" lengthAdjust="spacingAndGlyphs" transform="rotate(-40 189.14 179.20)">-13</text><text x="251.69" y="233.74" font-size="13.6" textLength="21.72" lengthAdjust="spacingAndGlyphs" transform="rotate(-40 262.55 228.94)">-19</text><text x="314.36" y="208.06" font-size="13.6" textLength="13.26" lengthAdjust="spacingAndGlyphs" transform="rotate(-62 320.99 203.26)">-6</text><text x="408.89" y="127.52" font-size="13.6" textLength="13.26" lengthAdjust="spacingAndGlyphs" transform="rotate(-58 415.52 122.72)">-6</text></g>
<g font-family="'Liberation Sans', sans-serif" fill="#000" stroke="#000" stroke-width="0.3" opacity="0.999">
<text x="98.40" y="359.80" font-size="25.80" textLength="45.81" lengthAdjust="spacingAndGlyphs">100</text>
<text x="242.40" y="359.80" font-size="25.80" textLength="45.81" lengthAdjust="spacingAndGlyphs">200</text>
<text x="386.40" y="359.80" font-size="25.80" textLength="45.81" lengthAdjust="spacingAndGlyphs">300</text>
<text x="530.40" y="359.80" font-size="25.80" textLength="45.81" lengthAdjust="spacingAndGlyphs">400</text>
<text x="674.40" y="359.80" font-size="25.80" textLength="45.81" lengthAdjust="spacingAndGlyphs">500</text>
<text x="818.40" y="359.80" font-size="25.80" textLength="45.81" lengthAdjust="spacingAndGlyphs">600</text>
<text x="47.76" y="338.99" font-size="25.80" textLength="30.54" lengthAdjust="spacingAndGlyphs">80</text>
<text x="32.49" y="296.92" font-size="25.80" textLength="45.81" lengthAdjust="spacingAndGlyphs">100</text>
<text x="32.49" y="254.85" font-size="25.80" textLength="45.81" lengthAdjust="spacingAndGlyphs">120</text>
<text x="32.49" y="212.78" font-size="25.80" textLength="45.81" lengthAdjust="spacingAndGlyphs">140</text>
<text x="32.49" y="170.71" font-size="25.80" textLength="45.81" lengthAdjust="spacingAndGlyphs">160</text>
<text x="32.49" y="128.64" font-size="25.80" textLength="45.81" lengthAdjust="spacingAndGlyphs">180</text>
<text x="32.49" y="86.57" font-size="25.80" textLength="45.81" lengthAdjust="spacingAndGlyphs">200</text>
<text x="32.49" y="44.50" font-size="25.80" textLength="45.81" lengthAdjust="spacingAndGlyphs">220</text>
<text x="950.60" y="19.00" font-size="25.80" textLength="15.27" lengthAdjust="spacingAndGlyphs">0</text>
<g><text x="948.30" y="59.50" font-size="25.80" textLength="20.11" lengthAdjust="spacingAndGlyphs">−</text><text x="968.41" y="59.50" font-size="25.80" textLength="15.27" lengthAdjust="spacingAndGlyphs">4</text></g>
<g><text x="948.30" y="100.00" font-size="25.80" textLength="20.11" lengthAdjust="spacingAndGlyphs">−</text><text x="968.41" y="100.00" font-size="25.80" textLength="15.27" lengthAdjust="spacingAndGlyphs">8</text></g>
<g><text x="948.30" y="140.50" font-size="25.80" textLength="20.11" lengthAdjust="spacingAndGlyphs">−</text><text x="968.41" y="140.50" font-size="25.80" textLength="30.54" lengthAdjust="spacingAndGlyphs">12</text></g>
<g><text x="948.30" y="181.00" font-size="25.80" textLength="20.11" lengthAdjust="spacingAndGlyphs">−</text><text x="968.41" y="181.00" font-size="25.80" textLength="30.54" lengthAdjust="spacingAndGlyphs">16</text></g>
<g><text x="948.30" y="221.50" font-size="25.80" textLength="20.11" lengthAdjust="spacingAndGlyphs">−</text><text x="968.41" y="221.50" font-size="25.80" textLength="30.54" lengthAdjust="spacingAndGlyphs">20</text></g>
<g><text x="948.30" y="262.00" font-size="25.80" textLength="20.11" lengthAdjust="spacingAndGlyphs">−</text><text x="968.41" y="262.00" font-size="25.80" textLength="30.54" lengthAdjust="spacingAndGlyphs">24</text></g>
<g><text x="948.30" y="302.50" font-size="25.80" textLength="20.11" lengthAdjust="spacingAndGlyphs">−</text><text x="968.41" y="302.50" font-size="25.80" textLength="30.54" lengthAdjust="spacingAndGlyphs">28</text></g>
<g><text x="948.30" y="343.00" font-size="25.80" textLength="20.11" lengthAdjust="spacingAndGlyphs">−</text><text x="968.41" y="343.00" font-size="25.80" textLength="30.54" lengthAdjust="spacingAndGlyphs">32</text></g>
<g><text x="381.00" y="384.30" font-size="27.24" textLength="79.15" lengthAdjust="spacingAndGlyphs">C1-N1</text><text x="468.32" y="384.30" font-size="27.24" textLength="108.90" lengthAdjust="spacingAndGlyphs">distance</text><text x="585.38" y="384.30" font-size="27.24" textLength="61.40" lengthAdjust="spacingAndGlyphs">[pm]</text></g>
<g transform="rotate(-90 21.00 172.40)"><text x="-80.29" y="172.40" font-size="27.14" textLength="126.23" lengthAdjust="spacingAndGlyphs">O1-C1-O2</text><text x="54.07" y="172.40" font-size="27.14" textLength="68.23" lengthAdjust="spacingAndGlyphs">[deg]</text></g>
<text x="73.77" y="784.70" font-size="25.80" textLength="15.27" lengthAdjust="spacingAndGlyphs">0</text>
<text x="181.50" y="784.70" font-size="25.80" textLength="15.27" lengthAdjust="spacingAndGlyphs">2</text>
<text x="289.24" y="784.70" font-size="25.80" textLength="15.27" lengthAdjust="spacingAndGlyphs">4</text>
<text x="396.98" y="784.70" font-size="25.80" textLength="15.27" lengthAdjust="spacingAndGlyphs">6</text>
<text x="504.72" y="784.70" font-size="25.80" textLength="15.27" lengthAdjust="spacingAndGlyphs">8</text>
<text x="604.82" y="784.70" font-size="25.80" textLength="30.54" lengthAdjust="spacingAndGlyphs">10</text>
<text x="712.56" y="784.70" font-size="25.80" textLength="30.54" lengthAdjust="spacingAndGlyphs">12</text>
<text x="820.29" y="784.70" font-size="25.80" textLength="30.54" lengthAdjust="spacingAndGlyphs">14</text>
<text x="928.03" y="784.70" font-size="25.80" textLength="30.54" lengthAdjust="spacingAndGlyphs">16</text>
<text x="32.49" y="771.80" font-size="25.80" textLength="45.81" lengthAdjust="spacingAndGlyphs">120</text>
<text x="32.49" y="725.00" font-size="25.80" textLength="45.81" lengthAdjust="spacingAndGlyphs">130</text>
<text x="32.49" y="678.20" font-size="25.80" textLength="45.81" lengthAdjust="spacingAndGlyphs">140</text>
<text x="32.49" y="631.40" font-size="25.80" textLength="45.81" lengthAdjust="spacingAndGlyphs">150</text>
<text x="32.49" y="584.60" font-size="25.80" textLength="45.81" lengthAdjust="spacingAndGlyphs">160</text>
<text x="32.49" y="537.80" font-size="25.80" textLength="45.81" lengthAdjust="spacingAndGlyphs">170</text>
<text x="32.49" y="491.00" font-size="25.80" textLength="45.81" lengthAdjust="spacingAndGlyphs">180</text>
<text x="32.49" y="444.20" font-size="25.80" textLength="45.81" lengthAdjust="spacingAndGlyphs">190</text>
<g><text x="456.00" y="808.80" font-size="27.24" textLength="58.06" lengthAdjust="spacingAndGlyphs">time</text><text x="522.23" y="808.80" font-size="27.24" textLength="49.76" lengthAdjust="spacingAndGlyphs">[ps]</text></g>
<g transform="rotate(-90 21.00 598.20)"><text x="-80.29" y="598.20" font-size="27.14" textLength="126.23" lengthAdjust="spacingAndGlyphs">O1-C1-O2</text><text x="54.07" y="598.20" font-size="27.14" textLength="68.23" lengthAdjust="spacingAndGlyphs">[deg]</text></g>
</g>
<path d="M83.3 671.7L83.7 671.8L84.1 674.2L84.6 677.2L85.0 680.8L85.4 684.5L85.8 687.2L86.2 689.6L86.6 690.3L87.1 692.0L87.5 693.9L87.9 697.6L88.4 702.4L88.8 707.4L89.3 712.0L89.7 715.9L90.2 718.4L90.6 719.0L91.0 718.4L91.4 716.0L91.9 712.5L92.3 708.4L92.7 702.9L93.2 696.7L93.6 690.6L94.0 684.5L94.4 678.9L94.9 673.0L95.3 668.6L95.7 665.5L96.1 663.1L96.6 662.7L97.0 664.0L97.4 666.8L97.8 671.2L98.2 677.0L98.6 682.8L99.0 690.3L99.4 696.3L99.8 701.8L100.2 706.7L100.6 709.6L101.0 710.3L101.4 709.3L101.8 707.1L102.2 703.2L102.7 698.4L103.1 692.1L103.5 685.4L103.9 678.7L104.4 671.9L104.8 665.7L105.2 661.0L105.6 657.1L106.1 654.6L106.5 653.7L106.9 654.7L107.3 656.3L107.8 660.5L108.2 665.1L108.6 670.1L109.0 676.5L109.5 682.7L109.9 689.3L110.3 694.7L110.7 700.2L111.2 705.0L111.6 708.4L112.0 709.8L112.5 710.9L112.9 710.3L113.3 707.7L113.7 704.3L114.1 698.7L114.6 693.2L115.0 686.8L115.4 681.5L115.8 676.0L116.2 671.8L116.7 668.9L117.1 668.7L117.5 669.6L117.9 672.9L118.3 678.4L118.7 685.3L119.1 693.3L119.5 702.0L119.9 710.7L120.3 719.3L120.7 725.6L121.1 731.1L121.5 734.4L121.9 735.6L122.4 734.4L122.8 730.2L123.2 724.1L123.6 716.4L124.1 707.0L124.5 696.3L124.9 685.0L125.3 673.6L125.8 663.1L126.2 653.4L126.6 645.5L127.1 639.1L127.5 635.5L127.9 634.1L128.3 635.4L128.7 638.4L129.2 643.9L129.6 650.1L130.0 657.5L130.4 664.8L130.9 673.1L131.3 680.5L131.7 687.2L132.1 691.5L132.6 695.3L133.0 696.3L133.4 694.9L133.8 692.0L134.3 687.3L134.7 681.3L135.1 674.0L135.5 666.1L136.0 657.3L136.4 649.3L136.8 641.6L137.2 635.6L137.6 630.4L138.1 627.5L138.5 625.8L138.9 627.1L139.3 630.4L139.7 636.6L140.1 644.0L140.6 652.9L141.0 663.1L141.4 674.2L141.8 685.1L142.2 695.7L142.6 706.0L143.0 715.1L143.4 721.6L143.9 726.8L144.3 729.8L144.7 730.7L145.1 730.0L145.5 727.0L146.0 722.0L146.4 715.6L146.8 707.9L147.2 699.5L147.7 690.5L148.1 682.2L148.5 674.6L148.9 668.0L149.3 663.2L149.8 660.1L150.2 659.2L150.6 660.7L151.0 664.1L151.4 670.1L151.8 678.1L152.2 687.3L152.6 697.7L153.1 707.4L153.5 718.1L153.9 727.1L154.3 735.0L154.7 741.1L155.1 744.8L155.5 746.1L155.9 744.6L156.3 740.9L156.8 734.0L157.2 725.4L157.6 715.4L158.0 703.8L158.5 692.8L158.9 681.4L159.3 671.4L159.7 662.3L160.2 655.8L160.6 651.9L161.0 650.7L161.4 651.4L161.9 654.4L162.3 658.8L162.7 665.0L163.1 671.3L163.6 679.1L164.0 686.4L164.4 693.7L164.8 700.5L165.3 706.0L165.7 710.5L166.1 713.2L166.5 713.8L167.0 712.7L167.4 709.7L167.8 704.4L168.2 697.8L168.6 690.1L169.1 681.6L169.5 673.9L169.9 665.5L170.3 659.3L170.8 653.9L171.2 650.8L171.6 649.4L172.0 650.4L172.5 653.9L172.9 659.0L173.3 666.1L173.7 674.6L174.2 684.0L174.6 694.0L175.0 704.0L175.4 713.8L175.9 722.1L176.3 729.8L176.7 735.0L177.1 738.9L177.6 739.9L178.0 737.9L178.4 734.4L178.8 728.3L179.3 720.4L179.7 711.7L180.1 701.9L180.5 692.1L181.0 683.6L181.4 676.0L181.8 670.3L182.2 666.4L182.6 665.6L183.1 666.8L183.5 669.5L183.9 674.6L184.3 681.3L184.8 688.9L185.2 697.8L185.6 706.1L186.0 714.2L186.5 721.9L186.9 728.5L187.3 734.0L187.7 736.6L188.2 737.7L188.6 736.4L189.0 732.2L189.4 726.0L189.9 716.6L190.3 706.5L190.7 695.1L191.1 683.6L191.6 672.0L192.0 662.2L192.4 653.0L192.8 646.3L193.3 641.9L193.7 640.4L194.1 641.8L194.5 645.3L195.0 650.7L195.4 658.0L195.8 666.4L196.2 675.5L196.7 685.1L197.1 694.2L197.5 702.4L197.9 709.6L198.4 714.9L198.8 718.0L199.2 719.0L199.6 718.0L200.1 714.6L200.5 708.3L200.9 700.6L201.3 691.2L201.8 681.1L202.2 669.4L202.6 658.8L203.0 648.6L203.5 638.9L203.9 631.7L204.3 625.8L204.7 622.1L205.2 621.2L205.6 621.8L206.0 624.6L206.4 629.3L206.8 634.4L207.2 641.8L207.6 649.1L208.1 657.6L208.5 665.9L208.9 673.7L209.3 681.7L209.7 688.7L210.1 694.1L210.5 698.3L210.9 701.2L211.3 701.9L211.8 700.8L212.2 698.4L212.6 694.4L213.0 688.4L213.5 681.9L213.9 674.4L214.3 666.1L214.8 658.0L215.2 650.5L215.6 644.2L216.0 638.9L216.5 634.7L216.9 632.2L217.3 631.2L217.7 632.1L218.1 634.1L218.5 637.7L219.0 642.2L219.4 647.8L219.8 654.6L220.2 661.6L220.6 668.9L221.0 676.5L221.4 683.4L221.9 690.4L222.3 695.5L222.7 699.8L223.1 703.4L223.5 705.4L223.9 705.8L224.3 705.5L224.8 703.1L225.2 699.4L225.6 696.0L226.0 690.5L226.4 685.0L226.8 678.1L227.2 671.3L227.6 665.4L228.1 658.8L228.5 653.7L228.9 649.6L229.3 646.0L229.7 644.0L230.1 643.3L230.5 644.4L230.9 646.9L231.3 651.7L231.7 657.9L232.1 665.7L232.5 673.6L232.9 682.6L233.3 692.3L233.8 701.2L234.2 709.9L234.6 717.4L235.0 723.8L235.4 728.0L235.8 731.0L236.2 731.4L236.6 731.0L237.0 729.5L237.4 725.6L237.8 721.1L238.2 715.7L238.6 710.3L239.0 704.2L239.4 698.1L239.8 693.2L240.3 688.6L240.7 685.3L241.1 682.9L241.5 682.7L241.9 683.4L242.3 686.4L242.7 691.0L243.2 697.2L243.6 704.3L244.0 711.4L244.4 718.6L244.9 724.7L245.3 729.8L245.7 732.9L246.1 734.0L246.5 733.0L246.9 731.4L247.4 728.4L247.8 723.8L248.2 718.4L248.6 711.3L249.0 703.9L249.5 695.4L249.9 687.8L250.3 678.2L250.7 668.9L251.1 659.7L251.5 652.7L252.0 647.4L252.4 641.6L252.8 637.1L253.2 637.2L253.6 637.2L254.1 638.7L254.5 642.3L254.9 647.7L255.4 652.8L255.8 658.6L256.3 662.0L256.7 667.3L257.2 667.7L257.6 669.1L258.0 664.1L258.4 663.8L258.8 660.0L259.2 653.6L259.6 648.3L260.0 642.3L260.4 635.7L260.8 628.3L261.2 621.9L261.6 615.9L262.1 609.3L262.5 602.3L262.9 596.4L263.3 591.5L263.7 587.8L264.1 584.1L264.5 582.0L264.9 581.2L265.3 580.5L265.7 581.2L266.1 583.2L266.5 586.3L266.9 590.0L267.3 595.3L267.7 600.0L268.2 605.7L268.6 610.2L269.0 614.4L269.4 618.1L269.8 619.9L270.2 620.5L270.6 620.2L271.0 619.1L271.4 616.7L271.8 613.7L272.2 610.2L272.6 605.4L273.0 600.7L273.4 595.7L273.8 590.9L274.2 585.8L274.6 581.1L275.0 576.5L275.4 572.8L275.8 570.0L276.2 567.6L276.6 566.5L277.0 566.0L277.4 566.1L277.9 567.6L278.3 569.8L278.7 573.4L279.1 577.5L279.5 581.6L279.9 586.7L280.4 591.7L280.8 597.8L281.2 603.4L281.6 608.6L282.0 614.1L282.4 618.2L282.9 622.4L283.3 625.6L283.7 627.5L284.1 629.2L284.5 629.4L284.9 628.1L285.4 626.1L285.8 623.6L286.2 619.9L286.6 615.6L287.1 611.6L287.5 607.6L287.9 604.0L288.3 601.4L288.7 599.4L289.2 598.9L289.6 599.6L290.0 602.2L290.4 606.7L290.8 612.8L291.2 620.1L291.7 628.2L292.1 638.0L292.5 647.8L292.9 658.2L293.3 667.8L293.7 677.4L294.1 686.0L294.6 693.7L295.0 699.4L295.4 703.7L295.8 706.6L296.2 707.3L296.6 706.9L297.0 705.3L297.4 703.3L297.8 701.0L298.2 696.6L298.6 692.7L299.0 688.4L299.4 685.1L299.8 680.4L300.2 678.4L300.6 677.8L301.1 678.8L301.5 680.3L301.9 683.5L302.3 687.9L302.8 695.4L303.2 703.0L303.6 707.6L304.0 713.5L304.5 719.5L304.9 722.4L305.3 726.9L305.7 729.0L306.2 730.2L306.6 729.1L307.0 726.2L307.4 727.6L307.8 726.0L308.2 720.2L308.6 717.4L309.0 712.7L309.4 708.3L309.8 699.6L310.2 698.4L310.7 690.0L311.1 687.0L311.5 679.9L311.9 673.9L312.3 669.1L312.7 665.6L313.1 659.0L313.5 656.8L313.9 655.2L314.3 653.5L314.8 658.9L315.2 659.4L315.7 660.3L316.1 664.1L316.5 662.9L317.0 666.3L317.4 670.9L317.9 671.1L318.3 666.3L318.7 663.8L319.1 666.0L319.5 666.8L319.9 659.7L320.3 654.7L320.7 650.0L321.1 640.0L321.5 634.7L321.9 628.5L322.3 621.0L322.7 614.9L323.1 607.8L323.6 605.5L324.0 599.8L324.4 599.8L324.8 600.0L325.2 592.6L325.6 590.3L326.0 595.4L326.4 599.7L326.9 604.6L327.3 608.9L327.7 610.0L328.1 615.1L328.6 624.8L329.0 626.6L329.4 637.3L329.8 640.9L330.3 648.2L330.7 651.8L331.1 654.1L331.5 654.8L332.0 650.7L332.4 652.0L332.8 650.0L333.2 649.0L333.6 648.6L334.0 642.8L334.5 638.2L334.9 633.7L335.3 629.7L335.7 627.2L336.1 620.2L336.5 620.7L336.9 616.4L337.4 613.0L337.8 608.6L338.2 609.4L338.6 608.5L339.0 602.7L339.4 608.1L339.9 609.4L340.3 608.2L340.7 610.5L341.1 616.4L341.5 616.7L341.9 615.6L342.3 620.9L342.7 624.3L343.2 627.7L343.6 626.5L344.0 635.4L344.4 635.4L344.8 639.6L345.2 641.6L345.6 646.1L346.1 646.6L346.5 648.4L346.9 653.7L347.3 657.5L347.7 655.8L348.1 660.1L348.5 658.5L349.0 657.1L349.4 660.2L349.8 654.3L350.2 655.5L350.6 650.3L351.0 649.4L351.4 644.1L351.8 642.5L352.3 643.9L352.7 641.4L353.1 640.4L353.5 639.0L353.9 639.4L354.3 636.5L354.7 636.9L355.1 639.1L355.6 640.6L356.0 644.6L356.4 650.4L356.9 656.1L357.3 662.2L357.7 670.7L358.1 675.8L358.6 681.6L359.0 684.9L359.4 688.3L359.8 690.2L360.3 693.6L360.7 692.3L361.1 693.6L361.5 693.3L361.9 691.0L362.3 685.8L362.8 678.2L363.2 673.8L363.6 665.4L364.0 660.0L364.4 651.4L364.8 645.3L365.2 640.8L365.7 633.1L366.1 630.4L366.5 624.7L366.9 622.7L367.3 624.6L367.7 626.1L368.1 625.2L368.5 628.9L368.9 630.9L369.3 636.8L369.7 643.2L370.1 647.4L370.5 652.9L370.9 658.3L371.4 667.3L371.8 674.5L372.2 680.5L372.6 685.5L373.0 688.5L373.4 694.2L373.8 694.7L374.2 695.6L374.6 696.2L375.0 693.7L375.4 693.2L375.9 690.9L376.3 688.2L376.7 685.0L377.1 681.0L377.6 676.7L378.0 673.1L378.4 669.5L378.8 666.1L379.3 662.9L379.7 660.6L380.1 659.6L380.6 658.9L381.0 659.9L381.4 662.8L381.8 668.9L382.2 674.8L382.6 684.2L383.0 695.1L383.4 705.5L383.8 717.2L384.2 728.0L384.6 740.1L385.0 748.3L385.4 757.2L385.8 763.1L386.2 766.1L386.6 768.8L387.0 766.1L387.5 763.5L387.9 758.8L388.3 751.1L388.7 742.9L389.1 733.2L389.5 721.0L389.9 709.1L390.3 697.2L390.8 685.8L391.2 676.1L391.6 666.0L392.0 659.2L392.4 653.5L392.8 649.7L393.2 650.3L393.7 649.3L394.1 652.4L394.5 657.2L394.9 659.9L395.4 666.9L395.8 672.6L396.2 681.1L396.6 687.8L397.1 696.0L397.5 702.0L397.9 707.1L398.3 711.0L398.8 711.0L399.2 710.5L399.6 708.2L400.0 705.1L400.4 700.8L400.8 695.6L401.2 690.9L401.6 685.4L402.0 678.6L402.4 671.7L402.8 665.7L403.2 658.9L403.6 652.8L404.1 647.0L404.5 642.1L404.9 637.9L405.3 634.9L405.7 631.7L406.1 629.9L406.5 629.3L406.9 629.9L407.3 631.5L407.7 635.0L408.1 639.4L408.5 644.6L408.9 650.9L409.3 657.5L409.8 665.0L410.2 673.5L410.6 681.7L411.0 689.1L411.4 698.0L411.8 706.0L412.2 713.8L412.6 720.5L413.0 726.1L413.4 731.8L413.8 735.9L414.2 738.5L414.7 738.3L415.1 736.7L415.5 736.2L415.9 730.6L416.4 725.8L416.8 718.5L417.2 709.7L417.6 700.9L418.0 694.1L418.5 689.5L418.9 683.7L419.3 683.5L419.7 683.3L420.2 684.1L420.6 687.6L421.0 688.5L421.4 694.1L421.9 696.5L422.3 701.5L422.7 706.2L423.1 712.9L423.6 716.2L424.0 721.4L424.4 723.5L424.8 728.3L425.3 730.5L425.7 728.3L426.1 727.0L426.5 721.1L427.0 716.2L427.4 706.0L427.8 695.3L428.2 689.2L428.7 678.7L429.1 669.8L429.5 664.0L429.9 658.5L430.3 657.5L430.8 655.9L431.2 657.2L431.6 651.6L432.0 642.0L432.4 634.0L432.8 627.0L433.3 619.0L433.7 616.7L434.1 615.5L434.5 615.0L434.9 615.2L435.3 616.1L435.8 616.9L436.2 616.8L436.6 615.4L437.0 616.7L437.4 615.9L437.8 618.4L438.3 616.9L438.7 615.7L439.2 608.5L439.6 602.5L440.1 597.5L440.5 593.9L441.0 590.5L441.4 590.5L441.8 587.9L442.2 582.5L442.6 574.1L443.0 566.5L443.4 556.8L443.8 549.6L444.2 540.8L444.6 533.2L445.0 529.2L445.4 530.8L445.8 532.5L446.2 532.2L446.6 533.1L447.0 532.1L447.4 531.1L447.8 531.6L448.2 530.4L448.6 529.8L449.0 528.4L449.4 528.6L449.8 528.3L450.2 528.9L450.7 527.5L451.1 526.0L451.5 523.8L451.9 522.4L452.3 517.9L452.8 513.2L453.2 508.8L453.6 505.1L454.0 505.5L454.5 499.3L454.9 500.0L455.3 502.5L455.8 503.3L456.2 499.6L456.6 498.5L457.1 495.3L457.5 492.6L458.0 488.5L458.4 489.0L458.9 485.5L459.3 487.5L459.7 484.0L460.2 488.1L460.6 486.1L461.1 487.7L461.5 492.8L461.9 492.3L462.3 495.8L462.7 495.4L463.1 501.9L463.5 502.1L463.9 503.0L464.4 507.8L464.8 511.5L465.2 511.1L465.6 514.8L466.0 518.0L466.4 516.4L466.8 514.8L467.2 513.5L467.6 514.5L468.1 510.0L468.5 506.1L468.9 508.2L469.3 505.9L469.8 509.2L470.2 506.0L470.6 504.4L471.0 504.5L471.5 507.6L471.9 505.7L472.3 506.2L472.8 507.1L473.2 507.1L473.6 506.4L474.1 505.1L474.5 505.4L475.0 504.3L475.4 497.3L475.8 502.4L476.3 497.2L476.7 497.8L477.2 493.7L477.6 494.9L478.1 494.9L478.5 496.1L478.9 500.3L479.3 504.1L479.7 506.1L480.1 511.5L480.5 515.8L481.0 517.4L481.4 516.0L481.8 514.9L482.2 512.5L482.6 507.3L483.0 502.5L483.4 502.4L483.9 495.5L484.3 493.9L484.7 492.3L485.1 496.7L485.5 499.2L486.0 497.9L486.4 500.8L486.8 500.5L487.2 506.0L487.7 506.1L488.1 504.4L488.5 508.4L488.9 507.4L489.3 507.7L489.8 507.8L490.2 506.3L490.6 506.6L491.0 508.4L491.4 506.8L491.8 504.4L492.2 507.4L492.6 501.7L493.0 498.8L493.4 496.7L493.8 497.8L494.2 498.0L494.6 497.3L495.0 499.7L495.4 498.4L495.8 503.3L496.2 506.7L496.6 511.2L497.0 515.6L497.4 514.9L497.8 526.0L498.2 522.5L498.6 526.7L499.0 528.7L499.5 528.0L499.9 523.2L500.4 512.3L500.8 508.3L501.2 504.7L501.7 497.0L502.1 494.7L502.5 493.3L502.9 501.4L503.4 504.3L503.8 506.9L504.2 512.9L504.6 518.1L505.0 522.4L505.4 528.9L505.8 534.8L506.3 540.1L506.7 545.4L507.1 548.6L507.5 551.4L507.9 554.0L508.3 554.7L508.7 554.6L509.1 554.6L509.6 553.5L510.0 552.4L510.4 551.0L510.8 548.7L511.2 547.0L511.6 544.6L512.0 542.1L512.4 539.7L512.8 537.0L513.2 534.3L513.6 532.4L514.0 530.1L514.4 528.7L514.8 527.0L515.2 525.6L515.6 524.9L516.0 524.8L516.4 524.8L516.8 525.2L517.2 526.1L517.6 527.2L518.1 529.0L518.5 531.5L518.9 533.5L519.3 536.0L519.7 537.1L520.1 538.2L520.5 539.1L520.9 540.6L521.3 542.2L521.7 541.4L522.1 537.8L522.5 535.2L522.9 535.3L523.3 531.2L523.7 524.8L524.1 523.4L524.5 518.0L524.9 515.2L525.3 510.2L525.7 507.4L526.1 503.4L526.5 498.6L526.9 496.2L527.3 492.3L527.7 490.9L528.1 485.6L528.5 482.5L528.9 483.3L529.3 482.6L529.7 482.4L530.1 482.3L530.5 480.2L531.0 483.0L531.4 485.7L531.8 489.2L532.2 489.4L532.6 494.3L533.0 496.1L533.5 494.6L533.9 494.5L534.3 493.7L534.8 490.4L535.2 490.6L535.7 490.7L536.1 490.9L536.5 492.6L536.9 494.3L537.3 499.7L537.8 501.8L538.2 506.1L538.6 512.5L539.0 515.0L539.5 519.9L539.9 523.0L540.3 522.7L540.7 522.2L541.2 520.9L541.6 516.8L542.0 508.8L542.4 503.1L542.8 500.0L543.3 492.6L543.7 484.1L544.1 480.6L544.5 479.1L545.0 476.1L545.4 477.4L545.8 477.5L546.2 479.7L546.7 480.4L547.1 486.4L547.5 492.6L547.9 494.5L548.4 502.7L548.8 507.7L549.2 512.2L549.6 515.5L550.1 517.5L550.5 520.4L550.9 524.4L551.3 526.0L551.8 526.8L552.2 526.0L552.6 524.2L553.0 519.4L553.4 514.0L553.8 510.2L554.2 504.8L554.6 499.0L555.0 493.1L555.4 492.0L555.8 490.3L556.2 493.0L556.6 493.7L557.0 498.3L557.4 503.4L557.9 507.9L558.3 513.9L558.7 514.5L559.1 515.6L559.5 520.3L560.0 520.6L560.4 519.6L560.8 516.4L561.3 514.5L561.7 511.6L562.2 507.7L562.6 506.8L563.0 507.0L563.5 504.7L563.9 505.9L564.3 500.3L564.7 499.2L565.1 498.0L565.5 494.0L566.0 491.3L566.4 489.5L566.8 489.4L567.2 491.2L567.6 492.4L568.0 495.5L568.5 499.0L568.9 503.8L569.3 508.2L569.7 512.6L570.1 516.9L570.5 520.7L570.9 523.8L571.4 525.4L571.8 526.2L572.2 526.2L572.6 523.3L573.0 519.4L573.4 515.3L573.8 508.8L574.2 501.6L574.6 494.9L575.0 487.9L575.4 482.9L575.8 477.9L576.2 476.4L576.6 473.8L577.0 475.9L577.5 481.6L577.9 487.9L578.3 497.7L578.7 505.5L579.1 512.8L579.5 520.2L580.0 523.4L580.4 523.5L580.8 522.9L581.2 520.6L581.6 516.8L582.1 512.3L582.5 507.5L582.9 501.5L583.3 498.1L583.7 493.9L584.2 490.1L584.6 492.0L585.0 492.5L585.4 492.3L585.8 495.9L586.3 500.1L586.7 502.7L587.1 507.2L587.5 509.6L587.9 512.6L588.4 513.3L588.8 515.4L589.2 514.8L589.6 515.2L590.0 510.8L590.5 509.7L590.9 506.4L591.3 500.8L591.7 494.8L592.2 489.8L592.6 484.3L593.0 480.8L593.4 479.0L593.8 478.5L594.2 479.9L594.6 481.7L595.0 485.7L595.4 489.7L595.8 494.9L596.2 500.3L596.7 505.5L597.1 509.6L597.5 512.7L597.9 515.5L598.3 516.1L598.7 515.3L599.1 513.7L599.5 511.1L599.9 507.7L600.3 503.6L600.7 498.5L601.1 494.6L601.5 489.5L601.9 485.2L602.3 481.9L602.7 479.1L603.1 477.9L603.6 477.1L604.0 477.5L604.4 479.2L604.8 482.0L605.3 485.6L605.7 490.1L606.1 494.5L606.5 499.8L607.0 504.2L607.4 508.6L607.8 512.6L608.2 515.0L608.6 517.1L609.1 518.2L609.5 517.3L609.9 514.9L610.3 511.2L610.8 506.2L611.2 500.7L611.6 494.8L612.0 489.1L612.4 484.9L612.9 480.7L613.3 478.4L613.7 478.0L614.1 478.7L614.5 480.4L614.9 483.7L615.3 488.1L615.7 492.8L616.1 498.5L616.5 503.7L616.9 508.8L617.4 513.2L617.8 516.5L618.2 518.8L618.6 519.4L619.0 517.9L619.4 516.1L619.8 511.9L620.2 506.9L620.6 501.8L621.0 495.7L621.4 490.1L621.8 485.5L622.2 481.2L622.6 478.7L623.0 478.1L623.4 478.9L623.8 480.9L624.2 483.9L624.6 488.7L625.0 494.2L625.4 500.5L625.8 506.1L626.2 511.5L626.6 516.2L627.0 519.5L627.4 521.8L627.8 522.7L628.3 521.6L628.7 519.4L629.1 515.6L629.5 510.2L629.9 504.6L630.4 498.4L630.8 492.3L631.2 486.6L631.6 482.6L632.1 480.3L632.5 479.4L632.9 479.8L633.3 481.9L633.7 485.0L634.1 488.4L634.5 492.7L634.9 497.6L635.3 501.5L635.7 505.6L636.1 509.1L636.5 511.9L636.9 514.2L637.3 514.5L637.7 513.7L638.1 511.9L638.5 509.2L638.9 505.5L639.4 500.8L639.8 496.3L640.2 491.3L640.6 487.1L641.0 483.4L641.4 480.5L641.8 478.6L642.2 478.0L642.6 478.8L643.0 480.5L643.4 484.0L643.9 488.2L644.3 493.1L644.7 497.8L645.1 502.6L645.6 506.9L646.0 510.1L646.4 512.3L646.8 513.3L647.2 512.9L647.6 511.3L648.0 509.2L648.4 505.8L648.8 502.7L649.2 498.4L649.7 494.5L650.1 490.3L650.5 487.2L650.9 484.8L651.3 483.4L651.7 482.5L652.1 484.1L652.5 486.6L652.9 490.4L653.3 495.5L653.8 500.3L654.2 504.9L654.6 508.5L655.0 511.2L655.4 512.0L655.9 511.2L656.3 508.4L656.8 504.5L657.2 499.7L657.6 494.5L658.1 489.2L658.5 485.3L659.0 482.2L659.4 481.0L659.8 482.0L660.2 483.6L660.6 487.1L661.0 491.3L661.4 495.7L661.8 500.7L662.2 506.0L662.6 509.7L663.0 513.0L663.4 515.3L663.8 516.0L664.2 515.4L664.6 513.4L665.0 509.4L665.4 505.8L665.8 500.0L666.2 494.4L666.7 489.1L667.1 483.7L667.5 478.9L667.9 475.7L668.3 473.2L668.7 472.6L669.1 472.6L669.5 474.8L669.9 479.1L670.4 484.2L670.8 490.7L671.2 498.2L671.6 504.8L672.1 511.4L672.5 518.7L672.9 527.0L673.3 530.3L673.8 534.5L674.2 535.9L674.6 536.7L675.0 535.8L675.4 531.8L675.8 526.8L676.2 519.8L676.7 512.9L677.1 507.8L677.5 501.3L677.9 495.2L678.3 488.5L678.7 483.1L679.1 482.6L679.5 480.8L679.9 476.6L680.3 480.3L680.7 481.2L681.2 485.3L681.6 484.3L682.0 488.0L682.4 495.9L682.8 496.8L683.2 503.3L683.6 507.2L684.0 511.1L684.4 513.1L684.8 518.4L685.2 521.5L685.7 520.1L686.1 517.6L686.5 512.0L686.9 509.3L687.3 501.6L687.8 496.2L688.2 486.5L688.6 484.6L689.0 478.4L689.5 477.9L689.9 475.8L690.3 473.0L690.7 475.4L691.1 478.6L691.5 480.5L691.9 485.2L692.3 488.5L692.7 494.7L693.1 499.7L693.5 506.5L693.9 511.2L694.3 511.1L694.7 509.9L695.1 506.4L695.5 506.3L696.0 502.3L696.4 496.8L696.8 494.5L697.2 494.7L697.6 492.9L698.0 497.4L698.4 497.4L698.8 500.2L699.3 507.0L699.7 516.6L700.1 518.4L700.5 525.8L700.9 528.4L701.3 531.2L701.8 529.5L702.2 526.6L702.6 525.6L703.0 521.3L703.5 518.1L703.9 511.3L704.3 509.2L704.7 501.0L705.2 497.4L705.6 492.1L706.0 490.8L706.4 489.3L706.9 489.2L707.3 491.6L707.7 492.3L708.1 496.5L708.5 505.4L709.0 509.1L709.4 513.5L709.8 520.0L710.2 521.4L710.6 516.3L711.1 518.9L711.5 519.2L711.9 517.5L712.4 513.6L712.8 515.1L713.3 509.8L713.7 509.2L714.2 508.9L714.6 508.8L715.0 511.4L715.5 514.0L715.9 514.5L716.4 518.2L716.8 515.1L717.2 515.0L717.6 516.2L718.1 510.9L718.5 508.7L718.9 501.9L719.3 497.1L719.8 491.9L720.2 487.1L720.6 482.0L721.0 478.8L721.5 477.1L721.9 476.3L722.3 475.0L722.7 476.6L723.1 479.9L723.6 483.6L724.0 489.6L724.4 498.0L724.8 505.1L725.2 511.8L725.6 518.5L726.0 524.0L726.5 528.3L726.9 531.6L727.3 532.2L727.7 531.9L728.1 528.6L728.5 524.2L728.9 518.5L729.3 511.6L729.7 504.0L730.1 497.4L730.5 490.9L730.9 486.2L731.3 483.4L731.7 482.6L732.1 483.0L732.5 485.5L732.9 489.1L733.3 493.6L733.7 499.4L734.1 505.6L734.5 511.1L734.9 516.7L735.3 521.5L735.7 524.8L736.2 527.6L736.6 528.4L737.0 527.4L737.4 524.7L737.8 520.2L738.2 514.7L738.6 508.4L739.0 501.8L739.4 495.2L739.8 489.4L740.2 484.3L740.6 479.9L741.0 477.7L741.4 476.5L741.8 477.6L742.3 480.0L742.7 483.8L743.1 489.3L743.5 495.1L743.9 501.1L744.4 507.0L744.8 512.1L745.2 516.3L745.6 518.7L746.0 519.6L746.5 518.4L746.9 516.3L747.3 512.6L747.7 507.9L748.2 502.2L748.6 496.0L749.0 489.8L749.4 483.9L749.9 479.5L750.3 476.1L750.7 473.9L751.1 472.3L751.5 473.6L751.9 476.2L752.3 479.9L752.8 485.2L753.2 491.1L753.6 497.6L754.0 504.4L754.4 510.5L754.8 516.6L755.2 521.5L755.6 525.6L756.0 527.4L756.4 528.4L756.8 527.9L757.3 525.6L757.7 522.5L758.1 517.7L758.5 512.6L759.0 506.8L759.4 501.1L759.8 495.0L760.2 489.8L760.7 485.2L761.1 481.9L761.5 480.1L761.9 479.2L762.3 479.7L762.8 480.7L763.2 483.4L763.6 486.5L764.0 488.3L764.4 493.7L764.8 496.7L765.2 500.4L765.6 503.1L766.0 506.4L766.4 506.4L766.8 507.6L767.2 507.4L767.6 507.6L768.0 506.4L768.4 503.3L768.8 499.5L769.2 494.8L769.6 490.1L770.0 489.9L770.4 487.3L770.8 486.0L771.2 486.3L771.6 483.8L772.0 483.5L772.5 481.0L772.9 485.4L773.3 486.3L773.7 487.8L774.1 492.1L774.5 493.5L774.9 496.9L775.4 502.2L775.8 502.5L776.2 504.0L776.6 504.7L777.0 505.0L777.4 504.6L777.8 506.9L778.2 503.1L778.6 502.4L779.0 498.9L779.4 496.1L779.8 490.9L780.2 489.0L780.6 491.0L781.0 488.8L781.4 484.8L781.9 484.2L782.3 484.7L782.7 483.4L783.1 488.8L783.6 488.5L784.0 492.7L784.5 493.7L784.9 501.6L785.3 501.4L785.8 503.6L786.2 500.0L786.7 501.3L787.1 500.8L787.5 501.1L788.0 503.7L788.4 504.8L788.9 504.9L789.3 503.9L789.8 506.3L790.2 507.1L790.6 505.5L791.0 503.7L791.4 500.8L791.9 495.7L792.3 493.3L792.7 491.3L793.1 485.0L793.5 484.4L794.0 484.7L794.4 483.4L794.8 488.7L795.3 492.5L795.7 500.2L796.2 506.0L796.6 512.6L797.0 517.6L797.5 520.5L797.9 521.3L798.3 518.7L798.7 518.9L799.1 514.0L799.5 509.0L799.9 504.0L800.3 498.9L800.7 493.4L801.1 489.1L801.5 485.4L801.9 483.3L802.3 482.2L802.8 483.6L803.2 487.1L803.6 492.5L804.1 499.8L804.5 507.3L804.9 514.9L805.3 522.3L805.8 527.8L806.2 531.4L806.6 532.8L807.0 532.1L807.4 528.5L807.8 523.4L808.2 516.7L808.6 509.5L809.0 501.4L809.4 493.6L809.8 486.9L810.2 482.0L810.6 478.8L811.0 477.1L811.4 478.2L811.8 481.2L812.2 485.7L812.6 490.9L813.0 497.7L813.4 504.8L813.8 511.1L814.2 517.0L814.6 521.5L815.1 524.3L815.5 525.6L815.9 524.9L816.3 522.1L816.7 518.7L817.1 514.0L817.5 508.1L817.9 502.2L818.3 495.7L818.7 490.3L819.1 484.9L819.5 481.6L819.9 478.6L820.3 477.7L820.7 478.5L821.1 481.0L821.5 484.6L821.9 489.2L822.3 494.5L822.7 500.1L823.1 505.4L823.5 509.7L823.9 513.5L824.3 515.3L824.7 516.0L825.2 515.0L825.6 512.9L826.0 508.7L826.5 504.1L826.9 499.9L827.4 495.6L827.8 491.7L828.3 488.0L828.7 487.2L829.1 487.6L829.5 488.4L829.9 489.7L830.3 493.7L830.7 496.7L831.1 501.2L831.5 508.2L831.9 510.7L832.3 511.5L832.7 513.2L833.1 515.8L833.5 514.2L833.9 513.4L834.3 508.6L834.7 504.4L835.1 499.6L835.5 492.6L835.9 486.1L836.3 481.7L836.7 478.0L837.1 475.7L837.5 474.8L837.9 475.4L838.3 478.2L838.7 480.6L839.1 488.0L839.5 494.6L839.9 499.2L840.3 505.2L840.7 511.8L841.1 515.5L841.5 517.7L841.9 518.0L842.4 516.2L842.8 513.0L843.2 511.0L843.6 506.9L844.0 499.5L844.5 495.5L844.9 491.0L845.3 485.9L845.7 482.0L846.2 479.8L846.6 477.0L847.0 479.3L847.4 480.9L847.8 486.2L848.2 489.2L848.6 492.9L849.0 498.3L849.4 504.6L849.8 509.1L850.2 512.2L850.6 515.2L851.0 516.6L851.4 518.0L851.9 517.5L852.3 515.3L852.7 512.8L853.1 507.7L853.6 503.4L854.0 498.3L854.4 493.1L854.8 488.5L855.2 483.5L855.7 480.1L856.1 478.1L856.5 477.1L856.9 477.1L857.3 478.0L857.7 481.4L858.1 482.8L858.5 486.9L859.0 493.0L859.4 498.1L859.8 502.1L860.2 504.8L860.6 508.7L861.0 511.6L861.4 513.0L861.8 514.2L862.2 515.9L862.6 514.1L863.0 512.2L863.4 511.5L863.8 510.1L864.2 511.6L864.6 505.5L865.0 505.5L865.5 500.2L865.9 497.5L866.3 494.0L866.7 494.6L867.1 491.5L867.5 493.5L867.9 487.8L868.3 486.9L868.7 488.5L869.1 488.5L869.5 488.3L869.9 488.2L870.3 495.3L870.7 497.6L871.1 501.1L871.5 503.8L871.9 509.3L872.3 511.4L872.7 515.1L873.1 517.0L873.5 520.0L874.0 518.1L874.4 517.3L874.8 516.9L875.2 512.6L875.6 508.2L876.0 503.3L876.4 500.1L876.8 493.7L877.2 491.6L877.6 491.2L878.0 488.1L878.4 486.5L878.8 486.7L879.2 489.8L879.6 490.2L880.0 492.5L880.4 497.0L880.8 500.6L881.2 507.3L881.6 508.7L882.0 516.1L882.4 515.7L882.8 517.9L883.2 518.1L883.6 515.5L884.0 513.1L884.4 507.7L884.9 502.9L885.3 502.8L885.7 499.0L886.1 499.4L886.5 500.3L887.0 497.4L887.4 495.1L887.9 492.9L888.3 493.0L888.7 492.7L889.1 490.5L889.5 492.1L889.9 489.5L890.3 489.7L890.7 487.2L891.1 487.1L891.5 485.4L891.9 483.4L892.3 482.8L892.7 483.6L893.2 486.4L893.6 488.1" fill="none" stroke="#808080" stroke-width="2.4" stroke-linejoin="round"/><path d="M253.2 642.2L253.6 640.6L254.1 641.4L254.5 642.4L254.9 648.2L255.4 652.7L255.8 655.6L256.3 660.0L256.7 661.7L257.2 664.1L257.6 663.2L258.0 663.6L258.4 660.8L258.8 657.9M300.2 681.4L300.6 680.0L301.1 681.0L301.5 680.7L301.9 683.8L302.3 689.4L302.8 694.3L303.2 696.1L303.6 702.8L304.0 710.9L304.5 716.7L304.9 726.1L305.3 726.8L305.7 729.2L306.2 727.8L306.6 728.8L307.0 728.4L307.4 727.8L307.8 722.1L308.2 721.2L308.6 713.5L309.0 711.9L309.4 706.0L309.8 699.7L310.2 697.9L310.7 692.7L311.1 687.1L311.5 682.1L311.9 679.8L312.3 672.0L312.7 669.4L313.1 663.6L313.5 662.8L313.9 659.3L314.3 658.7L314.8 661.1L315.2 662.4L315.7 661.2L316.1 664.4L316.5 664.3L317.0 669.5L317.4 672.1L317.9 669.2L318.3 669.2L318.7 670.6L319.1 666.3L319.5 664.4L319.9 662.7L320.3 655.3L320.7 650.9L321.1 649.0L321.5 640.6L321.9 636.8L322.3 630.8L322.7 624.4L323.1 624.2L323.6 610.3L324.0 605.2L324.4 595.7L324.8 593.1L325.2 591.5L325.6 594.2L326.0 596.3L326.4 599.6L326.9 596.6L327.3 607.5L327.7 612.2L328.1 616.4L328.6 621.2L329.0 626.4L329.4 632.4L329.8 640.6L330.3 652.3L330.7 651.3L331.1 651.4L331.5 644.8L332.0 646.2L332.4 640.6L332.8 640.6L333.2 638.5L333.6 638.6L334.0 634.7L334.5 631.2L334.9 627.2L335.3 625.0L335.7 621.8L336.1 620.6L336.5 620.9L336.9 618.9L337.4 609.7L337.8 605.4L338.2 605.6L338.6 601.1L339.0 606.4L339.4 607.8L339.9 605.1L340.3 612.1L340.7 617.9L341.1 619.7L341.5 621.0L341.9 623.0L342.3 625.8L342.7 625.8L343.2 632.1L343.6 634.5L344.0 636.8L344.4 640.1L344.8 647.6L345.2 647.8L345.6 652.0L346.1 647.4L346.5 651.3L346.9 653.9L347.3 657.0L347.7 659.5L348.1 657.7L348.5 656.1L349.0 654.4L349.4 655.2L349.8 657.1L350.2 656.8L350.6 654.2L351.0 650.2L351.4 645.8L351.8 645.2L352.3 647.1L352.7 645.5L353.1 645.2L353.5 643.0L353.9 641.8L354.3 639.8L354.7 637.2L355.1 638.4L355.6 639.0L356.0 645.3L356.4 648.9L356.9 650.9L357.3 656.0L357.7 663.1L358.1 667.2L358.6 677.4L359.0 681.8L359.4 686.3L359.8 691.4L360.3 692.8L360.7 690.6L361.1 689.9L361.5 683.8L361.9 682.1L362.3 678.5L362.8 673.7L363.2 673.5L363.6 671.0L364.0 660.0L364.4 654.6L364.8 650.1L365.2 641.6L365.7 636.5L366.1 631.3L366.5 630.0L366.9 626.1L367.3 626.8L367.7 624.6L368.1 623.7L368.5 623.9L368.9 629.2L369.3 636.4L369.7 641.5L370.1 648.2L370.5 653.0L370.9 661.6L371.4 668.0L371.8 674.6L372.2 677.1L372.6 681.9L373.0 689.2M387.9 756.4L388.3 753.9L388.7 741.3L389.1 732.1L389.5 721.2L389.9 708.3L390.3 699.3L390.8 686.6L391.2 675.3L391.6 668.4L392.0 660.7L392.4 656.8L392.8 651.9L393.2 651.6L393.7 652.8L394.1 653.7L394.5 656.3L394.9 661.8L395.4 669.4L395.8 674.3L396.2 682.3L396.6 692.5L397.1 699.4M414.7 733.6L415.1 732.7L415.5 732.6L415.9 727.8L416.4 723.9L416.8 716.1L417.2 709.2L417.6 701.0L418.0 695.7L418.5 689.8L418.9 687.6L419.3 681.1L419.7 682.0L420.2 684.4L420.6 685.9L421.0 685.7L421.4 692.9L421.9 696.5L422.3 705.6L422.7 708.5L423.1 714.6L423.6 716.3L424.0 720.8L424.4 718.7L424.8 722.9L425.3 725.5L425.7 724.2L426.1 724.7L426.5 718.2L427.0 712.6L427.4 699.7L427.8 691.1L428.2 684.4L428.7 676.1L429.1 672.2L429.5 667.4L429.9 661.7L430.3 659.3L430.8 657.7L431.2 654.9L431.6 649.9L432.0 643.4L432.4 636.4L432.8 630.4L433.3 625.3L433.7 617.0L434.1 616.6L434.5 617.7L434.9 618.7L435.3 614.7L435.8 617.9L436.2 617.8L436.6 612.5L437.0 616.4L437.4 616.2L437.8 615.1L438.3 612.6L438.7 612.2L439.2 607.1L439.6 604.1L440.1 598.5L440.5 593.0L441.0 595.2L441.4 594.2L441.8 591.4L442.2 585.4L442.6 579.9L443.0 570.2L443.4 559.4L443.8 547.9L444.2 542.3L444.6 534.2L445.0 534.6L445.4 532.3M451.9 519.3L452.3 515.6L452.8 514.2L453.2 510.5L453.6 505.6L454.0 502.8L454.5 502.3L454.9 499.8L455.3 501.2L455.8 502.1L456.2 499.5L456.6 498.1L457.1 495.1L457.5 493.1L458.0 491.4L458.4 494.3L458.9 488.8L459.3 488.4L459.7 486.4L460.2 484.6L460.6 481.4L461.1 478.9L461.5 487.3L461.9 484.1L462.3 490.3L462.7 490.4L463.1 496.0L463.5 495.1L463.9 503.3L464.4 505.5L464.8 506.5L465.2 516.0L465.6 511.0L466.0 513.3L466.4 514.6L466.8 510.9L467.2 513.9L467.6 512.0L468.1 511.2L468.5 514.6L468.9 511.9L469.3 509.5L469.8 509.5L470.2 504.0L470.6 499.3L471.0 499.9L471.5 506.6L471.9 507.5L472.3 500.9L472.8 505.8L473.2 507.8L473.6 506.2L474.1 508.6L474.5 504.5L475.0 504.0L475.4 504.7L475.8 501.3L476.3 500.1L476.7 499.5L477.2 497.5L477.6 498.0L478.1 498.5L478.5 499.1L478.9 499.0L479.3 507.2L479.7 505.0L480.1 510.5L480.5 514.8L481.0 519.8L481.4 517.5L481.8 519.6L482.2 514.2L482.6 509.8L483.0 507.4L483.4 504.3L483.9 502.1L484.3 496.9L484.7 501.1L485.1 501.5L485.5 500.3L486.0 500.6L486.4 500.5L486.8 501.4L487.2 504.3L487.7 506.3L488.1 502.9L488.5 504.8L488.9 507.4L489.3 505.2L489.8 512.9L490.2 512.5L490.6 515.6L491.0 511.7L491.4 507.9L491.8 505.5L492.2 502.6L492.6 497.2L493.0 499.2L493.4 498.8L493.8 498.7L494.2 504.0L494.6 503.9L495.0 503.9L495.4 502.2L495.8 501.6L496.2 502.4L496.6 508.5L497.0 513.8L497.4 521.2L497.8 524.9L498.2 530.3L498.6 531.2L499.0 524.8L499.5 522.9L499.9 521.7L500.4 511.7L500.8 507.4L501.2 504.2L501.7 501.2L502.1 503.5L502.5 502.3L502.9 503.1L503.4 504.4L503.8 510.6L504.2 514.8L504.6 520.1L505.0 524.9L505.4 531.0L505.8 533.1L506.3 537.9M520.9 539.5L521.3 537.2L521.7 537.4L522.1 538.6L522.5 537.8L522.9 532.3L523.3 530.2L523.7 530.2L524.1 522.9L524.5 520.6L524.9 518.0L525.3 513.3L525.7 510.9L526.1 506.9L526.5 502.2L526.9 497.3L527.3 491.3L527.7 489.8L528.1 488.5L528.5 489.0L528.9 486.7L529.3 485.9L529.7 488.9L530.1 485.9L530.5 486.5L531.0 488.2L531.4 492.2L531.8 494.5L532.2 497.5L532.6 498.0L533.0 497.1L533.5 496.4L533.9 492.2L534.3 493.7L534.8 487.4L535.2 490.7L535.7 489.4L536.1 492.0L536.5 495.0L536.9 493.1L537.3 501.2L537.8 503.8L538.2 506.8L538.6 510.1L539.0 514.1L539.5 512.6L539.9 518.5L540.3 517.2L540.7 519.5L541.2 517.6L541.6 514.0L542.0 509.9L542.4 504.3L542.8 501.9L543.3 494.6L543.7 490.3L544.1 486.4L544.5 484.5L545.0 483.5L545.4 484.7L545.8 482.5L546.2 483.1L546.7 486.1L547.1 488.3L547.5 492.1L547.9 497.5L548.4 501.4L548.8 505.0L549.2 507.0L549.6 512.4L550.1 515.1L550.5 518.6L550.9 519.3L551.3 519.4L551.8 520.1L552.2 518.4L552.6 516.6L553.0 515.4L553.4 511.3L553.8 508.6L554.2 503.7L554.6 498.9L555.0 500.1L555.4 498.2L555.8 492.2L556.2 491.4L556.6 494.0L557.0 495.8L557.4 498.3L557.9 508.3L558.3 512.8L558.7 517.1L559.1 519.9L559.5 516.4L560.0 514.2L560.4 514.2L560.8 512.8L561.3 510.2L561.7 510.6L562.2 509.0L562.6 509.7L563.0 507.1L563.5 506.9L563.9 506.3L564.3 501.6L564.7 499.3L565.1 497.4M575.8 482.2L576.2 480.2L576.6 478.1L577.0 481.2L577.5 486.7L577.9 491.8L578.3 498.6L578.7 504.0L579.1 514.7L579.5 519.7L580.0 520.6L580.4 521.6L580.8 516.4L581.2 517.9L581.6 512.4L582.1 510.9L582.5 509.7L582.9 500.9L583.3 498.5L583.7 492.1L584.2 487.9L584.6 490.6L585.0 491.4L585.4 493.4L585.8 498.6L586.3 499.7L586.7 500.7L587.1 502.1L587.5 505.4L587.9 504.5L588.4 508.6L588.8 515.3L589.2 514.4L589.6 515.7L590.0 512.8L590.5 507.7L590.9 503.9M671.6 504.5L672.1 511.0L672.5 518.2L672.9 523.0L673.3 529.6L673.8 534.7L674.2 536.0L674.6 537.2L675.0 533.7L675.4 532.6L675.8 525.8L676.2 518.9L676.7 513.1L677.1 506.6L677.5 501.5L677.9 495.9L678.3 495.3L678.7 489.3L679.1 484.3L679.5 481.2L679.9 478.8L680.3 480.6L680.7 480.2L681.2 483.2L681.6 485.5L682.0 492.7L682.4 496.3L682.8 499.9L683.2 504.1L683.6 503.3L684.0 513.4L684.4 519.0L684.8 519.4L685.2 515.0L685.7 515.7L686.1 513.1L686.5 507.7L686.9 503.2L687.3 500.3L687.8 492.2L688.2 493.5L688.6 486.2L689.0 481.6L689.5 477.6L689.9 476.0L690.3 479.8L690.7 477.9L691.1 481.6L691.5 480.8L691.9 486.1L692.3 487.1L692.7 494.7L693.1 495.8L693.5 498.1L693.9 505.4L694.3 507.2L694.7 512.3L695.1 510.5L695.5 505.6L696.0 501.6L696.4 497.1L696.8 495.7L697.2 493.0L697.6 491.8L698.0 497.1L698.4 497.5L698.8 500.8L699.3 507.4L699.7 511.0L700.1 518.5L700.5 519.1L700.9 524.8L701.3 525.9L701.8 525.9L702.2 526.7L702.6 522.4L703.0 520.6L703.5 513.3L703.9 505.0L704.3 502.8L704.7 504.4L705.2 497.3L705.6 496.1L706.0 492.3L706.4 493.9L706.9 491.1L707.3 489.9L707.7 489.5L708.1 494.6L708.5 504.6L709.0 508.6L709.4 512.5L709.8 524.3L710.2 525.9L710.6 521.5L711.1 521.9L711.5 520.0L711.9 517.6L712.4 519.0L712.8 516.4L713.3 509.5L713.7 506.5L714.2 504.6L714.6 502.6L715.0 502.1L715.5 509.4L715.9 510.6L716.4 516.8L716.8 513.6L717.2 517.0L717.6 518.0L718.1 514.5L718.5 506.6L718.9 498.1L719.3 499.3L719.8 496.4L720.2 491.0L720.6 487.0L721.0 481.0L721.5 478.8L721.9 475.6L722.3 474.4M766.0 505.0L766.4 507.4L766.8 505.6L767.2 506.9L767.6 504.9L768.0 504.0L768.4 500.6L768.8 498.3L769.2 491.4L769.6 488.7L770.0 489.5L770.4 488.3L770.8 485.0L771.2 486.3L771.6 485.0L772.0 485.8L772.5 486.3L772.9 485.2L773.3 489.6L773.7 495.6L774.1 496.8L774.5 496.3L774.9 498.1L775.4 499.1L775.8 498.6L776.2 497.6L776.6 504.9L777.0 504.0L777.4 504.3L777.8 502.9L778.2 501.9L778.6 500.3L779.0 501.5L779.4 497.1L779.8 496.2L780.2 493.4L780.6 493.8L781.0 490.9L781.4 486.0L781.9 489.3L782.3 488.4L782.7 488.6L783.1 489.2L783.6 497.7L784.0 500.1L784.5 501.3L784.9 503.9L785.3 508.0L785.8 505.7L786.2 505.5L786.7 503.5L787.1 504.5L787.5 501.8L788.0 502.8L788.4 500.5L788.9 503.1L789.3 499.2L789.8 500.1L790.2 502.0L790.6 502.7L791.0 499.7L791.4 501.1L791.9 498.7L792.3 495.3L792.7 490.5L793.1 490.3L793.5 488.9L794.0 486.1L794.4 486.4L794.8 491.9L795.3 498.6L795.7 505.8L796.2 509.2L796.6 515.1L797.0 517.6M831.9 511.2L832.3 512.7L832.7 515.1L833.1 515.9L833.5 514.5L833.9 512.5L834.3 511.7L834.7 504.9L835.1 500.0L835.5 494.7L835.9 487.9L836.3 485.9L836.7 479.8L837.1 477.6L837.5 476.6L837.9 478.2L838.3 480.5L838.7 482.2L839.1 485.4L839.5 490.2L839.9 494.0L840.3 501.1L840.7 507.5L841.1 512.3L841.5 514.6L841.9 517.1L842.4 515.3L842.8 515.8L843.2 511.2L843.6 508.9L844.0 501.2L844.5 497.3L844.9 492.6L845.3 486.3L845.7 483.4L846.2 480.7L846.6 479.2L847.0 480.9L847.4 483.1L847.8 486.4L848.2 489.6M859.0 492.8L859.4 499.4L859.8 502.6L860.2 509.4L860.6 513.1L861.0 512.1L861.4 515.8L861.8 512.5L862.2 511.8L862.6 511.4L863.0 507.6L863.4 507.1L863.8 504.6L864.2 505.6L864.6 505.6L865.0 501.8L865.5 502.5L865.9 500.7L866.3 498.0L866.7 497.4L867.1 495.1L867.5 490.5L867.9 490.6L868.3 489.8L868.7 489.4L869.1 491.8L869.5 490.8L869.9 490.0L870.3 497.2L870.7 500.5L871.1 506.4L871.5 506.4L871.9 510.2L872.3 509.4L872.7 510.5L873.1 513.4L873.5 516.3L874.0 517.4L874.4 518.9L874.8 517.0L875.2 510.1L875.6 507.5L876.0 507.3L876.4 502.9L876.8 495.4L877.2 492.0L877.6 492.2L878.0 485.3L878.4 486.8L878.8 481.9L879.2 486.1L879.6 489.0L880.0 496.3L880.4 503.0L880.8 506.5L881.2 510.9L881.6 513.9L882.0 516.7L882.4 516.0L882.8 512.7L883.2 512.0L883.6 513.7L884.0 511.6L884.4 510.1L884.9 505.4L885.3 502.4L885.7 498.2L886.1 498.1L886.5 498.8L887.0 496.9L887.4 494.1L887.9 497.4L888.3 495.0L888.7 495.1L889.1 494.2L889.5 492.6L889.9 489.0L890.3 489.5L890.7 486.0L891.1 485.2L891.5 488.4L891.9 487.0L892.3 486.6" fill="none" stroke="#808080" stroke-width="2.2" stroke-linejoin="round"/><path d="M83.3 671.7L83.7 672.4L84.1 674.4L84.6 677.5L85.0 681.1L85.4 684.6L85.8 687.7L86.2 689.7L86.6 690.4L87.1 691.3L87.5 693.6L87.9 697.2L88.4 701.7L88.8 706.4L89.3 710.8L89.7 714.4L90.2 716.8L90.6 717.6L91.0 716.9L91.4 714.9L91.9 711.7L92.3 707.5L92.7 702.4L93.2 696.7L93.6 690.8L94.0 684.8L94.4 679.1L94.9 674.0L95.3 669.8L95.7 666.6L96.1 664.6L96.6 664.0L97.0 664.9L97.4 667.5L97.8 671.8L98.2 677.2L98.6 683.4L99.0 689.8L99.4 696.0L99.8 701.4L100.2 705.6L100.6 708.3L101.0 709.2L101.4 708.4L101.8 706.1L102.2 702.4L102.7 697.5L103.1 691.8L103.5 685.4L103.9 678.9L104.4 672.6L104.8 666.8L105.2 661.9L105.6 658.2L106.1 655.9L106.5 655.1L106.9 655.8L107.3 657.9L107.8 661.1L108.2 665.5L108.6 670.7L109.0 676.6L109.5 682.7L109.9 688.9L110.3 694.7L110.7 699.9L111.2 704.3L111.6 707.6L112.0 709.6L112.5 710.3L112.9 709.5L113.3 707.1L113.7 703.3L114.1 698.4L114.6 692.8L115.0 687.0L115.4 681.4L115.8 676.5L116.2 672.7L116.7 670.3L117.1 669.5L117.5 670.6L117.9 673.7L118.3 678.8L118.7 685.4L119.1 693.0L119.5 701.3L119.9 709.5L120.3 717.2L120.7 723.7L121.1 728.8L121.5 732.0L121.9 733.0L122.4 731.8L122.8 728.2L123.2 722.5L123.6 714.8L124.1 705.6L124.5 695.3L124.9 684.5L125.3 673.7L125.8 663.4L126.2 654.2L126.6 646.5L127.1 640.7L127.5 637.1L127.9 635.9L128.3 636.9L128.7 639.9L129.2 644.5L129.6 650.7L130.0 657.8L130.4 665.4L130.9 673.0L131.3 680.1L131.7 686.2L132.1 690.9L132.6 693.9L133.0 694.9L133.4 693.9L133.8 691.1L134.3 686.5L134.7 680.6L135.1 673.5L135.5 665.7L136.0 657.8L136.4 650.0L136.8 642.9L137.2 637.0L137.6 632.4L138.1 629.6L138.5 628.6L138.9 629.7L139.3 633.0L139.7 638.3L140.1 645.3L140.6 653.9L141.0 663.5L141.4 673.8L141.8 684.3L142.2 694.7L142.6 704.3L143.0 712.8L143.4 719.9L143.9 725.2L144.3 728.4L144.7 729.5L145.1 728.5L145.5 725.6L146.0 720.9L146.4 714.7L146.8 707.4L147.2 699.4L147.7 691.2L148.1 683.2L148.5 675.9L148.9 669.7L149.3 665.0L149.8 662.1L150.2 661.1L150.6 662.3L151.0 665.8L151.4 671.4L151.8 678.9L152.2 687.7L152.6 697.3L153.1 707.2L153.5 716.9L153.9 725.6L154.3 733.1L154.7 738.7L155.1 742.2L155.5 743.4L155.9 742.1L156.3 738.2L156.8 732.0L157.2 723.7L157.6 714.0L158.0 703.3L158.5 692.3L158.9 681.7L159.3 671.9L159.7 663.7L160.2 657.5L160.6 653.6L161.0 652.3L161.4 653.1L161.9 655.7L162.3 659.8L162.7 665.3L163.1 671.7L163.6 678.8L164.0 686.0L164.4 693.1L164.8 699.5L165.3 704.9L165.7 709.1L166.1 711.6L166.5 712.5L167.0 711.5L167.4 708.4L167.8 703.5L168.2 697.1L168.6 689.6L169.1 681.6L169.5 673.6L169.9 666.2L170.3 659.8L170.8 654.8L171.2 651.8L171.6 650.7L172.0 651.8L172.5 655.0L172.9 660.2L173.3 667.0L173.7 675.3L174.2 684.4L174.6 694.1L175.0 703.7L175.4 712.9L175.9 721.1L176.3 728.0L176.7 733.2L177.1 736.4L177.6 737.5L178.0 736.3L178.4 732.8L178.8 727.2L179.3 719.9L179.7 711.4L180.1 702.4L180.5 693.3L181.0 684.8L181.4 677.5L181.8 672.0L182.2 668.5L182.6 667.3L183.1 668.3L183.5 671.2L183.9 675.9L184.3 682.0L184.8 689.3L185.2 697.4L185.6 705.6L186.0 713.6L186.5 720.9L186.9 727.1L187.3 731.8L187.7 734.7L188.2 735.7L188.6 734.3L189.0 730.4L189.4 724.0L189.9 715.7L190.3 705.8L190.7 694.9L191.1 683.7L191.6 672.9L192.0 663.0L192.4 654.6L192.8 648.3L193.3 644.3L193.7 643.0L194.1 644.1L194.5 647.2L195.0 652.3L195.4 659.0L195.8 666.8L196.2 675.5L196.7 684.4L197.1 693.1L197.5 701.0L197.9 707.6L198.4 712.7L198.8 715.9L199.2 716.9L199.6 715.7L200.1 712.3L200.5 706.6L200.9 699.1L201.3 690.2L201.8 680.2L202.2 669.7L202.6 659.2L203.0 649.2L203.5 640.2L203.9 632.8L204.3 627.1L204.7 623.6L205.2 622.5L205.6 623.3L206.0 625.8L206.4 629.9L206.8 635.3L207.2 641.9L207.6 649.4L208.1 657.3L208.5 665.5L208.9 673.5L209.3 680.9L209.7 687.5L210.1 692.9L210.5 697.0L210.9 699.5L211.3 700.4L211.8 699.5L212.2 697.0L212.6 693.0L213.0 687.7L213.5 681.3L213.9 674.2L214.3 666.7L214.8 659.2L215.2 652.1L215.6 645.7L216.0 640.4L216.5 636.4L216.9 633.9L217.3 633.0L217.7 633.7L218.1 635.8L218.5 639.1L219.0 643.6L219.4 649.0L219.8 655.2L220.2 661.9L220.6 668.9L221.0 675.9L221.4 682.6L221.9 688.8L222.3 694.3L222.7 698.7L223.1 702.1L223.5 704.1L223.9 704.8L224.3 704.1L224.8 702.2L225.2 699.1L225.6 694.9L226.0 689.9L226.4 684.2L226.8 678.1L227.2 671.9L227.6 665.8L228.1 660.1L228.5 655.0L228.9 650.9L229.3 647.8L229.7 645.8L230.1 645.2L230.5 646.1L230.9 648.9L231.3 653.3L231.7 659.3L232.1 666.5L232.5 674.6L232.9 683.3L233.3 692.3L233.8 701.0L234.2 709.1L234.6 716.3L235.0 722.3L235.4 726.7L235.8 729.5L236.2 730.4L236.6 729.7L237.0 727.7L237.4 724.5L237.8 720.3L238.2 715.3L238.6 709.8L239.0 704.2L239.4 698.7L239.8 693.7L240.3 689.5L240.7 686.3L241.1 684.3L241.5 683.6L241.9 684.6L242.3 687.5L242.7 692.1L243.2 697.9L243.6 704.6L244.0 711.6L244.4 718.3L244.9 724.2L245.3 728.7L245.7 731.6L246.1 732.6L246.5 731.9L246.9 729.8L247.4 726.4L247.8 721.8L248.2 716.1L248.6 709.4L249.0 702.1L249.5 694.3L249.9 686.3L250.3 678.2L250.7 670.4L251.1 663.1L251.5 656.5L252.0 650.8L252.4 646.1L252.8 642.7L253.2 640.6L253.6 639.9L254.1 640.8L254.5 643.2L254.9 646.9L255.4 651.3L255.8 655.6L256.3 659.3L256.7 661.8L257.2 662.6L257.6 662.2L258.0 660.7L258.4 658.2L258.8 654.9L259.2 650.8L259.6 646.0L260.0 640.5L260.4 634.7L260.8 628.5L261.2 622.1L261.6 615.8L262.1 609.6L262.5 603.8L262.9 598.3L263.3 593.5L263.7 589.4L264.1 586.0L264.5 583.6L264.9 582.1L265.3 581.6L265.7 582.3L266.1 584.2L266.5 587.2L266.9 591.1L267.3 595.7L267.7 600.6L268.2 605.5L268.6 610.1L269.0 614.0L269.4 617.1L269.8 619.0L270.2 619.6L270.6 619.2L271.0 617.8L271.4 615.7L271.8 612.7L272.2 609.2L272.6 605.0L273.0 600.5L273.4 595.8L273.8 590.9L274.2 586.1L274.6 581.6L275.0 577.5L275.4 573.9L275.8 571.0L276.2 568.8L276.6 567.5L277.0 567.1L277.4 567.5L277.9 568.9L278.3 571.2L278.7 574.3L279.1 578.1L279.5 582.5L279.9 587.4L280.4 592.6L280.8 598.0L281.2 603.3L281.6 608.5L282.0 613.4L282.4 617.8L282.9 621.6L283.3 624.7L283.7 627.0L284.1 628.4L284.5 628.9L284.9 628.3L285.4 626.6L285.8 623.8L286.2 620.4L286.6 616.4L287.1 612.2L287.5 608.3L287.9 604.8L288.3 602.0L288.7 600.3L289.2 599.7L289.6 600.6L290.0 603.3L290.4 607.7L290.8 613.6L291.2 620.9L291.7 629.2L292.1 638.4L292.5 648.0L292.9 657.8L293.3 667.5L293.7 676.6L294.1 685.0L294.6 692.3L295.0 698.2L295.4 702.5L295.8 705.2L296.2 706.1L296.6 705.6L297.0 704.2L297.4 701.9L297.8 698.9L298.2 695.5L298.6 692.0L299.0 688.6L299.4 685.7L299.8 683.4L300.2 681.9L300.6 681.4L301.1 682.0L301.5 683.9L301.9 686.8L302.3 690.7L302.8 695.3L303.2 700.3L303.6 705.5L304.0 710.6L304.5 715.2L304.9 719.0L305.3 722.0L305.7 723.8L306.2 724.5L306.6 724.1L307.0 722.9L307.4 721.0L307.8 718.5L308.2 715.2L308.6 711.5L309.0 707.3L309.4 702.7L309.8 697.9L310.2 693.0L310.7 688.1L311.1 683.3L311.5 678.7L311.9 674.5L312.3 670.8L312.7 667.6L313.1 665.0L313.5 663.1L313.9 661.9L314.3 661.5L314.8 661.8L315.2 662.5L315.7 663.6L316.1 664.9L316.5 666.1L317.0 667.2L317.4 667.9L317.9 668.2L318.3 667.7L318.7 666.4L319.1 664.3L319.5 661.4L319.9 657.8L320.3 653.6L320.7 648.9L321.1 643.9L321.5 638.6L321.9 633.3L322.3 628.0L322.7 623.0L323.1 618.3L323.6 614.1L324.0 610.5L324.4 607.6L324.8 605.5L325.2 604.1L325.6 603.7L326.0 604.2L326.4 605.7L326.9 608.1L327.3 611.3L327.7 615.1L328.1 619.3L328.6 623.8L329.0 628.3L329.4 632.5L329.8 636.3L330.3 639.5L330.7 641.9L331.1 643.4L331.5 643.9L332.0 643.6L332.4 642.8L332.8 641.6L333.2 639.9L333.6 637.7L334.0 635.3L334.5 632.7L334.9 629.9L335.3 627.0L335.7 624.2L336.1 621.5L336.5 619.1L336.9 617.0L337.4 615.3L337.8 614.0L338.2 613.2L338.6 613.0L339.0 613.2L339.4 613.7L339.9 614.5L340.3 615.7L340.7 617.2L341.1 619.0L341.5 621.0L341.9 623.2L342.3 625.6L342.7 628.1L343.2 630.7L343.6 633.4L344.0 636.1L344.4 638.7L344.8 641.2L345.2 643.6L345.6 645.8L346.1 647.8L346.5 649.6L346.9 651.1L347.3 652.3L347.7 653.1L348.1 653.6L348.5 653.8L349.0 653.7L349.4 653.3L349.8 652.8L350.2 652.0L350.6 651.1L351.0 650.0L351.4 648.9L351.8 647.7L352.3 646.6L352.7 645.5L353.1 644.6L353.5 643.8L353.9 643.3L354.3 642.9L354.7 642.8L355.1 643.3L355.6 645.0L356.0 647.7L356.4 651.3L356.9 655.6L357.3 660.4L357.7 665.4L358.1 670.4L358.6 675.2L359.0 679.5L359.4 683.1L359.8 685.8L360.3 687.5L360.7 688.0L361.1 687.5L361.5 685.8L361.9 683.1L362.3 679.5L362.8 675.0L363.2 670.0L363.6 664.5L364.0 658.8L364.4 653.1L364.8 647.6L365.2 642.5L365.7 638.1L366.1 634.5L366.5 631.8L366.9 630.1L367.3 629.5L367.7 630.0L368.1 631.5L368.5 633.8L368.9 637.0L369.3 641.0L369.7 645.5L370.1 650.6L370.5 656.0L370.9 661.5L371.4 667.1L371.8 672.5L372.2 677.5L372.6 682.1L373.0 686.1L373.4 689.3L373.8 691.6L374.2 693.1L374.6 693.6L375.0 693.1L375.4 691.9L375.9 689.9L376.3 687.3L376.7 684.2L377.1 680.7L377.6 677.0L378.0 673.3L378.4 669.8L378.8 666.7L379.3 664.1L379.7 662.1L380.1 660.9L380.6 660.4L381.0 661.5L381.4 664.8L381.8 670.1L382.2 677.1L382.6 685.6L383.0 695.2L383.4 705.5L383.8 716.0L384.2 726.3L384.6 735.9L385.0 744.4L385.4 751.5L385.8 756.7L386.2 760.0L386.6 761.1L387.0 760.1L387.5 757.1L387.9 752.2L388.3 745.7L388.7 737.7L389.1 728.6L389.5 718.7L389.9 708.4L390.3 698.2L390.8 688.3L391.2 679.2L391.6 671.2L392.0 664.7L392.4 659.8L392.8 656.8L393.2 655.8L393.7 656.5L394.1 658.7L394.5 662.2L394.9 666.8L395.4 672.3L395.8 678.3L396.2 684.5L396.6 690.5L397.1 695.9L397.5 700.6L397.9 704.1L398.3 706.3L398.8 707.0L399.2 706.5L399.6 704.9L400.0 702.4L400.4 699.0L400.8 694.7L401.2 689.7L401.6 684.2L402.0 678.3L402.4 672.1L402.8 665.8L403.2 659.6L403.6 653.6L404.1 648.1L404.5 643.1L404.9 638.9L405.3 635.4L405.7 632.9L406.1 631.4L406.5 630.8L406.9 631.5L407.3 633.3L407.7 636.4L408.1 640.5L408.5 645.7L408.9 651.8L409.3 658.6L409.8 665.9L410.2 673.7L410.6 681.6L411.0 689.6L411.4 697.3L411.8 704.7L412.2 711.5L412.6 717.5L413.0 722.7L413.4 726.9L413.8 729.9L414.2 731.8L414.7 732.4L415.1 731.6L415.5 729.2L415.9 725.4L416.4 720.5L416.8 714.8L417.2 708.7L417.6 702.5L418.0 696.8L418.5 691.9L418.9 688.1L419.3 685.7L419.7 684.9L420.2 685.5L420.6 687.1L421.0 689.6L421.4 693.0L421.9 697.0L422.3 701.4L422.7 705.9L423.1 710.3L423.6 714.3L424.0 717.7L424.4 720.3L424.8 721.9L425.3 722.5L425.7 721.5L426.1 718.7L426.5 714.1L427.0 708.1L427.4 701.1L427.8 693.3L428.2 685.3L428.7 677.6L429.1 670.5L429.5 664.6L429.9 660.0L430.3 657.2L430.8 656.2L431.2 654.8L431.6 650.9L432.0 645.0L432.4 638.0L432.8 631.0L433.3 625.1L433.7 621.2L434.1 619.8L434.5 619.7L434.9 619.3L435.3 618.7L435.8 618.0L436.2 617.2L436.6 616.5L437.0 615.9L437.4 615.5L437.8 615.4L438.3 614.2L438.7 610.8L439.2 606.0L439.6 600.7L440.1 595.8L440.5 592.5L441.0 591.3L441.4 590.2L441.8 586.9L442.2 581.8L442.6 575.1L443.0 567.6L443.4 559.8L443.8 552.2L444.2 545.6L444.6 540.5L445.0 537.2L445.4 536.1L445.8 535.9L446.2 535.5L446.6 534.8L447.0 533.8L447.4 532.8L447.8 531.7L448.2 530.6L448.6 529.7L449.0 529.0L449.4 528.5L449.8 528.4L450.2 528.0L450.7 527.0L451.1 525.5L451.5 523.4L451.9 520.9L452.3 518.2L452.8 515.4L453.2 512.7L453.6 510.2L454.0 508.1L454.5 506.5L454.9 505.5L455.3 505.2L455.8 504.7L456.2 503.4L456.6 501.3L457.1 498.8L457.5 496.1L458.0 493.6L458.4 491.5L458.9 490.2L459.3 489.7L459.7 489.8L460.2 490.0L460.6 490.3L461.1 490.6L461.5 490.8L461.9 490.8L462.3 491.3L462.7 492.7L463.1 494.8L463.5 497.6L463.9 500.8L464.4 504.1L464.8 507.2L465.2 510.0L465.6 512.2L466.0 513.5L466.4 514.0L466.8 513.9L467.2 513.4L467.6 512.6L468.1 511.5L468.5 510.3L468.9 509.0L469.3 507.6L469.8 506.2L470.2 505.0L470.6 504.0L471.0 503.2L471.5 502.7L471.9 502.5L472.3 502.7L472.8 503.3L473.2 504.0L473.6 504.5L474.1 504.7L474.5 504.5L475.0 503.8L475.4 502.8L475.8 501.6L476.3 500.2L476.7 499.0L477.2 497.9L477.6 497.3L478.1 497.0L478.5 497.7L478.9 499.5L479.3 502.3L479.7 505.5L480.1 508.8L480.5 511.5L481.0 513.4L481.4 514.0L481.8 513.3L482.2 511.4L482.6 508.6L483.0 505.2L483.4 501.8L483.9 498.9L484.3 497.0L484.7 496.4L485.1 496.5L485.5 497.0L486.0 497.7L486.4 498.6L486.8 499.8L487.2 501.0L487.7 502.3L488.1 503.5L488.5 504.7L488.9 505.6L489.3 506.3L489.8 506.8L490.2 507.0L490.6 506.8L491.0 506.3L491.4 505.6L491.8 504.6L492.2 503.5L492.6 502.4L493.0 501.3L493.4 500.4L493.8 499.6L494.2 499.2L494.6 499.0L495.0 499.5L495.4 501.0L495.8 503.3L496.2 506.3L496.6 509.7L497.0 513.3L497.4 516.7L497.8 519.6L498.2 522.0L498.6 523.4L499.0 524.0L499.5 523.0L499.9 520.2L500.4 516.2L500.8 511.8L501.2 507.8L501.7 505.1L502.1 504.1L502.5 504.6L502.9 506.0L503.4 508.3L503.8 511.4L504.2 515.1L504.6 519.4L505.0 524.1L505.4 528.9L505.8 533.8L506.3 538.4L506.7 542.7L507.1 546.5L507.5 549.6L507.9 551.9L508.3 553.3L508.7 553.8L509.1 553.5L509.6 552.9L510.0 551.8L510.4 550.3L510.8 548.5L511.2 546.5L511.6 544.2L512.0 541.7L512.4 539.2L512.8 536.7L513.2 534.2L513.6 531.9L514.0 529.8L514.4 528.0L514.8 526.6L515.2 525.5L515.6 524.8L516.0 524.6L516.4 524.8L516.8 525.5L517.2 526.6L517.6 527.9L518.1 529.5L518.5 531.2L518.9 533.0L519.3 534.5L519.7 535.9L520.1 537.0L520.5 537.6L520.9 537.9L521.3 537.6L521.7 536.8L522.1 535.5L522.5 533.8L522.9 531.6L523.3 529.0L523.7 526.0L524.1 522.8L524.5 519.4L524.9 515.8L525.3 512.1L525.7 508.5L526.1 504.9L526.5 501.5L526.9 498.2L527.3 495.3L527.7 492.7L528.1 490.5L528.5 488.7L528.9 487.5L529.3 486.7L529.7 486.4L530.1 486.8L530.5 488.0L531.0 489.8L531.4 491.9L531.8 494.1L532.2 495.8L532.6 497.0L533.0 497.5L533.5 496.8L533.9 495.2L534.3 493.1L534.8 491.5L535.2 490.8L535.7 491.3L536.1 492.5L536.5 494.6L536.9 497.2L537.3 500.2L537.8 503.5L538.2 506.8L538.6 509.9L539.0 512.5L539.5 514.5L539.9 515.8L540.3 516.2L540.7 515.6L541.2 513.9L541.6 511.2L542.0 507.7L542.4 503.5L542.8 499.1L543.3 494.7L543.7 490.6L544.1 487.0L544.5 484.3L545.0 482.6L545.4 482.0L545.8 482.5L546.2 483.9L546.7 486.2L547.1 489.2L547.5 492.8L547.9 496.9L548.4 501.1L548.8 505.4L549.2 509.4L549.6 513.0L550.1 516.0L550.5 518.3L550.9 519.7L551.3 520.2L551.8 519.8L552.2 518.6L552.6 516.6L553.0 514.1L553.4 511.2L553.8 508.1L554.2 504.9L554.6 502.0L555.0 499.5L555.4 497.5L555.8 496.3L556.2 495.9L556.6 496.7L557.0 498.8L557.4 502.0L557.9 505.8L558.3 509.7L558.7 512.9L559.1 515.0L559.5 515.8L560.0 515.5L560.4 514.6L560.8 513.2L561.3 511.6L561.7 510.0L562.2 508.6L562.6 507.7L563.0 507.4L563.5 506.9L563.9 505.5L564.3 503.3L564.7 500.6L565.1 497.7L565.5 495.0L566.0 492.8L566.4 491.3L566.8 490.8L567.2 491.4L567.6 493.1L568.0 495.8L568.5 499.4L568.9 503.5L569.3 507.9L569.7 512.4L570.1 516.5L570.5 520.0L570.9 522.8L571.4 524.5L571.8 525.1L572.2 524.3L572.6 522.0L573.0 518.4L573.4 513.7L573.8 508.3L574.2 502.4L574.6 496.6L575.0 491.1L575.4 486.4L575.8 482.8L576.2 480.6L576.6 479.8L577.0 481.0L577.5 484.6L577.9 490.0L578.3 496.7L578.7 503.8L579.1 510.4L579.5 515.9L580.0 519.4L580.4 520.6L580.8 519.9L581.2 517.9L581.6 514.7L582.1 510.7L582.5 506.3L582.9 501.9L583.3 497.9L583.7 494.7L584.2 492.6L584.6 491.9L585.0 492.4L585.4 493.7L585.8 495.8L586.3 498.4L586.7 501.4L587.1 504.6L587.5 507.6L587.9 510.2L588.4 512.3L588.8 513.6L589.2 514.0L589.6 513.3L590.0 511.3L590.5 508.0L590.9 503.9L591.3 499.2L591.7 494.2L592.2 489.5L592.6 485.3L593.0 482.1L593.4 480.1L593.8 479.4L594.2 480.1L594.6 482.2L595.0 485.5L595.4 489.8L595.8 494.7L596.2 499.8L596.7 504.7L597.1 509.0L597.5 512.3L597.9 514.4L598.3 515.1L598.7 514.6L599.1 513.0L599.5 510.4L599.9 507.0L600.3 503.0L600.7 498.6L601.1 494.1L601.5 489.7L601.9 485.7L602.3 482.3L602.7 479.7L603.1 478.1L603.6 477.6L604.0 478.2L604.4 479.9L604.8 482.6L605.3 486.2L605.7 490.4L606.1 495.1L606.5 499.9L607.0 504.5L607.4 508.7L607.8 512.3L608.2 515.1L608.6 516.8L609.1 517.3L609.5 516.5L609.9 514.3L610.3 510.7L610.8 506.0L611.2 500.8L611.6 495.3L612.0 490.0L612.4 485.4L612.9 481.8L613.3 479.5L613.7 478.7L614.1 479.4L614.5 481.4L614.9 484.5L615.3 488.6L615.7 493.4L616.1 498.6L616.5 503.7L616.9 508.5L617.4 512.6L617.8 515.8L618.2 517.8L618.6 518.4L619.0 517.6L619.4 515.3L619.8 511.6L620.2 506.8L620.6 501.4L621.0 495.7L621.4 490.3L621.8 485.6L622.2 481.9L622.6 479.5L623.0 478.7L623.4 479.4L623.8 481.6L624.2 485.0L624.6 489.5L625.0 494.7L625.4 500.2L625.8 505.8L626.2 511.0L626.6 515.4L627.0 518.9L627.4 521.0L627.8 521.7L628.3 520.9L628.7 518.4L629.1 514.5L629.5 509.5L629.9 503.8L630.4 497.8L630.8 492.1L631.2 487.0L631.6 483.1L632.1 480.7L632.5 479.8L632.9 480.4L633.3 482.1L633.7 484.8L634.1 488.4L634.5 492.5L634.9 496.9L635.3 501.3L635.7 505.5L636.1 509.0L636.5 511.7L636.9 513.4L637.3 514.0L637.7 513.4L638.1 511.6L638.5 508.8L638.9 505.1L639.4 500.8L639.8 496.1L640.2 491.5L640.6 487.2L641.0 483.5L641.4 480.7L641.8 478.9L642.2 478.3L642.6 479.0L643.0 481.0L643.4 484.2L643.9 488.4L644.3 493.1L644.7 498.1L645.1 502.8L645.6 506.9L646.0 510.2L646.4 512.2L646.8 512.9L647.2 512.4L647.6 511.0L648.0 508.7L648.4 505.7L648.8 502.3L649.2 498.6L649.7 494.9L650.1 491.4L650.5 488.4L650.9 486.1L651.3 484.7L651.7 484.2L652.1 485.0L652.5 487.4L652.9 491.1L653.3 495.6L653.8 500.4L654.2 504.9L654.6 508.6L655.0 511.0L655.4 511.8L655.9 510.9L656.3 508.3L656.8 504.4L657.2 499.5L657.6 494.3L658.1 489.5L658.5 485.5L659.0 482.9L659.4 482.0L659.8 482.7L660.2 484.6L660.6 487.7L661.0 491.7L661.4 496.2L661.8 500.9L662.2 505.4L662.6 509.4L663.0 512.5L663.4 514.5L663.8 515.1L664.2 514.4L664.6 512.4L665.0 509.1L665.4 504.8L665.8 499.8L666.2 494.5L666.7 489.1L667.1 484.2L667.5 479.9L667.9 476.6L668.3 474.5L668.7 473.8L669.1 474.6L669.5 477.0L669.9 480.7L670.4 485.6L670.8 491.4L671.2 497.8L671.6 504.4L672.1 510.8L672.5 516.6L672.9 521.5L673.3 525.2L673.8 527.6L674.2 528.4L674.6 527.8L675.0 526.1L675.4 523.4L675.8 519.8L676.2 515.4L676.7 510.6L677.1 505.5L677.5 500.4L677.9 495.6L678.3 491.3L678.7 487.7L679.1 484.9L679.5 483.2L679.9 482.7L680.3 483.2L680.7 484.6L681.2 486.8L681.6 489.8L682.0 493.4L682.4 497.2L682.8 501.2L683.2 505.1L683.6 508.6L684.0 511.6L684.4 513.9L684.8 515.3L685.2 515.8L685.7 515.2L686.1 513.5L686.5 510.8L686.9 507.2L687.3 503.1L687.8 498.7L688.2 494.2L688.6 490.1L689.0 486.6L689.5 483.9L689.9 482.2L690.3 481.6L690.7 482.1L691.1 483.7L691.5 486.2L691.9 489.4L692.3 493.1L692.7 496.9L693.1 500.6L693.5 503.9L693.9 506.4L694.3 508.0L694.7 508.5L695.1 508.0L695.5 506.4L696.0 504.2L696.4 501.8L696.8 499.5L697.2 498.0L697.6 497.5L698.0 498.3L698.4 500.6L698.8 504.1L699.3 508.4L699.7 513.0L700.1 517.3L700.5 520.9L700.9 523.2L701.3 524.0L701.8 523.5L702.2 522.2L702.6 520.1L703.0 517.3L703.5 514.0L703.9 510.4L704.3 506.6L704.7 503.0L705.2 499.7L705.6 496.9L706.0 494.8L706.4 493.5L706.9 493.0L707.3 493.8L707.7 496.0L708.1 499.4L708.5 503.5L709.0 507.9L709.4 512.1L709.8 515.5L710.2 517.7L710.6 518.4L711.1 518.1L711.5 517.1L711.9 515.7L712.4 513.9L712.8 512.0L713.3 510.2L713.7 508.7L714.2 507.7L714.6 507.4L715.0 507.9L715.5 509.3L715.9 511.0L716.4 512.4L716.8 512.9L717.2 512.4L717.6 510.9L718.1 508.6L718.5 505.4L718.9 501.7L719.3 497.7L719.8 493.5L720.2 489.4L720.6 485.7L721.0 482.6L721.5 480.2L721.9 478.8L722.3 478.3L722.7 479.2L723.1 481.8L723.6 486.0L724.0 491.5L724.4 497.9L724.8 504.7L725.2 511.6L725.6 518.0L726.0 523.5L726.5 527.7L726.9 530.3L727.3 531.2L727.7 530.3L728.1 527.4L728.5 522.9L728.9 517.2L729.3 510.6L729.7 503.8L730.1 497.2L730.5 491.4L730.9 486.9L731.3 484.1L731.7 483.1L732.1 483.9L732.5 486.1L732.9 489.6L733.3 494.2L733.7 499.5L734.1 505.2L734.5 510.9L734.9 516.2L735.3 520.8L735.7 524.3L736.2 526.5L736.6 527.3L737.0 526.4L737.4 523.9L737.8 520.0L738.2 514.8L738.6 508.9L739.0 502.4L739.4 496.0L739.8 490.0L740.2 484.9L740.6 480.9L741.0 478.4L741.4 477.6L741.8 478.4L742.3 480.8L742.7 484.6L743.1 489.5L743.5 495.1L743.9 500.9L744.4 506.5L744.8 511.4L745.2 515.2L745.6 517.6L746.0 518.4L746.5 517.7L746.9 515.4L747.3 511.9L747.7 507.3L748.2 501.9L748.6 496.1L749.0 490.4L749.4 485.0L749.9 480.4L750.3 476.8L750.7 474.6L751.1 473.8L751.5 474.6L751.9 476.9L752.3 480.6L752.8 485.5L753.2 491.2L753.6 497.5L754.0 504.0L754.4 510.3L754.8 516.1L755.2 520.9L755.6 524.6L756.0 526.9L756.4 527.7L756.8 527.0L757.3 525.0L757.7 521.7L758.1 517.4L758.5 512.2L759.0 506.6L759.4 500.9L759.8 495.3L760.2 490.1L760.7 485.8L761.1 482.5L761.5 480.5L761.9 479.8L762.3 480.3L762.8 481.6L763.2 483.7L763.6 486.4L764.0 489.6L764.4 493.0L764.8 496.5L765.2 499.7L765.6 502.4L766.0 504.5L766.4 505.8L766.8 506.3L767.2 505.9L767.6 504.6L768.0 502.7L768.4 500.2L768.8 497.3L769.2 494.3L769.6 491.4L770.0 488.9L770.4 487.0L770.8 485.7L771.2 485.3L771.6 485.5L772.0 486.0L772.5 486.7L772.9 487.7L773.3 489.0L773.7 490.4L774.1 492.0L774.5 493.6L774.9 495.2L775.4 496.8L775.8 498.2L776.2 499.5L776.6 500.5L777.0 501.2L777.4 501.7L777.8 501.9L778.2 501.6L778.6 500.6L779.0 499.2L779.4 497.4L779.8 495.2L780.2 493.1L780.6 490.9L781.0 489.1L781.4 487.7L781.9 486.7L782.3 486.4L782.7 487.0L783.1 488.8L783.6 491.4L784.0 494.5L784.5 497.6L784.9 500.2L785.3 501.9L785.8 502.5L786.2 502.4L786.7 502.1L787.1 501.7L787.5 501.3L788.0 501.2L788.4 501.5L788.9 502.2L789.3 503.1L789.8 503.8L790.2 504.1L790.6 503.6L791.0 502.4L791.4 500.4L791.9 498.0L792.3 495.4L792.7 493.0L793.1 491.0L793.5 489.7L794.0 489.3L794.4 490.2L794.8 492.9L795.3 497.0L795.7 502.1L796.2 507.4L796.6 512.5L797.0 516.6L797.5 519.3L797.9 520.2L798.3 519.4L798.7 517.3L799.1 513.8L799.5 509.4L799.9 504.3L800.3 499.0L800.7 494.0L801.1 489.5L801.5 486.1L801.9 483.9L802.3 483.1L802.8 484.3L803.2 487.7L803.6 493.0L804.1 499.7L804.5 507.2L804.9 514.6L805.3 521.3L805.8 526.6L806.2 530.1L806.6 531.2L807.0 530.2L807.4 527.1L807.8 522.2L808.2 515.9L808.6 508.7L809.0 501.2L809.4 494.1L809.8 487.8L810.2 482.9L810.6 479.8L811.0 478.7L811.4 479.6L811.8 482.3L812.2 486.6L812.6 492.1L813.0 498.4L813.4 504.9L813.8 511.2L814.2 516.7L814.6 521.0L815.1 523.7L815.5 524.6L815.9 523.8L816.3 521.6L816.7 518.0L817.1 513.3L817.5 507.8L817.9 502.0L818.3 496.1L818.7 490.7L819.1 486.0L819.5 482.4L819.9 480.1L820.3 479.4L820.7 480.1L821.1 482.2L821.5 485.5L821.9 489.8L822.3 494.7L822.7 499.8L823.1 504.7L823.5 509.0L823.9 512.3L824.3 514.4L824.7 515.1L825.2 514.3L825.6 512.0L826.0 508.5L826.5 504.2L826.9 499.6L827.4 495.3L827.8 491.7L828.3 489.4L828.7 488.6L829.1 489.2L829.5 490.8L829.9 493.3L830.3 496.6L830.7 500.3L831.1 504.1L831.5 507.8L831.9 511.1L832.3 513.6L832.7 515.2L833.1 515.8L833.5 515.0L833.9 512.8L834.3 509.3L834.7 504.8L835.1 499.7L835.5 494.3L835.9 489.2L836.3 484.7L836.7 481.2L837.1 479.0L837.5 478.3L837.9 479.0L838.3 481.1L838.7 484.5L839.1 488.9L839.5 493.9L839.9 499.1L840.3 504.0L840.7 508.4L841.1 511.8L841.5 513.9L841.9 514.7L842.4 514.0L842.8 512.1L843.2 509.0L843.6 505.0L844.0 500.5L844.5 495.8L844.9 491.2L845.3 487.3L845.7 484.2L846.2 482.2L846.6 481.6L847.0 482.2L847.4 483.9L847.8 486.7L848.2 490.4L848.6 494.7L849.0 499.2L849.4 503.8L849.8 508.1L850.2 511.7L850.6 514.5L851.0 516.3L851.4 516.9L851.9 516.2L852.3 514.3L852.7 511.3L853.1 507.3L853.6 502.7L854.0 497.8L854.4 492.9L854.8 488.2L855.2 484.3L855.7 481.3L856.1 479.3L856.5 478.7L856.9 479.2L857.3 480.6L857.7 482.9L858.1 485.8L858.5 489.4L859.0 493.3L859.4 497.2L859.8 501.1L860.2 504.7L860.6 507.6L861.0 509.9L861.4 511.3L861.8 511.8L862.2 511.7L862.6 511.2L863.0 510.4L863.4 509.4L863.8 508.1L864.2 506.6L864.6 504.9L865.0 503.1L865.5 501.3L865.9 499.5L866.3 497.7L866.7 496.1L867.1 494.6L867.5 493.3L867.9 492.2L868.3 491.5L868.7 491.0L869.1 490.8L869.5 491.3L869.9 492.5L870.3 494.5L870.7 497.1L871.1 500.1L871.5 503.3L871.9 506.5L872.3 509.5L872.7 512.1L873.1 514.1L873.5 515.4L874.0 515.8L874.4 515.2L874.8 513.6L875.2 511.1L875.6 507.8L876.0 504.1L876.4 500.3L876.8 496.6L877.2 493.3L877.6 490.8L878.0 489.2L878.4 488.6L878.8 489.1L879.2 490.6L879.6 493.0L880.0 496.1L880.4 499.5L880.8 503.1L881.2 506.6L881.6 509.6L882.0 512.0L882.4 513.5L882.8 514.0L883.2 513.4L883.6 511.5L884.0 508.7L884.4 505.4L884.9 502.1L885.3 499.3L885.7 497.5L886.1 496.8L886.5 496.7L887.0 496.3L887.4 495.8L887.9 495.4L888.3 495.3L888.7 495.1L889.1 494.5L889.5 493.5L889.9 492.4L890.3 491.0L890.7 489.6L891.1 488.2L891.5 487.0L891.9 486.1L892.3 485.5L892.7 485.3L893.2 486.6L893.6 488.0" fill="none" stroke="#ff0000" stroke-width="2.4" stroke-linejoin="round"/>
<rect x="82.70" y="435.60" width="861.90" height="327.60" fill="none" stroke="#000" stroke-width="1.15"/>
<path d="M82.70 763.20v-5M190.44 763.20v-5M298.18 763.20v-5M405.91 763.20v-5M513.65 763.20v-5M621.39 763.20v-5M729.12 763.20v-5M836.86 763.20v-5M944.60 763.20v-5M82.70 763.20h5M82.70 716.40h5M82.70 669.60h5M82.70 622.80h5M82.70 576.00h5M82.70 529.20h5M82.70 482.40h5M82.70 435.60h5" stroke="#000" stroke-width="2" fill="none"/>
</svg>
</body></html>
